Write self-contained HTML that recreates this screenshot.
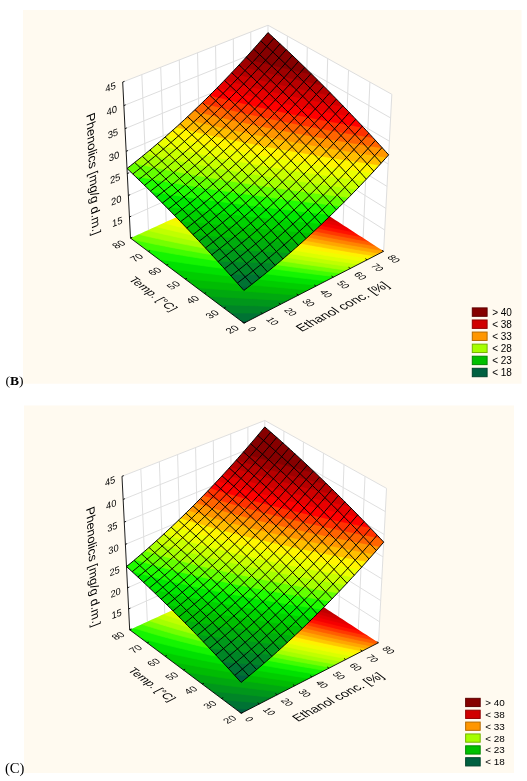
<!DOCTYPE html>
<html><head><meta charset="utf-8"><title>Response surface plots</title>
<style>html,body{margin:0;padding:0;background:#fff}svg{display:block}</style></head>
<body>
<svg width="527" height="781" viewBox="0 0 527 781">
<rect x="23" y="10" width="498.5" height="373.7" fill="#fffaf0"/>
<rect x="24" y="405.5" width="490" height="367.5" fill="#fffaf0"/>
<polygon points="130.51,238.14 122.69,82.07 268,25.24 267.26,175.8" fill="#fff"/>
<polygon points="267.26,175.8 268,25.24 391.83,94.3 383.64,251.34" fill="#fff"/>
<g stroke="#dedede" stroke-width="1" fill="none"><line x1="129.45" y1="216.98" x2="267.36" y2="155.33"/><line x1="267.36" y1="155.33" x2="384.75" y2="230.06"/><line x1="128.37" y1="195.46" x2="267.46" y2="134.53"/><line x1="267.46" y1="134.53" x2="385.88" y2="208.42"/><line x1="127.27" y1="173.57" x2="267.57" y2="113.38"/><line x1="267.57" y1="113.38" x2="387.03" y2="186.4"/><line x1="126.16" y1="151.29" x2="267.67" y2="91.89"/><line x1="267.67" y1="91.89" x2="388.2" y2="163.98"/><line x1="125.02" y1="128.63" x2="267.78" y2="70.04"/><line x1="267.78" y1="70.04" x2="389.39" y2="141.17"/><line x1="123.87" y1="105.55" x2="267.89" y2="47.83"/><line x1="267.89" y1="47.83" x2="390.6" y2="117.95"/><line x1="122.69" y1="82.07" x2="268" y2="25.24"/><line x1="268" y1="25.24" x2="391.83" y2="94.3"/><line x1="148.48" y1="229.94" x2="141.84" y2="74.58"/><line x1="166.18" y1="221.87" x2="160.7" y2="67.2"/><line x1="183.64" y1="213.92" x2="179.26" y2="59.94"/><line x1="200.84" y1="206.08" x2="197.55" y2="52.79"/><line x1="217.8" y1="198.34" x2="215.56" y2="45.75"/><line x1="234.52" y1="190.72" x2="233.3" y2="38.81"/><line x1="251.01" y1="183.21" x2="250.78" y2="31.97"/><line x1="267.26" y1="175.8" x2="268" y2="25.24"/><line x1="383.64" y1="251.34" x2="391.83" y2="94.3"/><line x1="363.12" y1="238.02" x2="369.92" y2="82.08"/><line x1="343.07" y1="225" x2="348.54" y2="70.16"/><line x1="323.47" y1="212.28" x2="327.68" y2="58.52"/><line x1="304.32" y1="199.85" x2="307.31" y2="47.16"/><line x1="285.58" y1="187.69" x2="287.42" y2="36.07"/></g>
<g><clipPath id="bf"><polygon points="244.01,323.13 247.71,321.22 251.41,319.32 255.09,317.43 258.76,315.54 262.42,313.66 266.07,311.79 269.71,309.92 273.33,308.05 276.95,306.19 280.55,304.34 284.14,302.5 287.72,300.65 291.29,298.82 294.85,296.99 298.39,295.17 301.93,293.35 305.46,291.54 308.97,289.73 312.47,287.93 315.97,286.13 319.45,284.34 322.92,282.56 326.38,280.78 329.83,279 333.27,277.24 336.7,275.47 340.12,273.71 343.53,271.96 346.93,270.21 350.32,268.47 353.69,266.74 357.06,265 360.42,263.28 363.77,261.56 367.1,259.84 370.43,258.13 373.75,256.43 377.06,254.72 380.35,253.03 383.64,251.34 380.53,249.32 377.43,247.31 374.35,245.31 371.27,243.31 368.21,241.32 365.15,239.34 362.11,237.36 359.07,235.39 356.05,233.43 353.04,231.47 350.03,229.52 347.04,227.58 344.06,225.65 341.09,223.72 338.13,221.8 335.18,219.88 332.24,217.97 329.3,216.07 326.38,214.17 323.47,212.28 320.57,210.4 317.68,208.52 314.8,206.65 311.93,204.79 309.06,202.93 306.21,201.08 303.37,199.23 300.54,197.4 297.71,195.56 294.9,193.74 292.09,191.92 289.3,190.1 286.51,188.29 283.73,186.49 280.97,184.69 278.21,182.9 275.46,181.12 272.72,179.34 269.99,177.57 267.26,175.8 264.03,177.27 260.79,178.75 257.54,180.23 254.28,181.72 251.01,183.21 247.73,184.7 244.44,186.2 241.14,187.7 237.84,189.21 234.52,190.72 231.2,192.24 227.86,193.76 224.52,195.28 221.16,196.81 217.8,198.34 214.43,199.88 211.05,201.42 207.65,202.97 204.25,204.52 200.84,206.08 197.42,207.63 193.99,209.2 190.55,210.77 187.1,212.34 183.64,213.92 180.17,215.5 176.69,217.09 173.2,218.68 169.7,220.27 166.18,221.87 162.66,223.48 159.13,225.09 155.59,226.7 152.04,228.32 148.48,229.94 144.9,231.57 141.32,233.21 137.73,234.84 134.12,236.49 130.51,238.14 133.15,240.12 135.81,242.1 138.47,244.1 141.14,246.1 143.82,248.11 146.51,250.12 149.21,252.14 151.92,254.17 154.64,256.21 157.37,258.25 160.11,260.3 162.86,262.36 165.62,264.43 168.39,266.5 171.17,268.58 173.95,270.67 176.75,272.77 179.56,274.87 182.38,276.98 185.21,279.1 188.05,281.22 190.9,283.36 193.76,285.5 196.63,287.65 199.51,289.8 202.4,291.97 205.3,294.14 208.21,296.32 211.13,298.51 214.07,300.71 217.01,302.91 219.97,305.13 222.93,307.35 225.91,309.58 228.9,311.81 231.9,314.06 234.91,316.31 237.93,318.58 240.96,320.85"/></clipPath><g clip-path="url(#bf)" opacity="0.999" stroke-width="0.7" stroke-linejoin="round"><polygon points="244.01,323.13 247.71,321.22 251.41,319.32 255.09,317.43 258.76,315.54 262.42,313.66 266.07,311.79 269.71,309.92 273.33,308.05 276.95,306.19 280.55,304.34 284.14,302.5 287.72,300.65 291.29,298.82 294.85,296.99 298.39,295.17 301.93,293.35 305.46,291.54 308.97,289.73 312.47,287.93 315.97,286.13 319.45,284.34 322.92,282.56 326.38,280.78 329.83,279 333.27,277.24 336.7,275.47 340.12,273.71 343.53,271.96 346.93,270.21 350.32,268.47 353.69,266.74 357.06,265 360.42,263.28 363.77,261.56 367.1,259.84 370.43,258.13 373.75,256.43 377.06,254.72 380.35,253.03 383.64,251.34 380.53,249.32 377.43,247.31 374.35,245.31 371.27,243.31 368.21,241.32 365.15,239.34 362.11,237.36 359.07,235.39 356.05,233.43 353.04,231.47 350.03,229.52 347.04,227.58 344.06,225.65 341.09,223.72 338.13,221.8 335.18,219.88 332.24,217.97 329.3,216.07 326.38,214.17 323.47,212.28 320.57,210.4 317.68,208.52 314.8,206.65 311.93,204.79 309.06,202.93 306.21,201.08 303.37,199.23 300.54,197.4 297.71,195.56 294.9,193.74 292.09,191.92 289.3,190.1 286.51,188.29 283.73,186.49 280.97,184.69 278.21,182.9 275.46,181.12 272.72,179.34 269.99,177.57 267.26,175.8 264.03,177.27 260.79,178.75 257.54,180.23 254.28,181.72 251.01,183.21 247.73,184.7 244.44,186.2 241.14,187.7 237.84,189.21 234.52,190.72 231.2,192.24 227.86,193.76 224.52,195.28 221.16,196.81 217.8,198.34 214.43,199.88 211.05,201.42 207.65,202.97 204.25,204.52 200.84,206.08 197.42,207.63 193.99,209.2 190.55,210.77 187.1,212.34 183.64,213.92 180.17,215.5 176.69,217.09 173.2,218.68 169.7,220.27 166.18,221.87 162.66,223.48 159.13,225.09 155.59,226.7 152.04,228.32 148.48,229.94 144.9,231.57 141.32,233.21 137.73,234.84 134.12,236.49 130.51,238.14 133.15,240.12 135.81,242.1 138.47,244.1 141.14,246.1 143.82,248.11 146.51,250.12 149.21,252.14 151.92,254.17 154.64,256.21 157.37,258.25 160.11,260.3 162.86,262.36 165.62,264.43 168.39,266.5 171.17,268.58 173.95,270.67 176.75,272.77 179.56,274.87 182.38,276.98 185.21,279.1 188.05,281.22 190.9,283.36 193.76,285.5 196.63,287.65 199.51,289.8 202.4,291.97 205.3,294.14 208.21,296.32 211.13,298.51 214.07,300.71 217.01,302.91 219.97,305.13 222.93,307.35 225.91,309.58 228.9,311.81 231.9,314.06 234.91,316.31 237.93,318.58 240.96,320.85" fill="#006040" stroke="#006040"/><polygon points="244.01,323.13 241.98,321.61 239.95,320.09 237.93,318.58 235.92,317.07 233.9,315.56 231.9,314.06 229.9,312.56 227.9,311.07 225.91,309.58 223.93,308.09 221.94,306.61 219.97,305.13 218,303.65 216.03,302.18 214.07,300.71 212.11,299.24 210.16,297.78 208.21,296.32 206.27,294.87 204.33,293.42 202.4,291.97 200.47,290.53 198.55,289.08 196.63,287.65 194.71,286.21 192.8,284.78 190.9,283.36 189,281.93 187.1,280.51 185.21,279.1 183.32,277.68 181.44,276.27 179.56,274.87 177.69,273.47 175.82,272.07 173.95,270.67 172.09,269.28 170.24,267.89 168.39,266.5 166.54,265.12 164.7,263.74 162.86,262.36 161.03,260.99 159.2,259.62 157.37,258.25 155.55,256.89 153.74,255.53 151.92,254.17 150.12,252.82 148.31,251.47 146.51,250.12 144.72,248.78 142.93,247.44 141.14,246.1 139.36,244.76 137.58,243.43 135.81,242.1 134.03,240.78 132.27,239.45 130.51,238.14 142.52,232.66 154.41,227.24 166.18,221.87 177.85,216.56 189.4,211.29 200.84,206.08 212.17,200.91 223.4,195.79 234.52,190.72 245.54,185.7 256.45,180.73 267.26,175.8 276.37,181.71 285.58,187.69 294.9,193.74 304.32,199.85 313.84,206.03 323.47,212.28 333.21,218.61 343.07,225 353.04,231.47 363.12,238.02 373.32,244.64 383.64,251.34 372.64,256.99 361.54,262.7 350.32,268.47 338.98,274.3 327.53,280.19 315.97,286.13 304.28,292.14 292.48,298.21 280.55,304.34 268.5,310.54 256.32,316.8" fill="#006040" stroke="#006040"/><polygon points="248.84,320.64 243.72,320.72 239.95,320.09 237.93,318.58 235.92,317.07 233.9,315.56 231.9,314.06 229.9,312.56 227.9,311.07 225.91,309.58 223.93,308.09 221.94,306.61 219.97,305.13 218,303.65 216.03,302.18 214.07,300.71 212.11,299.24 210.16,297.78 208.21,296.32 206.27,294.87 204.33,293.42 202.4,291.97 200.47,290.53 198.55,289.08 196.63,287.65 194.71,286.21 192.8,284.78 190.9,283.36 189,281.93 187.1,280.51 185.21,279.1 183.32,277.68 181.44,276.27 179.56,274.87 177.69,273.47 175.82,272.07 173.95,270.67 172.09,269.28 170.24,267.89 168.39,266.5 166.54,265.12 164.7,263.74 162.86,262.36 161.03,260.99 159.2,259.62 157.37,258.25 155.55,256.89 153.74,255.53 151.92,254.17 150.12,252.82 148.31,251.47 146.51,250.12 144.72,248.78 142.93,247.44 141.14,246.1 139.36,244.76 137.58,243.43 135.81,242.1 134.03,240.78 132.27,239.45 130.51,238.14 142.52,232.66 154.41,227.24 166.18,221.87 177.85,216.56 189.4,211.29 200.84,206.08 212.17,200.91 223.4,195.79 234.52,190.72 245.54,185.7 256.45,180.73 267.26,175.8 276.37,181.71 285.58,187.69 294.9,193.74 304.32,199.85 313.84,206.03 323.47,212.28 333.21,218.61 343.07,225 353.04,231.47 363.12,238.02 373.32,244.64 383.64,251.34 373,256.81 362.26,262.33 351.42,267.91 340.47,273.54 329.41,279.22 318.24,284.96 306.96,290.76 295.57,296.62 284.06,302.54 272.44,308.51 260.7,314.55" fill="#007334" stroke="#007334"/><polygon points="263.28,313.22 258.48,313.14 253.67,313.07 248.83,313.01 243.98,312.96 239.1,312.92 234.2,312.89 229.9,312.56 227.9,311.07 225.91,309.58 223.93,308.09 221.94,306.61 219.97,305.13 218,303.65 216.03,302.18 214.07,300.71 212.11,299.24 210.16,297.78 208.21,296.32 206.27,294.87 204.33,293.42 202.4,291.97 200.47,290.53 198.55,289.08 196.63,287.65 194.71,286.21 192.8,284.78 190.9,283.36 189,281.93 187.1,280.51 185.21,279.1 183.32,277.68 181.44,276.27 179.56,274.87 177.69,273.47 175.82,272.07 173.95,270.67 172.09,269.28 170.24,267.89 168.39,266.5 166.54,265.12 164.7,263.74 162.86,262.36 161.03,260.99 159.2,259.62 157.37,258.25 155.55,256.89 153.74,255.53 151.92,254.17 150.12,252.82 148.31,251.47 146.51,250.12 144.72,248.78 142.93,247.44 141.14,246.1 139.36,244.76 137.58,243.43 135.81,242.1 134.03,240.78 132.27,239.45 130.51,238.14 142.52,232.66 154.41,227.24 166.18,221.87 177.85,216.56 189.4,211.29 200.84,206.08 212.17,200.91 223.4,195.79 234.52,190.72 245.54,185.7 256.45,180.73 267.26,175.8 276.37,181.71 285.58,187.69 294.9,193.74 304.32,199.85 313.84,206.03 323.47,212.28 333.21,218.61 343.07,225 353.04,231.47 363.12,238.02 373.32,244.64 383.64,251.34 374.09,256.25 364.45,261.2 354.74,266.2 344.93,271.24 335.04,276.33 325.06,281.46 314.99,286.63 304.84,291.85 294.59,297.12 284.25,302.44 273.81,307.8" fill="#008527" stroke="#008527"/><polygon points="276.1,306.63 271.53,306.44 266.96,306.27 262.37,306.09 257.78,305.92 253.17,305.76 248.56,305.6 243.94,305.45 239.3,305.3 234.66,305.17 230,305.03 225.32,304.91 220.64,304.79 218,303.65 216.03,302.18 214.07,300.71 212.11,299.24 210.16,297.78 208.21,296.32 206.27,294.87 204.33,293.42 202.4,291.97 200.47,290.53 198.55,289.08 196.63,287.65 194.71,286.21 192.8,284.78 190.9,283.36 189,281.93 187.1,280.51 185.21,279.1 183.32,277.68 181.44,276.27 179.56,274.87 177.69,273.47 175.82,272.07 173.95,270.67 172.09,269.28 170.24,267.89 168.39,266.5 166.54,265.12 164.7,263.74 162.86,262.36 161.03,260.99 159.2,259.62 157.37,258.25 155.55,256.89 153.74,255.53 151.92,254.17 150.12,252.82 148.31,251.47 146.51,250.12 144.72,248.78 142.93,247.44 141.14,246.1 139.36,244.76 137.58,243.43 135.81,242.1 134.03,240.78 132.27,239.45 130.51,238.14 142.52,232.66 154.41,227.24 166.18,221.87 177.85,216.56 189.4,211.29 200.84,206.08 212.17,200.91 223.4,195.79 234.52,190.72 245.54,185.7 256.45,180.73 267.26,175.8 276.37,181.71 285.58,187.69 294.9,193.74 304.32,199.85 313.84,206.03 323.47,212.28 333.21,218.61 343.07,225 353.04,231.47 363.12,238.02 373.32,244.64 383.64,251.34 375.06,255.75 366.42,260.19 357.7,264.67 348.92,269.19 340.07,273.74 331.15,278.33 322.16,282.95 313.09,287.61 303.96,292.31 294.75,297.04 285.46,301.82" fill="#00971b" stroke="#00971b"/><polygon points="287.71,300.66 283.32,300.4 278.92,300.14 274.52,299.88 270.12,299.63 265.72,299.38 261.32,299.13 256.91,298.88 252.49,298.64 248.08,298.4 243.66,298.16 239.23,297.92 234.8,297.69 230.37,297.46 225.92,297.24 221.48,297.02 217.03,296.8 212.57,296.59 208.21,296.32 206.27,294.87 204.33,293.42 202.4,291.97 200.47,290.53 198.55,289.08 196.63,287.65 194.71,286.21 192.8,284.78 190.9,283.36 189,281.93 187.1,280.51 185.21,279.1 183.32,277.68 181.44,276.27 179.56,274.87 177.69,273.47 175.82,272.07 173.95,270.67 172.09,269.28 170.24,267.89 168.39,266.5 166.54,265.12 164.7,263.74 162.86,262.36 161.03,260.99 159.2,259.62 157.37,258.25 155.55,256.89 153.74,255.53 151.92,254.17 150.12,252.82 148.31,251.47 146.51,250.12 144.72,248.78 142.93,247.44 141.14,246.1 139.36,244.76 137.58,243.43 135.81,242.1 134.03,240.78 132.27,239.45 130.51,238.14 142.52,232.66 154.41,227.24 166.18,221.87 177.85,216.56 189.4,211.29 200.84,206.08 212.17,200.91 223.4,195.79 234.52,190.72 245.54,185.7 256.45,180.73 267.26,175.8 276.37,181.71 285.58,187.69 294.9,193.74 304.32,199.85 313.84,206.03 323.47,212.28 333.21,218.61 343.07,225 353.04,231.47 363.12,238.02 373.32,244.64 383.64,251.34 375.95,255.29 368.21,259.27 360.42,263.28 352.56,267.32 344.66,271.38 336.7,275.48 328.68,279.6 320.6,283.75 312.47,287.93 304.27,292.14 296.02,296.39" fill="#00a90f" stroke="#00a90f"/><polygon points="298.37,295.18 294.12,294.86 289.87,294.54 285.62,294.22 281.37,293.9 277.12,293.58 272.88,293.26 268.63,292.94 264.39,292.62 260.14,292.31 255.9,291.99 251.66,291.68 247.42,291.37 243.17,291.05 238.93,290.74 234.69,290.43 230.45,290.12 226.21,289.82 221.97,289.51 217.74,289.2 213.5,288.9 209.26,288.59 205.02,288.29 200.78,287.99 196.63,287.65 194.71,286.21 192.8,284.78 190.9,283.36 189,281.93 187.1,280.51 185.21,279.1 183.32,277.68 181.44,276.27 179.56,274.87 177.69,273.47 175.82,272.07 173.95,270.67 172.09,269.28 170.24,267.89 168.39,266.5 166.54,265.12 164.7,263.74 162.86,262.36 161.03,260.99 159.2,259.62 157.37,258.25 155.55,256.89 153.74,255.53 151.92,254.17 150.12,252.82 148.31,251.47 146.51,250.12 144.72,248.78 142.93,247.44 141.14,246.1 139.36,244.76 137.58,243.43 135.81,242.1 134.03,240.78 132.27,239.45 130.51,238.14 142.52,232.66 154.41,227.24 166.18,221.87 177.85,216.56 189.4,211.29 200.84,206.08 212.17,200.91 223.4,195.79 234.52,190.72 245.54,185.7 256.45,180.73 267.26,175.8 276.37,181.71 285.58,187.69 294.9,193.74 304.32,199.85 313.84,206.03 323.47,212.28 333.21,218.61 343.07,225 353.04,231.47 363.12,238.02 373.32,244.64 383.64,251.34 376.78,254.87 369.87,258.42 362.92,261.99 355.93,265.59 348.9,269.2 341.81,272.84 334.69,276.51 327.52,280.19 320.3,283.9 313.04,287.64 305.73,291.4" fill="#00bc03" stroke="#00bc03"/><polygon points="308.27,290.09 304.13,289.72 300,289.35 295.87,288.98 291.75,288.61 287.62,288.23 283.51,287.86 279.39,287.49 275.28,287.12 271.17,286.74 267.07,286.37 262.97,286 258.87,285.62 254.78,285.25 250.69,284.87 246.61,284.5 242.53,284.12 238.45,283.74 234.38,283.37 230.31,282.99 226.25,282.61 222.19,282.23 218.13,281.85 214.08,281.47 210.04,281.09 206,280.71 201.96,280.32 197.93,279.94 193.9,279.55 189.88,279.17 185.87,278.78 183.32,277.68 181.44,276.27 179.56,274.87 177.69,273.47 175.82,272.07 173.95,270.67 172.09,269.28 170.24,267.89 168.39,266.5 166.54,265.12 164.7,263.74 162.86,262.36 161.03,260.99 159.2,259.62 157.37,258.25 155.55,256.89 153.74,255.53 151.92,254.17 150.12,252.82 148.31,251.47 146.51,250.12 144.72,248.78 142.93,247.44 141.14,246.1 139.36,244.76 137.58,243.43 135.81,242.1 134.03,240.78 132.27,239.45 130.51,238.14 142.52,232.66 154.41,227.24 166.18,221.87 177.85,216.56 189.4,211.29 200.84,206.08 212.17,200.91 223.4,195.79 234.52,190.72 245.54,185.7 256.45,180.73 267.26,175.8 276.37,181.71 285.58,187.69 294.9,193.74 304.32,199.85 313.84,206.03 323.47,212.28 333.21,218.61 343.07,225 353.04,231.47 363.12,238.02 373.32,244.64 383.64,251.34 377.55,254.47 371.43,257.62 365.27,260.78 359.08,263.97 352.85,267.17 346.59,270.39 340.29,273.63 333.96,276.88 327.59,280.16 321.19,283.45 314.75,286.76" fill="#00cd00" stroke="#00cd00"/><polygon points="317.54,285.33 313.5,284.92 309.46,284.51 305.43,284.09 301.41,283.68 297.39,283.27 293.38,282.85 289.37,282.44 285.37,282.02 281.37,281.6 277.38,281.18 273.4,280.76 269.42,280.34 265.44,279.91 261.48,279.49 257.52,279.06 253.56,278.63 249.61,278.2 245.67,277.77 241.74,277.34 237.81,276.91 233.89,276.47 229.98,276.03 226.07,275.59 222.17,275.15 218.28,274.71 214.4,274.26 210.52,273.82 206.65,273.37 202.79,272.92 198.94,272.46 195.1,272.01 191.26,271.55 187.44,271.09 183.62,270.62 179.81,270.16 176.01,269.69 172.23,269.21 170.24,267.89 168.39,266.5 166.54,265.12 164.7,263.74 162.86,262.36 161.03,260.99 159.2,259.62 157.37,258.25 155.55,256.89 153.74,255.53 151.92,254.17 150.12,252.82 148.31,251.47 146.51,250.12 144.72,248.78 142.93,247.44 141.14,246.1 139.36,244.76 137.58,243.43 135.81,242.1 134.03,240.78 132.27,239.45 130.51,238.14 142.52,232.66 154.41,227.24 166.18,221.87 177.85,216.56 189.4,211.29 200.84,206.08 212.17,200.91 223.4,195.79 234.52,190.72 245.54,185.7 256.45,180.73 267.26,175.8 276.37,181.71 285.58,187.69 294.9,193.74 304.32,199.85 313.84,206.03 323.47,212.28 333.21,218.61 343.07,225 353.04,231.47 363.12,238.02 373.32,244.64 383.64,251.34 378.28,254.1 372.89,256.87 367.48,259.65 362.04,262.45 356.57,265.26 351.08,268.08 345.56,270.92 340.01,273.77 334.43,276.64 328.83,279.52 323.2,282.42" fill="#00e100" stroke="#00e100"/><polygon points="326.26,280.84 322.31,280.4 318.36,279.95 314.41,279.51 310.48,279.06 306.55,278.61 302.62,278.16 298.7,277.71 294.79,277.25 290.89,276.8 286.99,276.34 283.1,275.88 279.22,275.42 275.35,274.96 271.48,274.49 267.62,274.03 263.77,273.56 259.93,273.09 256.09,272.62 252.26,272.14 248.44,271.66 244.63,271.18 240.83,270.7 237.04,270.22 233.25,269.73 229.48,269.24 225.71,268.75 221.96,268.26 218.21,267.76 214.48,267.26 210.75,266.76 207.03,266.25 203.33,265.74 199.63,265.23 195.95,264.71 192.28,264.19 188.62,263.67 184.97,263.14 181.33,262.61 177.7,262.08 174.09,261.54 170.49,261 166.9,260.45 163.33,259.91 159.77,259.35 157.37,258.25 155.55,256.89 153.74,255.53 151.92,254.17 150.12,252.82 148.31,251.47 146.51,250.12 144.72,248.78 142.93,247.44 141.14,246.1 139.36,244.76 137.58,243.43 135.81,242.1 134.03,240.78 132.27,239.45 130.51,238.14 142.52,232.66 154.41,227.24 166.18,221.87 177.85,216.56 189.4,211.29 200.84,206.08 212.17,200.91 223.4,195.79 234.52,190.72 245.54,185.7 256.45,180.73 267.26,175.8 276.37,181.71 285.58,187.69 294.9,193.74 304.32,199.85 313.84,206.03 323.47,212.28 333.21,218.61 343.07,225 353.04,231.47 363.12,238.02 373.32,244.64 383.64,251.34 378.97,253.74 374.28,256.15 369.57,258.57 364.84,261 360.09,263.45 355.32,265.9 350.53,268.36 345.72,270.84 340.89,273.32 336.03,275.82 331.16,278.32" fill="#14f500" stroke="#14f500"/><polygon points="334.53,276.59 330.65,276.12 326.77,275.64 322.9,275.17 319.04,274.69 315.18,274.22 311.33,273.74 307.49,273.25 303.66,272.77 299.84,272.28 296.02,271.8 292.21,271.31 288.41,270.81 284.62,270.32 280.84,269.82 277.06,269.32 273.3,268.82 269.54,268.32 265.79,267.81 262.05,267.3 258.32,266.79 254.6,266.28 250.89,265.76 247.19,265.24 243.5,264.72 239.82,264.19 236.15,263.67 232.49,263.14 228.84,262.6 225.21,262.06 221.58,261.52 217.96,260.98 214.36,260.43 210.77,259.88 207.19,259.32 203.62,258.76 200.07,258.2 196.52,257.64 192.99,257.07 189.48,256.49 185.97,255.91 182.48,255.33 179.01,254.74 175.54,254.15 172.1,253.56 168.66,252.96 165.25,252.35 161.84,251.74 158.46,251.13 155.08,250.51 151.73,249.88 148.39,249.25 145.07,248.62 142.93,247.44 141.14,246.1 139.36,244.76 137.58,243.43 135.81,242.1 134.03,240.78 132.27,239.45 130.51,238.14 142.52,232.66 154.41,227.24 166.18,221.87 177.85,216.56 189.4,211.29 200.84,206.08 212.17,200.91 223.4,195.79 234.52,190.72 245.54,185.7 256.45,180.73 267.26,175.8 276.37,181.71 285.58,187.69 294.9,193.74 304.32,199.85 313.84,206.03 323.47,212.28 333.21,218.61 343.07,225 353.04,231.47 363.12,238.02 373.32,244.64 383.64,251.34 379.63,253.4 375.61,255.47 371.57,257.55 367.51,259.63 363.44,261.72 359.36,263.82 355.26,265.93 351.14,268.05 347.01,270.17 342.87,272.3 338.71,274.44" fill="#41fd00" stroke="#41fd00"/><polygon points="340.88,273.32 337.05,272.83 333.23,272.34 329.41,271.85 325.6,271.35 321.8,270.85 318,270.35 314.22,269.85 310.44,269.34 306.67,268.84 302.91,268.33 299.16,267.82 295.42,267.3 291.68,266.79 287.96,266.27 284.24,265.75 280.54,265.22 276.84,264.7 273.15,264.17 269.47,263.64 265.81,263.1 262.15,262.56 258.5,262.02 254.87,261.48 251.24,260.94 247.62,260.39 244.02,259.83 240.42,259.28 236.84,258.72 233.27,258.16 229.71,257.59 226.16,257.02 222.63,256.45 219.1,255.87 215.59,255.29 212.09,254.71 208.61,254.12 205.14,253.53 201.68,252.94 198.23,252.34 194.8,251.73 191.38,251.12 187.97,250.51 184.58,249.9 181.21,249.27 177.85,248.65 174.5,248.02 171.17,247.38 167.86,246.74 164.56,246.1 161.28,245.44 158.01,244.79 154.76,244.13 151.53,243.46 148.32,242.79 145.12,242.11 141.94,241.43 138.78,240.74 135.63,240.05 132.51,239.35 130.51,238.14 142.52,232.66 154.41,227.24 166.18,221.87 177.85,216.56 189.4,211.29 200.84,206.08 212.17,200.91 223.4,195.79 234.52,190.72 245.54,185.7 256.45,180.73 267.26,175.8 276.37,181.71 285.58,187.69 294.9,193.74 304.32,199.85 313.84,206.03 323.47,212.28 333.21,218.61 343.07,225 353.04,231.47 363.12,238.02 373.32,244.64 383.64,251.34 380.14,253.14 376.63,254.94 373.11,256.76 369.57,258.57 366.02,260.4 362.47,262.23 358.9,264.06 355.32,265.9 351.73,267.75 348.12,269.6 344.51,271.46" fill="#74ff00" stroke="#74ff00"/><polygon points="347,270.18 343.21,269.67 339.44,269.16 335.67,268.65 331.91,268.13 328.15,267.62 324.41,267.1 320.67,266.58 316.94,266.06 313.22,265.53 309.52,265 305.81,264.47 302.12,263.94 298.44,263.41 294.77,262.87 291.11,262.33 287.45,261.78 283.81,261.24 280.17,260.69 276.55,260.14 272.94,259.59 269.34,259.03 265.74,258.47 262.16,257.91 258.59,257.34 255.03,256.77 251.48,256.2 247.95,255.62 244.42,255.04 240.91,254.46 237.41,253.87 233.92,253.28 230.44,252.69 226.97,252.09 223.52,251.49 220.08,250.89 216.66,250.28 213.24,249.67 209.84,249.05 206.46,248.43 203.09,247.81 199.73,247.18 196.38,246.54 193.05,245.91 189.74,245.26 186.44,244.62 183.16,243.97 179.89,243.31 176.63,242.65 173.39,241.98 170.17,241.31 166.97,240.64 163.78,239.96 160.61,239.27 157.45,238.58 154.31,237.88 151.19,237.18 148.09,236.47 145,235.76 141.94,235.04 138.89,234.31 150.13,229.19 161.26,224.12 172.3,219.09 183.23,214.1 194.06,209.16 204.8,204.27 215.45,199.42 225.99,194.61 236.45,189.84 246.81,185.12 257.08,180.44 267.26,175.8 276.37,181.71 285.58,187.69 294.9,193.74 304.32,199.85 313.84,206.03 323.47,212.28 333.21,218.61 343.07,225 353.04,231.47 363.12,238.02 373.32,244.64 383.64,251.34 380.63,252.89 377.62,254.44 374.59,255.99 371.56,257.55 368.52,259.11 365.47,260.68 362.41,262.25 359.35,263.83 356.27,265.41 353.19,266.99 350.1,268.58" fill="#a5ff00" stroke="#a5ff00"/><polygon points="352.9,267.14 349.16,266.62 345.43,266.09 341.7,265.57 337.98,265.04 334.27,264.5 330.57,263.97 326.88,263.43 323.2,262.89 319.52,262.35 315.86,261.81 312.21,261.26 308.56,260.71 304.92,260.16 301.3,259.61 297.68,259.05 294.08,258.49 290.48,257.93 286.9,257.36 283.32,256.79 279.76,256.22 276.2,255.65 272.66,255.07 269.13,254.49 265.61,253.91 262.1,253.32 258.6,252.73 255.11,252.14 251.64,251.54 248.17,250.94 244.72,250.34 241.28,249.73 237.86,249.12 234.44,248.51 231.04,247.89 227.66,247.27 224.28,246.64 220.92,246.01 217.57,245.38 214.24,244.74 210.92,244.1 207.61,243.45 204.32,242.8 201.04,242.14 197.78,241.48 194.53,240.82 191.3,240.15 188.08,239.48 184.88,238.8 181.69,238.12 178.52,237.43 175.37,236.74 172.23,236.04 169.11,235.34 166,234.63 162.91,233.92 159.84,233.21 156.79,232.48 153.75,231.76 150.73,231.02 147.73,230.28 158.16,225.53 168.5,220.82 178.76,216.14 188.92,211.51 199,206.91 209,202.36 218.91,197.84 228.74,193.36 238.49,188.91 248.16,184.51 257.75,180.13 267.26,175.8 276.37,181.71 285.58,187.69 294.9,193.74 304.32,199.85 313.84,206.03 323.47,212.28 333.21,218.61 343.07,225 353.04,231.47 363.12,238.02 373.32,244.64 383.64,251.34 381.11,252.64 378.58,253.94 376.04,255.25 373.49,256.56 370.94,257.87 368.38,259.19 365.81,260.5 363.24,261.83 360.67,263.15 358.09,264.48 355.5,265.81" fill="#c0ff00" stroke="#c0ff00"/><polygon points="358.61,264.21 354.91,263.67 351.21,263.13 347.52,262.59 343.85,262.05 340.18,261.5 336.52,260.95 332.87,260.4 329.23,259.85 325.59,259.29 321.97,258.73 318.36,258.17 314.76,257.61 311.16,257.04 307.58,256.47 304,255.9 300.44,255.33 296.89,254.75 293.35,254.17 289.81,253.59 286.29,253 282.78,252.41 279.28,251.82 275.8,251.22 272.32,250.62 268.85,250.02 265.4,249.42 261.96,248.81 258.53,248.2 255.11,247.58 251.71,246.96 248.31,246.34 244.93,245.72 241.56,245.09 238.21,244.45 234.87,243.82 231.54,243.17 228.22,242.53 224.92,241.88 221.63,241.23 218.36,240.57 215.09,239.91 211.85,239.25 208.62,238.58 205.4,237.9 202.19,237.23 199.01,236.54 195.83,235.86 192.68,235.17 189.53,234.47 186.41,233.77 183.3,233.06 180.2,232.35 177.12,231.64 174.06,230.92 171.01,230.2 167.99,229.47 164.97,228.73 161.98,227.99 159,227.25 156.04,226.5 165.71,222.09 175.31,217.71 184.83,213.37 194.28,209.07 203.65,204.79 212.95,200.55 222.18,196.35 231.34,192.17 240.42,188.03 249.44,183.92 258.38,179.85 267.26,175.8 276.37,181.71 285.58,187.69 294.9,193.74 304.32,199.85 313.84,206.03 323.47,212.28 333.21,218.61 343.07,225 353.04,231.47 363.12,238.02 373.32,244.64 383.64,251.34 381.58,252.4 379.51,253.46 377.44,254.53 375.36,255.6 373.28,256.67 371.2,257.74 369.11,258.81 367.02,259.89 364.92,260.96 362.82,262.04 360.72,263.12" fill="#dbff00" stroke="#dbff00"/><polygon points="364.14,261.37 360.47,260.82 356.81,260.26 353.16,259.71 349.52,259.15 345.89,258.59 342.27,258.03 338.65,257.47 335.05,256.9 331.45,256.33 327.87,255.76 324.29,255.19 320.73,254.61 317.17,254.03 313.63,253.45 310.1,252.87 306.57,252.28 303.06,251.69 299.55,251.1 296.06,250.5 292.58,249.9 289.11,249.3 285.65,248.69 282.2,248.08 278.77,247.47 275.34,246.86 271.93,246.24 268.53,245.62 265.14,244.99 261.76,244.36 258.39,243.73 255.04,243.1 251.7,242.46 248.37,241.82 245.06,241.17 241.75,240.52 238.47,239.87 235.19,239.21 231.93,238.55 228.68,237.88 225.45,237.21 222.22,236.54 219.02,235.86 215.83,235.18 212.65,234.5 209.48,233.81 206.33,233.11 203.2,232.41 200.08,231.71 196.98,231 193.89,230.29 190.82,229.58 187.76,228.86 184.72,228.13 181.69,227.4 178.68,226.67 175.69,225.93 172.72,225.18 169.76,224.43 166.81,223.68 163.89,222.92 172.85,218.83 181.75,214.78 190.59,210.75 199.35,206.75 208.06,202.78 216.7,198.85 225.28,194.93 233.8,191.05 242.25,187.2 250.65,183.37 258.99,179.57 267.26,175.8 276.37,181.71 285.58,187.69 294.9,193.74 304.32,199.85 313.84,206.03 323.47,212.28 333.21,218.61 343.07,225 353.04,231.47 363.12,238.02 373.32,244.64 383.64,251.34 382.03,252.17 380.41,253 378.8,253.83 377.18,254.66 375.56,255.5 373.93,256.33 372.31,257.17 370.68,258 369.05,258.84 367.41,259.68 365.78,260.52" fill="#f1fc00" stroke="#f1fc00"/><polygon points="369.5,258.61 365.87,258.05 362.24,257.49 358.62,256.92 355.02,256.35 351.42,255.78 347.83,255.21 344.25,254.63 340.68,254.06 337.12,253.48 333.57,252.89 330.03,252.31 326.5,251.72 322.98,251.13 319.47,250.53 315.98,249.94 312.49,249.34 309.01,248.74 305.54,248.13 302.08,247.52 298.64,246.91 295.21,246.3 291.78,245.68 288.37,245.06 284.97,244.44 281.58,243.81 278.2,243.18 274.84,242.55 271.48,241.91 268.14,241.27 264.81,240.63 261.5,239.98 258.19,239.33 254.9,238.68 251.62,238.02 248.36,237.36 245.11,236.7 241.87,236.03 238.64,235.36 235.43,234.68 232.23,234 229.04,233.32 225.87,232.63 222.71,231.94 219.57,231.24 216.44,230.54 213.33,229.84 210.23,229.13 207.15,228.42 204.08,227.7 201.02,226.98 197.98,226.25 194.96,225.52 191.95,224.79 188.96,224.05 185.98,223.31 183.02,222.56 180.08,221.81 177.15,221.05 174.24,220.29 171.34,219.52 179.64,215.74 187.88,211.99 196.06,208.26 204.18,204.55 212.26,200.87 220.27,197.22 228.24,193.59 236.15,189.98 244,186.4 251.81,182.84 259.56,179.31 267.26,175.8 276.37,181.71 285.58,187.69 294.9,193.74 304.32,199.85 313.84,206.03 323.47,212.28 333.21,218.61 343.07,225 353.04,231.47 363.12,238.02 373.32,244.64 383.64,251.34 382.47,251.94 381.3,252.54 380.12,253.15 378.95,253.75 377.77,254.36 376.59,254.96 375.41,255.57 374.23,256.18 373.05,256.78 371.87,257.39 370.69,258" fill="#fff100" stroke="#fff100"/><polygon points="374.71,255.93 371.1,255.36 367.51,254.79 363.93,254.21 360.35,253.63 356.78,253.05 353.23,252.47 349.68,251.88 346.14,251.3 342.62,250.7 339.1,250.11 335.59,249.51 332.09,248.92 328.61,248.31 325.13,247.71 321.66,247.1 318.21,246.49 314.76,245.88 311.33,245.27 307.9,244.65 304.49,244.03 301.09,243.4 297.7,242.77 294.32,242.14 290.95,241.51 287.6,240.87 284.25,240.23 280.92,239.59 277.6,238.94 274.29,238.29 271,237.64 267.71,236.99 264.44,236.33 261.18,235.66 257.94,234.99 254.7,234.32 251.48,233.65 248.28,232.97 245.08,232.29 241.9,231.61 238.74,230.92 235.58,230.22 232.44,229.53 229.32,228.83 226.21,228.12 223.11,227.41 220.03,226.7 216.96,225.98 213.91,225.26 210.87,224.54 207.84,223.81 204.83,223.08 201.84,222.34 198.86,221.6 195.9,220.85 192.95,220.1 190.02,219.35 187.1,218.59 184.2,217.82 181.32,217.06 178.45,216.28 186.11,212.79 193.72,209.32 201.28,205.87 208.8,202.45 216.27,199.04 223.69,195.66 231.06,192.3 238.39,188.96 245.68,185.64 252.92,182.34 260.11,179.06 267.26,175.8 276.37,181.71 285.58,187.69 294.9,193.74 304.32,199.85 313.84,206.03 323.47,212.28 333.21,218.61 343.07,225 353.04,231.47 363.12,238.02 373.32,244.64 383.64,251.34 382.9,251.72 382.16,252.1 381.41,252.48 380.67,252.87 379.93,253.25 379.18,253.63 378.44,254.01 377.69,254.4 376.95,254.78 376.2,255.16 375.45,255.55" fill="#ffc700" stroke="#ffc700"/><polygon points="379.77,253.33 376.2,252.75 372.63,252.17 369.08,251.58 365.53,250.99 361.99,250.4 358.47,249.81 354.95,249.21 351.44,248.62 347.95,248.02 344.46,247.41 340.98,246.81 337.51,246.2 334.06,245.59 330.61,244.98 327.17,244.36 323.75,243.74 320.33,243.12 316.93,242.49 313.53,241.87 310.15,241.23 306.78,240.6 303.42,239.96 300.07,239.33 296.74,238.68 293.41,238.04 290.1,237.39 286.79,236.74 283.5,236.08 280.23,235.42 276.96,234.76 273.71,234.09 270.47,233.43 267.24,232.75 264.02,232.08 260.82,231.4 257.63,230.72 254.45,230.03 251.29,229.34 248.14,228.65 245,227.95 241.87,227.25 238.76,226.55 235.67,225.84 232.58,225.12 229.51,224.41 226.46,223.69 223.42,222.97 220.39,222.24 217.38,221.51 214.38,220.77 211.4,220.03 208.44,219.29 205.48,218.54 202.55,217.79 199.62,217.03 196.72,216.27 193.82,215.5 190.95,214.74 188.09,213.96 185.24,213.18 192.3,209.97 199.31,206.77 206.29,203.59 213.22,200.43 220.11,197.29 226.97,194.17 233.78,191.06 240.55,187.97 247.29,184.9 253.98,181.85 260.64,178.82 267.26,175.8 276.37,181.71 285.58,187.69 294.9,193.74 304.32,199.85 313.84,206.03 323.47,212.28 333.21,218.61 343.07,225 353.04,231.47 363.12,238.02 373.32,244.64 383.64,251.34 383.32,251.5 383,251.67 382.68,251.84 382.35,252 382.03,252.17 381.71,252.33 381.39,252.5 381.06,252.66 380.74,252.83 380.42,253 380.09,253.16" fill="#ffa600" stroke="#ffa600"/><polygon points="383.64,251.34 381.15,250.2 377.62,249.61 374.09,249.02 370.57,248.42 367.06,247.82 363.56,247.22 360.07,246.62 356.59,246.01 353.12,245.4 349.66,244.79 346.21,244.18 342.77,243.56 339.35,242.94 335.93,242.32 332.52,241.7 329.12,241.07 325.73,240.44 322.36,239.8 318.99,239.17 315.64,238.53 312.3,237.89 308.96,237.24 305.64,236.6 302.33,235.94 299.04,235.29 295.75,234.63 292.48,233.97 289.21,233.31 285.96,232.64 282.73,231.97 279.5,231.3 276.29,230.62 273.09,229.94 269.9,229.26 266.72,228.57 263.56,227.88 260.41,227.19 257.27,226.49 254.15,225.79 251.04,225.09 247.94,224.38 244.85,223.67 241.78,222.96 238.73,222.24 235.68,221.52 232.65,220.79 229.64,220.06 226.64,219.33 223.65,218.59 220.68,217.85 217.72,217.1 214.78,216.35 211.85,215.6 208.93,214.84 206.03,214.08 203.15,213.31 200.28,212.54 197.43,211.77 194.59,210.99 191.77,210.21 198.25,207.26 204.69,204.32 211.1,201.4 217.47,198.49 223.81,195.6 230.12,192.73 236.39,189.87 242.63,187.03 248.84,184.2 255.01,181.38 261.15,178.58 267.26,175.8 276.37,181.71 285.58,187.69 294.9,193.74 304.32,199.85 313.84,206.03 323.47,212.28 333.21,218.61 343.07,225 353.04,231.47 363.12,238.02 373.32,244.64 383.64,251.34" fill="#ff8400" stroke="#ff8400"/><polygon points="375.37,245.97 372,245.31 368.52,244.7 365.06,244.09 361.61,243.48 358.16,242.86 354.73,242.24 351.3,241.62 347.89,241 344.49,240.37 341.09,239.74 337.71,239.11 334.34,238.47 330.98,237.83 327.63,237.19 324.29,236.55 320.96,235.9 317.65,235.25 314.34,234.6 311.05,233.95 307.76,233.29 304.49,232.63 301.23,231.96 297.98,231.3 294.75,230.63 291.52,229.95 288.31,229.28 285.11,228.6 281.92,227.91 278.74,227.23 275.58,226.54 272.43,225.84 269.29,225.15 266.17,224.45 263.05,223.74 259.95,223.04 256.87,222.33 253.79,221.61 250.73,220.9 247.69,220.18 244.65,219.45 241.63,218.72 238.63,217.99 235.64,217.26 232.66,216.52 229.69,215.77 226.74,215.03 223.81,214.28 220.89,213.52 217.98,212.77 215.09,212 212.21,211.24 209.35,210.47 206.5,209.7 203.66,208.92 200.85,208.14 198.04,207.35 203.97,204.65 209.86,201.96 215.73,199.29 221.57,196.63 227.38,193.98 233.16,191.34 238.91,188.72 244.64,186.11 250.34,183.51 256.01,180.93 261.65,178.36 267.26,175.8 275.76,181.32 284.35,186.89 293.03,192.52 301.79,198.21 310.65,203.96 319.61,209.77 328.65,215.65 337.8,221.58 347.04,227.58 356.38,233.65 365.83,239.78 375.37,245.97" fill="#ff5e00" stroke="#ff5e00"/><polygon points="369.23,241.98 366.49,241.01 363.07,240.39 359.66,239.76 356.26,239.13 352.87,238.5 349.49,237.87 346.12,237.23 342.77,236.59 339.42,235.95 336.08,235.3 332.76,234.66 329.44,234.01 326.14,233.35 322.84,232.7 319.56,232.04 316.29,231.38 313.03,230.71 309.79,230.04 306.55,229.37 303.33,228.7 300.11,228.02 296.91,227.34 293.72,226.66 290.55,225.97 287.38,225.28 284.23,224.59 281.09,223.9 277.96,223.2 274.85,222.49 271.74,221.79 268.65,221.08 265.58,220.37 262.51,219.65 259.46,218.93 256.42,218.21 253.4,217.49 250.39,216.76 247.39,216.02 244.41,215.29 241.43,214.55 238.48,213.8 235.53,213.06 232.6,212.31 229.69,211.55 226.79,210.79 223.9,210.03 221.03,209.27 218.17,208.5 215.32,207.72 212.49,206.95 209.68,206.17 206.88,205.38 204.09,204.59 209.49,202.13 214.86,199.69 220.21,197.25 225.53,194.82 230.83,192.41 236.1,190 241.35,187.61 246.58,185.23 251.79,182.85 256.97,180.49 262.13,178.14 267.26,175.8 275.3,181.02 283.43,186.29 291.63,191.61 299.91,196.99 308.27,202.42 316.72,207.9 325.25,213.44 333.87,219.03 342.57,224.68 351.37,230.39 360.25,236.16 369.23,241.98" fill="#ff3800" stroke="#ff3800"/><polygon points="363.12,238.02 361.09,236.71 357.72,236.07 354.37,235.43 351.02,234.78 347.69,234.14 344.36,233.49 341.05,232.84 337.75,232.19 334.45,231.53 331.17,230.87 327.9,230.21 324.64,229.54 321.4,228.87 318.16,228.2 314.93,227.53 311.72,226.85 308.52,226.17 305.33,225.49 302.15,224.81 298.98,224.12 295.83,223.43 292.68,222.73 289.55,222.03 286.44,221.33 283.33,220.63 280.24,219.92 277.15,219.21 274.09,218.5 271.03,217.78 267.99,217.06 264.96,216.34 261.94,215.61 258.93,214.88 255.94,214.15 252.96,213.41 250,212.67 247.05,211.92 244.11,211.18 241.19,210.43 238.27,209.67 235.38,208.91 232.5,208.15 229.63,207.39 226.77,206.62 223.93,205.84 221.1,205.07 218.29,204.29 215.49,203.51 212.71,202.72 209.94,201.93 214.82,199.7 219.69,197.48 224.53,195.28 229.36,193.08 234.16,190.89 238.95,188.7 243.72,186.53 248.46,184.37 253.19,182.21 257.9,180.07 262.59,177.93 267.26,175.8 274.85,180.72 282.5,185.69 290.23,190.7 298.03,195.77 305.9,200.87 313.84,206.03 321.86,211.24 329.95,216.49 338.13,221.8 346.38,227.15 354.71,232.56 363.12,238.02" fill="#ff1200" stroke="#ff1200"/><polygon points="355.04,232.78 352.48,231.75 349.18,231.09 345.89,230.44 342.61,229.78 339.34,229.12 336.08,228.45 332.83,227.78 329.59,227.11 326.36,226.44 323.15,225.76 319.94,225.09 316.75,224.4 313.57,223.72 310.4,223.03 307.24,222.34 304.1,221.65 300.96,220.95 297.84,220.25 294.73,219.55 291.63,218.84 288.54,218.13 285.47,217.42 282.41,216.71 279.36,215.99 276.32,215.27 273.3,214.54 270.29,213.82 267.29,213.08 264.3,212.35 261.33,211.61 258.37,210.87 255.42,210.13 252.49,209.38 249.57,208.63 246.66,207.87 243.77,207.12 240.89,206.36 238.03,205.59 235.17,204.82 232.34,204.05 229.51,203.28 226.7,202.5 223.9,201.72 221.12,200.93 218.35,200.14 215.6,199.35 219.99,197.35 224.37,195.35 228.73,193.36 233.07,191.38 237.4,189.41 241.71,187.44 246.01,185.49 250.29,183.53 254.56,181.59 258.81,179.65 263.04,177.72 267.26,175.8 274.24,180.33 281.27,184.89 288.37,189.5 295.52,194.14 302.74,198.83 310.02,203.55 317.36,208.32 324.76,213.12 332.24,217.97 339.77,222.86 347.37,227.8 355.04,232.78" fill="#f50000" stroke="#f50000"/><polygon points="347.04,227.58 344.1,226.76 340.86,226.09 337.63,225.42 334.41,224.75 331.2,224.07 328.01,223.39 324.82,222.7 321.65,222.02 318.49,221.33 315.34,220.63 312.2,219.94 309.07,219.24 305.96,218.54 302.86,217.84 299.76,217.13 296.68,216.42 293.62,215.71 290.56,214.99 287.52,214.27 284.49,213.55 281.47,212.82 278.46,212.1 275.47,211.36 272.49,210.63 269.52,209.89 266.57,209.15 263.62,208.41 260.69,207.66 257.78,206.91 254.87,206.16 251.98,205.4 249.11,204.64 246.24,203.87 243.39,203.11 240.56,202.34 237.73,201.56 234.92,200.79 232.13,200 229.35,199.22 226.58,198.43 223.82,197.64 221.08,196.85 225,195.06 228.91,193.28 232.8,191.51 236.68,189.74 240.55,187.98 244.4,186.22 248.24,184.47 252.07,182.72 255.89,180.98 259.69,179.25 263.48,177.52 267.26,175.8 273.63,179.93 280.05,184.1 286.51,188.29 293.03,192.52 299.59,196.78 306.21,201.08 312.88,205.41 319.61,209.77 326.38,214.17 333.21,218.61 340.1,223.08 347.04,227.58" fill="#e40000" stroke="#e40000"/><polygon points="339.11,222.44 335.93,221.75 332.75,221.07 329.58,220.38 326.43,219.69 323.29,218.99 320.16,218.3 317.03,217.6 313.93,216.9 310.83,216.19 307.74,215.48 304.67,214.77 301.61,214.06 298.56,213.34 295.52,212.62 292.49,211.9 289.48,211.18 286.48,210.45 283.49,209.72 280.51,208.98 277.55,208.24 274.6,207.5 271.66,206.76 268.73,206.01 265.82,205.26 262.92,204.51 260.03,203.75 257.16,202.99 254.29,202.23 251.44,201.46 248.61,200.69 245.79,199.92 242.98,199.14 240.18,198.37 237.4,197.58 234.63,196.8 231.88,196.01 229.14,195.22 226.41,194.42 229.87,192.84 233.32,191.27 236.76,189.7 240.19,188.14 243.61,186.58 247.01,185.03 250.41,183.48 253.8,181.93 257.18,180.39 260.55,178.86 263.91,177.33 267.26,175.8 273.02,179.54 278.82,183.3 284.66,187.09 290.54,190.91 296.46,194.75 302.42,198.62 308.43,202.52 314.48,206.45 320.57,210.4 326.71,214.38 332.89,218.4 339.11,222.44" fill="#d10000" stroke="#d10000"/><polygon points="333.21,218.61 331.09,217.42 327.97,216.72 324.85,216.02 321.75,215.32 318.66,214.61 315.58,213.9 312.51,213.19 309.45,212.48 306.41,211.76 303.37,211.04 300.35,210.32 297.34,209.59 294.35,208.86 291.36,208.13 288.39,207.39 285.43,206.66 282.48,205.92 279.54,205.17 276.62,204.43 273.71,203.68 270.81,202.92 267.92,202.17 265.05,201.41 262.19,200.65 259.34,199.88 256.51,199.12 253.68,198.34 250.88,197.57 248.08,196.79 245.3,196.01 242.53,195.23 239.77,194.44 237.03,193.65 234.3,192.86 231.59,192.06 234.6,190.69 237.61,189.32 240.61,187.95 243.6,186.58 246.58,185.22 249.56,183.87 252.53,182.51 255.49,181.16 258.45,179.82 261.39,178.47 264.33,177.13 267.26,175.8 272.56,179.24 277.9,182.7 283.27,186.19 288.68,189.7 294.12,193.23 299.59,196.78 305.11,200.36 310.65,203.96 316.24,207.59 321.86,211.24 327.52,214.91 333.21,218.61" fill="#bf0000" stroke="#bf0000"/><polygon points="325.41,213.54 323.28,212.38 320.22,211.66 317.16,210.95 314.12,210.23 311.09,209.51 308.08,208.79 305.07,208.06 302.07,207.34 299.09,206.6 296.12,205.87 293.16,205.13 290.22,204.39 287.28,203.65 284.36,202.9 281.45,202.15 278.55,201.4 275.67,200.65 272.8,199.89 269.94,199.13 267.09,198.37 264.26,197.6 261.44,196.83 258.63,196.06 255.83,195.28 253.05,194.5 250.28,193.72 247.52,192.93 244.78,192.15 242.05,191.36 239.33,190.56 236.63,189.76 239.21,188.59 241.79,187.41 244.36,186.24 246.93,185.07 249.49,183.9 252.05,182.74 254.6,181.57 257.14,180.41 259.68,179.26 262.21,178.1 264.74,176.95 267.26,175.8 271.96,178.85 276.68,181.91 281.43,184.99 286.2,188.09 291,191.21 295.83,194.34 300.69,197.5 305.58,200.67 310.49,203.86 315.44,207.07 320.41,210.3 325.41,213.54" fill="#ac0000" stroke="#ac0000"/><polygon points="317.68,208.52 315.67,207.32 312.67,206.59 309.67,205.86 306.69,205.13 303.73,204.4 300.77,203.66 297.83,202.92 294.89,202.18 291.97,201.44 289.07,200.69 286.17,199.94 283.29,199.18 280.41,198.43 277.56,197.67 274.71,196.9 271.87,196.14 269.05,195.37 266.24,194.6 263.45,193.83 260.66,193.05 257.89,192.27 255.13,191.49 252.39,190.7 249.66,189.91 246.94,189.12 244.23,188.32 241.54,187.53 243.7,186.54 245.86,185.55 248.02,184.57 250.18,183.59 252.32,182.61 254.47,181.63 256.61,180.65 258.75,179.68 260.88,178.71 263.01,177.73 265.14,176.77 267.26,175.8 271.35,178.45 275.46,181.12 279.59,183.8 283.73,186.49 287.9,189.2 292.09,191.92 296.3,194.65 300.54,197.4 304.79,200.16 309.06,202.93 313.36,205.72 317.68,208.52" fill="#990000" stroke="#990000"/><polygon points="308.11,202.31 305.31,201.51 302.38,200.77 299.46,200.02 296.56,199.27 293.66,198.52 290.78,197.77 287.91,197.02 285.05,196.26 282.2,195.5 279.37,194.73 276.54,193.97 273.73,193.2 270.94,192.42 268.15,191.65 265.38,190.87 262.62,190.09 259.87,189.31 257.14,188.52 254.41,187.73 251.71,186.94 249.01,186.14 246.33,185.34 248.08,184.54 249.84,183.74 251.6,182.94 253.35,182.14 255.1,181.34 256.84,180.55 258.58,179.75 260.33,178.96 262.06,178.17 263.8,177.38 265.53,176.59 267.26,175.8 270.59,177.96 273.93,180.13 277.29,182.31 280.66,184.49 284.04,186.69 287.44,188.89 290.85,191.11 294.27,193.33 297.71,195.56 301.16,197.8 304.63,200.05 308.11,202.31" fill="#860000" stroke="#860000"/><polygon points="300.54,197.4 298.15,196.41 295.28,195.65 292.42,194.9 289.57,194.14 286.74,193.38 283.92,192.61 281.1,191.84 278.31,191.07 275.52,190.3 272.75,189.52 269.98,188.74 267.23,187.96 264.5,187.18 261.77,186.39 259.06,185.6 256.36,184.81 253.67,184.01 251,183.21 252.36,182.59 253.73,181.97 255.09,181.35 256.45,180.73 257.8,180.11 259.16,179.49 260.51,178.87 261.87,178.26 263.22,177.64 264.57,177.03 265.92,176.41 267.26,175.8 269.99,177.57 272.72,179.34 275.46,181.12 278.21,182.9 280.97,184.69 283.73,186.49 286.51,188.29 289.3,190.1 292.09,191.92 294.9,193.74 297.71,195.56 300.54,197.4" fill="#860000" stroke="#860000"/><polygon points="291.16,191.31 288.37,190.53 285.57,189.77 282.78,188.99 280,188.22 277.24,187.44 274.49,186.66 271.75,185.88 269.02,185.1 266.3,184.31 263.6,183.52 260.91,182.72 258.23,181.93 255.57,181.13 256.55,180.68 257.53,180.24 258.5,179.79 259.48,179.35 260.46,178.9 261.43,178.46 262.4,178.01 263.38,177.57 264.35,177.13 265.32,176.68 266.29,176.24 267.26,175.8 269.23,177.07 271.2,178.35 273.17,179.63 275.15,180.92 277.14,182.21 279.13,183.5 281.12,184.79 283.12,186.09 285.12,187.39 287.13,188.69 289.14,190 291.16,191.31" fill="#860000" stroke="#860000"/><polygon points="283.73,186.49 281.63,185.41 278.89,184.63 276.16,183.85 273.44,183.06 270.74,182.27 268.04,181.48 265.36,180.69 262.69,179.89 260.04,179.09 260.64,178.82 261.24,178.54 261.85,178.27 262.45,177.99 263.05,177.72 263.65,177.44 264.26,177.17 264.86,176.89 265.46,176.62 266.06,176.35 266.66,176.07 267.26,175.8 268.62,176.68 269.99,177.57 271.35,178.45 272.72,179.34 274.09,180.23 275.46,181.12 276.83,182.01 278.21,182.9 279.59,183.8 280.97,184.69 282.35,185.59 283.73,186.49" fill="#860000" stroke="#860000"/><polygon points="274.54,180.52 272.39,179.49 269.72,178.7 267.06,177.9 264.41,177.1 264.65,176.99 264.88,176.88 265.12,176.77 265.36,176.67 265.6,176.56 265.84,176.45 266.07,176.34 266.31,176.23 266.55,176.12 266.79,176.02 267.03,175.91 267.26,175.8 267.87,176.19 268.47,176.58 269.08,176.98 269.68,177.37 270.29,177.76 270.89,178.16 271.5,178.55 272.11,178.94 272.72,179.34 273.33,179.73 273.93,180.13 274.54,180.52" fill="#860000" stroke="#860000"/></g></g>
<g stroke="#000" stroke-width="0.9" fill="none" stroke-linecap="butt"><line x1="130.51" y1="238.14" x2="244.01" y2="323.13"/><line x1="244.01" y1="323.13" x2="383.64" y2="251.34"/><line x1="130.51" y1="238.14" x2="122.69" y2="82.07"/><line x1="244.01" y1="323.13" x2="245.79" y2="322.21"/><line x1="223.93" y1="308.09" x2="225.7" y2="307.2"/><line x1="204.33" y1="293.42" x2="206.1" y2="292.55"/><line x1="185.21" y1="279.1" x2="186.97" y2="278.25"/><line x1="166.54" y1="265.12" x2="168.29" y2="264.29"/><line x1="148.31" y1="251.47" x2="150.06" y2="250.66"/><line x1="130.51" y1="238.14" x2="132.24" y2="237.34"/><line x1="244.01" y1="323.13" x2="242.25" y2="321.81"/><line x1="262.42" y1="313.66" x2="260.66" y2="312.37"/><line x1="280.55" y1="304.34" x2="278.78" y2="303.07"/><line x1="298.39" y1="295.17" x2="296.62" y2="293.91"/><line x1="315.97" y1="286.13" x2="314.19" y2="284.9"/><line x1="333.27" y1="277.24" x2="331.49" y2="276.02"/><line x1="350.32" y1="268.47" x2="348.53" y2="267.27"/><line x1="367.1" y1="259.84" x2="365.31" y2="258.66"/><line x1="383.64" y1="251.34" x2="381.85" y2="250.18"/><line x1="130.51" y1="238.14" x2="132.24" y2="237.34"/><line x1="129.45" y1="216.98" x2="131.2" y2="216.2"/><line x1="128.37" y1="195.46" x2="130.14" y2="194.69"/><line x1="127.27" y1="173.57" x2="129.06" y2="172.8"/><line x1="126.16" y1="151.29" x2="127.96" y2="150.54"/><line x1="125.02" y1="128.63" x2="126.84" y2="127.88"/><line x1="123.87" y1="105.55" x2="125.7" y2="104.82"/><line x1="122.69" y1="82.07" x2="124.54" y2="81.34"/></g>
<g><clipPath id="bs"><polygon points="243.86,290.42 247.61,287.55 251.36,284.65 255.09,281.73 258.82,278.79 262.54,275.81 266.25,272.81 269.95,269.79 273.65,266.74 277.34,263.66 281.01,260.55 284.69,257.42 288.35,254.26 292.01,251.08 295.66,247.87 299.3,244.63 302.94,241.37 306.57,238.08 310.19,234.76 313.81,231.42 317.43,228.04 321.03,224.65 324.63,221.22 328.23,217.77 331.82,214.29 335.41,210.78 338.99,207.25 342.56,203.69 346.13,200.1 349.7,196.48 353.26,192.84 356.82,189.17 360.37,185.47 363.92,181.74 367.47,177.98 371.01,174.2 374.55,170.39 378.09,166.55 381.62,162.68 385.15,158.79 388.67,154.86 385.51,151.37 382.36,147.9 379.22,144.45 376.08,141.03 372.95,137.63 369.82,134.25 366.7,130.89 363.59,127.56 360.49,124.25 357.4,120.96 354.31,117.7 351.23,114.45 348.15,111.23 345.08,108.03 342.02,104.86 338.97,101.7 335.93,98.57 332.89,95.46 329.86,92.37 326.84,89.31 323.82,86.26 320.81,83.24 317.81,80.24 314.82,77.27 311.83,74.31 308.86,71.38 305.89,68.47 302.92,65.58 299.97,62.71 297.02,59.87 294.08,57.04 291.15,54.24 288.22,51.46 285.3,48.7 282.39,45.96 279.49,43.25 276.6,40.55 273.71,37.88 270.83,35.23 267.96,32.6 264.54,36.55 261.11,40.47 257.68,44.36 254.25,48.22 250.81,52.05 247.37,55.86 243.92,59.63 240.47,63.38 237.02,67.1 233.56,70.79 230.09,74.45 226.63,78.08 223.15,81.68 219.67,85.26 216.19,88.8 212.7,92.32 209.21,95.81 205.71,99.27 202.21,102.71 198.69,106.11 195.18,109.49 191.65,112.84 188.13,116.17 184.59,119.46 181.05,122.73 177.5,125.97 173.94,129.19 170.38,132.37 166.81,135.53 163.23,138.66 159.65,141.76 156.05,144.84 152.45,147.89 148.85,150.91 145.23,153.91 141.6,156.88 137.97,159.82 134.33,162.73 130.68,165.62 127.02,168.48 129.76,171.09 132.52,173.72 135.29,176.38 138.06,179.05 140.84,181.75 143.63,184.47 146.43,187.21 149.24,189.97 152.06,192.76 154.89,195.57 157.73,198.4 160.57,201.25 163.43,204.13 166.29,207.03 169.17,209.95 172.05,212.89 174.94,215.86 177.84,218.84 180.75,221.85 183.66,224.89 186.59,227.94 189.52,231.02 192.47,234.13 195.42,237.25 198.38,240.4 201.35,243.57 204.33,246.77 207.32,249.98 210.32,253.22 213.32,256.49 216.34,259.78 219.36,263.09 222.39,266.42 225.43,269.78 228.48,273.16 231.54,276.56 234.61,279.99 237.68,283.44 240.77,286.92"/></clipPath><g clip-path="url(#bs)" opacity="0.999" stroke-width="0.7" stroke-linejoin="round"><polygon points="243.86,290.42 247.61,287.55 251.36,284.65 255.09,281.73 258.82,278.79 262.54,275.81 266.25,272.81 269.95,269.79 273.65,266.74 277.34,263.66 281.01,260.55 284.69,257.42 288.35,254.26 292.01,251.08 295.66,247.87 299.3,244.63 302.94,241.37 306.57,238.08 310.19,234.76 313.81,231.42 317.43,228.04 321.03,224.65 324.63,221.22 328.23,217.77 331.82,214.29 335.41,210.78 338.99,207.25 342.56,203.69 346.13,200.1 349.7,196.48 353.26,192.84 356.82,189.17 360.37,185.47 363.92,181.74 367.47,177.98 371.01,174.2 374.55,170.39 378.09,166.55 381.62,162.68 385.15,158.79 388.67,154.86 385.51,151.37 382.36,147.9 379.22,144.45 376.08,141.03 372.95,137.63 369.82,134.25 366.7,130.89 363.59,127.56 360.49,124.25 357.4,120.96 354.31,117.7 351.23,114.45 348.15,111.23 345.08,108.03 342.02,104.86 338.97,101.7 335.93,98.57 332.89,95.46 329.86,92.37 326.84,89.31 323.82,86.26 320.81,83.24 317.81,80.24 314.82,77.27 311.83,74.31 308.86,71.38 305.89,68.47 302.92,65.58 299.97,62.71 297.02,59.87 294.08,57.04 291.15,54.24 288.22,51.46 285.3,48.7 282.39,45.96 279.49,43.25 276.6,40.55 273.71,37.88 270.83,35.23 267.96,32.6 264.54,36.55 261.11,40.47 257.68,44.36 254.25,48.22 250.81,52.05 247.37,55.86 243.92,59.63 240.47,63.38 237.02,67.1 233.56,70.79 230.09,74.45 226.63,78.08 223.15,81.68 219.67,85.26 216.19,88.8 212.7,92.32 209.21,95.81 205.71,99.27 202.21,102.71 198.69,106.11 195.18,109.49 191.65,112.84 188.13,116.17 184.59,119.46 181.05,122.73 177.5,125.97 173.94,129.19 170.38,132.37 166.81,135.53 163.23,138.66 159.65,141.76 156.05,144.84 152.45,147.89 148.85,150.91 145.23,153.91 141.6,156.88 137.97,159.82 134.33,162.73 130.68,165.62 127.02,168.48 129.76,171.09 132.52,173.72 135.29,176.38 138.06,179.05 140.84,181.75 143.63,184.47 146.43,187.21 149.24,189.97 152.06,192.76 154.89,195.57 157.73,198.4 160.57,201.25 163.43,204.13 166.29,207.03 169.17,209.95 172.05,212.89 174.94,215.86 177.84,218.84 180.75,221.85 183.66,224.89 186.59,227.94 189.52,231.02 192.47,234.13 195.42,237.25 198.38,240.4 201.35,243.57 204.33,246.77 207.32,249.98 210.32,253.22 213.32,256.49 216.34,259.78 219.36,263.09 222.39,266.42 225.43,269.78 228.48,273.16 231.54,276.56 234.61,279.99 237.68,283.44 240.77,286.92" fill="#006040" stroke="#006040"/><polygon points="248.76,286.67 243.56,286.74 239.74,285.76 237.68,283.44 235.63,281.14 233.58,278.85 231.54,276.56 229.5,274.29 227.47,272.03 225.43,269.78 223.41,267.54 221.38,265.31 219.36,263.09 217.34,260.88 215.33,258.68 213.32,256.49 211.32,254.31 209.32,252.14 207.32,249.98 205.33,247.84 203.34,245.7 201.35,243.57 199.37,241.45 197.39,239.35 195.42,237.25 193.45,235.17 191.49,233.09 189.52,231.02 187.57,228.97 185.61,226.92 183.66,224.89 181.72,222.86 179.77,220.85 177.84,218.84 175.9,216.85 173.97,214.86 172.05,212.89 170.12,210.92 168.21,208.97 166.29,207.03 164.38,205.09 162.48,203.17 160.57,201.25 158.68,199.35 156.78,197.45 154.89,195.57 153.01,193.69 151.12,191.83 149.24,189.97 147.37,188.13 145.5,186.29 143.63,184.47 141.77,182.65 139.91,180.85 138.06,179.05 136.21,177.27 134.36,175.49 132.52,173.72 130.68,171.97 128.85,170.22 127.02,168.48 139.18,158.84 151.25,148.9 163.23,138.66 175.13,128.12 186.95,117.27 198.69,106.11 210.37,94.65 221.99,82.88 233.56,70.79 245.07,58.38 256.54,45.65 267.96,32.6 277.56,41.45 287.25,50.54 297.02,59.87 306.88,69.44 316.81,79.25 326.84,89.31 336.94,99.61 347.13,110.16 357.4,120.96 367.74,132.01 378.17,143.31 388.67,154.86 377.29,167.42 365.88,179.67 354.42,191.64 342.92,203.32 331.38,214.72 319.78,225.83 308.12,236.66 296.4,247.21 284.61,257.49 272.74,267.49 260.79,277.22" fill="#007333" stroke="#007333"/><polygon points="264.14,274.52 259.28,274.44 254.4,274.36 249.5,274.3 244.59,274.24 239.65,274.19 234.69,274.16 229.71,274.13 227.47,272.03 225.43,269.78 223.41,267.54 221.38,265.31 219.36,263.09 217.34,260.88 215.33,258.68 213.32,256.49 211.32,254.31 209.32,252.14 207.32,249.98 205.33,247.84 203.34,245.7 201.35,243.57 199.37,241.45 197.39,239.35 195.42,237.25 193.45,235.17 191.49,233.09 189.52,231.02 187.57,228.97 185.61,226.92 183.66,224.89 181.72,222.86 179.77,220.85 177.84,218.84 175.9,216.85 173.97,214.86 172.05,212.89 170.12,210.92 168.21,208.97 166.29,207.03 164.38,205.09 162.48,203.17 160.57,201.25 158.68,199.35 156.78,197.45 154.89,195.57 153.01,193.69 151.12,191.83 149.24,189.97 147.37,188.13 145.5,186.29 143.63,184.47 141.77,182.65 139.91,180.85 138.06,179.05 136.21,177.27 134.36,175.49 132.52,173.72 130.68,171.97 128.85,170.22 127.02,168.48 139.18,158.84 151.25,148.9 163.23,138.66 175.13,128.12 186.95,117.27 198.69,106.11 210.37,94.65 221.99,82.88 233.56,70.79 245.07,58.38 256.54,45.65 267.96,32.6 277.56,41.45 287.25,50.54 297.02,59.87 306.88,69.44 316.81,79.25 326.84,89.31 336.94,99.61 347.13,110.16 357.4,120.96 367.74,132.01 378.17,143.31 388.67,154.86 378.51,166.09 368.31,177.08 358.09,187.85 347.83,198.38 337.54,208.68 327.21,218.75 316.83,228.6 306.4,238.23 295.93,247.63 285.39,256.82 274.8,265.78" fill="#008626" stroke="#008626"/><polygon points="277.77,263.29 273.14,263.1 268.51,262.92 263.86,262.73 259.21,262.56 254.55,262.39 249.88,262.22 245.2,262.06 240.51,261.9 235.81,261.75 231.1,261.61 226.38,261.47 221.64,261.34 217.34,260.88 215.33,258.68 213.32,256.49 211.32,254.31 209.32,252.14 207.32,249.98 205.33,247.84 203.34,245.7 201.35,243.57 199.37,241.45 197.39,239.35 195.42,237.25 193.45,235.17 191.49,233.09 189.52,231.02 187.57,228.97 185.61,226.92 183.66,224.89 181.72,222.86 179.77,220.85 177.84,218.84 175.9,216.85 173.97,214.86 172.05,212.89 170.12,210.92 168.21,208.97 166.29,207.03 164.38,205.09 162.48,203.17 160.57,201.25 158.68,199.35 156.78,197.45 154.89,195.57 153.01,193.69 151.12,191.83 149.24,189.97 147.37,188.13 145.5,186.29 143.63,184.47 141.77,182.65 139.91,180.85 138.06,179.05 136.21,177.27 134.36,175.49 132.52,173.72 130.68,171.97 128.85,170.22 127.02,168.48 139.18,158.84 151.25,148.9 163.23,138.66 175.13,128.12 186.95,117.27 198.69,106.11 210.37,94.65 221.99,82.88 233.56,70.79 245.07,58.38 256.54,45.65 267.96,32.6 277.56,41.45 287.25,50.54 297.02,59.87 306.88,69.44 316.81,79.25 326.84,89.31 336.94,99.61 347.13,110.16 357.4,120.96 367.74,132.01 378.17,143.31 388.67,154.86 379.59,164.9 370.49,174.76 361.37,184.43 352.21,193.91 343.04,203.21 333.83,212.33 324.58,221.27 315.3,230.03 305.99,238.61 296.63,247.01 287.22,255.24" fill="#009a1a" stroke="#009a1a"/><polygon points="290.12,252.73 285.67,252.46 281.21,252.19 276.76,251.93 272.3,251.67 267.84,251.41 263.37,251.15 258.91,250.9 254.44,250.65 249.97,250.4 245.49,250.15 241.02,249.91 236.53,249.66 232.05,249.43 227.56,249.19 223.06,248.96 218.57,248.73 214.06,248.5 209.55,248.28 205.33,247.84 203.34,245.7 201.35,243.57 199.37,241.45 197.39,239.35 195.42,237.25 193.45,235.17 191.49,233.09 189.52,231.02 187.57,228.97 185.61,226.92 183.66,224.89 181.72,222.86 179.77,220.85 177.84,218.84 175.9,216.85 173.97,214.86 172.05,212.89 170.12,210.92 168.21,208.97 166.29,207.03 164.38,205.09 162.48,203.17 160.57,201.25 158.68,199.35 156.78,197.45 154.89,195.57 153.01,193.69 151.12,191.83 149.24,189.97 147.37,188.13 145.5,186.29 143.63,184.47 141.77,182.65 139.91,180.85 138.06,179.05 136.21,177.27 134.36,175.49 132.52,173.72 130.68,171.97 128.85,170.22 127.02,168.48 139.18,158.84 151.25,148.9 163.23,138.66 175.13,128.12 186.95,117.27 198.69,106.11 210.37,94.65 221.99,82.88 233.56,70.79 245.07,58.38 256.54,45.65 267.96,32.6 277.56,41.45 287.25,50.54 297.02,59.87 306.88,69.44 316.81,79.25 326.84,89.31 336.94,99.61 347.13,110.16 357.4,120.96 367.74,132.01 378.17,143.31 388.67,154.86 380.58,163.82 372.48,172.63 364.35,181.29 356.21,189.8 348.04,198.17 339.85,206.39 331.64,214.47 323.4,222.4 315.13,230.19 306.82,237.85 298.49,245.36" fill="#00ad0d" stroke="#00ad0d"/><polygon points="301.48,242.68 297.17,242.36 292.85,242.03 288.54,241.7 284.23,241.38 279.92,241.06 275.62,240.73 271.31,240.41 267.01,240.09 262.71,239.76 258.41,239.44 254.11,239.12 249.81,238.8 245.51,238.48 241.22,238.16 236.93,237.84 232.64,237.53 228.35,237.21 224.06,236.89 219.77,236.58 215.48,236.26 211.2,235.95 206.91,235.63 202.63,235.32 198.35,235.01 194.07,234.69 191.49,233.09 189.52,231.02 187.57,228.97 185.61,226.92 183.66,224.89 181.72,222.86 179.77,220.85 177.84,218.84 175.9,216.85 173.97,214.86 172.05,212.89 170.12,210.92 168.21,208.97 166.29,207.03 164.38,205.09 162.48,203.17 160.57,201.25 158.68,199.35 156.78,197.45 154.89,195.57 153.01,193.69 151.12,191.83 149.24,189.97 147.37,188.13 145.5,186.29 143.63,184.47 141.77,182.65 139.91,180.85 138.06,179.05 136.21,177.27 134.36,175.49 132.52,173.72 130.68,171.97 128.85,170.22 127.02,168.48 139.18,158.84 151.25,148.9 163.23,138.66 175.13,128.12 186.95,117.27 198.69,106.11 210.37,94.65 221.99,82.88 233.56,70.79 245.07,58.38 256.54,45.65 267.96,32.6 277.56,41.45 287.25,50.54 297.02,59.87 306.88,69.44 316.81,79.25 326.84,89.31 336.94,99.61 347.13,110.16 357.4,120.96 367.74,132.01 378.17,143.31 388.67,154.86 381.5,162.81 374.31,170.65 367.11,178.36 359.9,185.96 352.67,193.45 345.42,200.82 338.15,208.08 330.86,215.22 323.55,222.25 316.22,229.17 308.86,235.98" fill="#00c000" stroke="#00c000"/><polygon points="312.05,233.05 307.84,232.68 303.64,232.31 299.45,231.93 295.26,231.56 291.07,231.18 286.89,230.81 282.71,230.43 278.54,230.06 274.37,229.68 270.2,229.3 266.04,228.92 261.88,228.55 257.73,228.17 253.59,227.79 249.45,227.4 245.31,227.02 241.18,226.64 237.05,226.26 232.93,225.87 228.81,225.49 224.7,225.1 220.6,224.71 216.5,224.33 212.4,223.94 208.32,223.55 204.23,223.15 200.16,222.76 196.09,222.37 192.02,221.97 187.97,221.57 183.91,221.18 179.87,220.78 177.84,218.84 175.9,216.85 173.97,214.86 172.05,212.89 170.12,210.92 168.21,208.97 166.29,207.03 164.38,205.09 162.48,203.17 160.57,201.25 158.68,199.35 156.78,197.45 154.89,195.57 153.01,193.69 151.12,191.83 149.24,189.97 147.37,188.13 145.5,186.29 143.63,184.47 141.77,182.65 139.91,180.85 138.06,179.05 136.21,177.27 134.36,175.49 132.52,173.72 130.68,171.97 128.85,170.22 127.02,168.48 139.18,158.84 151.25,148.9 163.23,138.66 175.13,128.12 186.95,117.27 198.69,106.11 210.37,94.65 221.99,82.88 233.56,70.79 245.07,58.38 256.54,45.65 267.96,32.6 277.56,41.45 287.25,50.54 297.02,59.87 306.88,69.44 316.81,79.25 326.84,89.31 336.94,99.61 347.13,110.16 357.4,120.96 367.74,132.01 378.17,143.31 388.67,154.86 382.36,161.87 376.03,168.79 369.69,175.61 363.34,182.35 356.98,188.99 350.61,195.55 344.22,202.02 337.82,208.4 331.4,214.69 324.97,220.9 318.52,227.02" fill="#00d200" stroke="#00d200"/><polygon points="321.96,223.76 317.85,223.35 313.75,222.94 309.65,222.53 305.55,222.12 301.46,221.7 297.38,221.29 293.31,220.87 289.24,220.45 285.17,220.03 281.12,219.61 277.07,219.19 273.02,218.77 268.99,218.34 264.96,217.91 260.93,217.49 256.92,217.06 252.91,216.62 248.91,216.19 244.91,215.76 240.93,215.32 236.95,214.88 232.98,214.44 229.02,214 225.06,213.55 221.12,213.11 217.18,212.66 213.25,212.2 209.33,211.75 205.42,211.3 201.52,210.84 197.63,210.38 193.75,209.91 189.87,209.45 186.01,208.98 182.16,208.51 178.32,208.03 174.49,207.55 170.67,207.07 166.86,206.59 164.38,205.09 162.48,203.17 160.57,201.25 158.68,199.35 156.78,197.45 154.89,195.57 153.01,193.69 151.12,191.83 149.24,189.97 147.37,188.13 145.5,186.29 143.63,184.47 141.77,182.65 139.91,180.85 138.06,179.05 136.21,177.27 134.36,175.49 132.52,173.72 130.68,171.97 128.85,170.22 127.02,168.48 139.18,158.84 151.25,148.9 163.23,138.66 175.13,128.12 186.95,117.27 198.69,106.11 210.37,94.65 221.99,82.88 233.56,70.79 245.07,58.38 256.54,45.65 267.96,32.6 277.56,41.45 287.25,50.54 297.02,59.87 306.88,69.44 316.81,79.25 326.84,89.31 336.94,99.61 347.13,110.16 357.4,120.96 367.74,132.01 378.17,143.31 388.67,154.86 383.16,160.98 377.65,167.03 372.12,173.01 366.59,178.92 361.05,184.76 355.5,190.53 349.94,196.24 344.37,201.88 338.78,207.45 333.19,212.95 327.58,218.39" fill="#00e800" stroke="#00e800"/><polygon points="331.33,214.77 327.29,214.33 323.27,213.88 319.25,213.44 315.24,212.99 311.23,212.55 307.23,212.1 303.24,211.65 299.26,211.2 295.28,210.74 291.32,210.29 287.36,209.83 283.41,209.37 279.46,208.91 275.53,208.45 271.6,207.98 267.68,207.51 263.77,207.04 259.87,206.57 255.98,206.1 252.09,205.62 248.22,205.14 244.35,204.66 240.5,204.18 236.65,203.69 232.82,203.2 228.99,202.71 225.18,202.22 221.37,201.72 217.58,201.22 213.8,200.72 210.03,200.21 206.27,199.7 202.52,199.19 198.78,198.67 195.06,198.15 191.34,197.63 187.64,197.11 183.96,196.58 180.28,196.04 176.62,195.5 172.97,194.96 169.34,194.42 165.72,193.87 162.11,193.31 158.52,192.76 154.95,192.19 151.39,191.62 149.24,189.97 147.37,188.13 145.5,186.29 143.63,184.47 141.77,182.65 139.91,180.85 138.06,179.05 136.21,177.27 134.36,175.49 132.52,173.72 130.68,171.97 128.85,170.22 127.02,168.48 139.18,158.84 151.25,148.9 163.23,138.66 175.13,128.12 186.95,117.27 198.69,106.11 210.37,94.65 221.99,82.88 233.56,70.79 245.07,58.38 256.54,45.65 267.96,32.6 277.56,41.45 287.25,50.54 297.02,59.87 306.88,69.44 316.81,79.25 326.84,89.31 336.94,99.61 347.13,110.16 357.4,120.96 367.74,132.01 378.17,143.31 388.67,154.86 383.93,160.13 379.18,165.35 374.43,170.52 369.67,175.64 364.9,180.7 360.13,185.72 355.35,190.69 350.56,195.6 345.77,200.47 340.96,205.28 336.15,210.05" fill="#20fc00" stroke="#20fc00"/><polygon points="340.23,206.02 336.26,205.55 332.3,205.08 328.35,204.61 324.41,204.14 320.47,203.67 316.55,203.19 312.63,202.71 308.72,202.23 304.82,201.75 300.92,201.27 297.04,200.78 293.16,200.29 289.3,199.8 285.44,199.31 281.59,198.82 277.75,198.32 273.92,197.82 270.1,197.32 266.3,196.81 262.5,196.3 258.71,195.79 254.93,195.28 251.16,194.77 247.4,194.25 243.66,193.73 239.92,193.2 236.2,192.68 232.48,192.15 228.78,191.61 225.09,191.08 221.41,190.54 217.75,189.99 214.1,189.45 210.46,188.89 206.83,188.34 203.21,187.78 199.61,187.22 196.02,186.66 192.45,186.09 188.89,185.51 185.35,184.94 181.82,184.35 178.3,183.77 174.8,183.18 171.31,182.58 167.84,181.99 164.39,181.38 160.95,180.77 157.53,180.16 154.12,179.54 150.74,178.92 147.36,178.29 144.01,177.66 140.68,177.02 137.36,176.37 134.36,175.49 132.52,173.72 130.68,171.97 128.85,170.22 127.02,168.48 139.18,158.84 151.25,148.9 163.23,138.66 175.13,128.12 186.95,117.27 198.69,106.11 210.37,94.65 221.99,82.88 233.56,70.79 245.07,58.38 256.54,45.65 267.96,32.6 277.56,41.45 287.25,50.54 297.02,59.87 306.88,69.44 316.81,79.25 326.84,89.31 336.94,99.61 347.13,110.16 357.4,120.96 367.74,132.01 378.17,143.31 388.67,154.86 384.66,159.32 380.64,163.75 376.62,168.14 372.6,172.49 368.57,176.81 364.54,181.09 360.5,185.33 356.45,189.54 352.41,193.71 348.35,197.85 344.29,201.95" fill="#64ff00" stroke="#64ff00"/><polygon points="348.72,197.48 344.81,196.99 340.91,196.5 337.02,196.01 333.13,195.52 329.26,195.02 325.39,194.52 321.54,194.02 317.69,193.52 313.85,193.02 310.02,192.51 306.2,192 302.39,191.49 298.59,190.97 294.8,190.46 291.02,189.94 287.25,189.42 283.49,188.89 279.74,188.37 276,187.84 272.27,187.3 268.55,186.77 264.84,186.23 261.14,185.69 257.46,185.15 253.79,184.6 250.12,184.05 246.47,183.5 242.83,182.94 239.21,182.38 235.59,181.82 231.99,181.25 228.4,180.68 224.83,180.11 221.26,179.53 217.72,178.95 214.18,178.37 210.66,177.78 207.15,177.19 203.65,176.59 200.17,175.99 196.71,175.39 193.26,174.78 189.82,174.17 186.4,173.55 183,172.93 179.61,172.31 176.24,171.68 172.88,171.04 169.54,170.4 166.21,169.76 162.91,169.11 159.62,168.45 156.34,167.8 153.09,167.13 149.85,166.46 146.63,165.79 143.43,165.11 140.25,164.42 137.09,163.73 133.95,163.04 145.48,153.7 156.94,144.09 168.31,134.2 179.62,124.04 190.85,113.6 202.02,102.89 213.13,91.89 224.19,80.61 235.2,69.04 246.16,57.19 257.08,45.04 267.96,32.6 277.56,41.45 287.25,50.54 297.02,59.87 306.88,69.44 316.81,79.25 326.84,89.31 336.94,99.61 347.13,110.16 357.4,120.96 367.74,132.01 378.17,143.31 388.67,154.86 385.36,158.55 382.04,162.21 378.73,165.85 375.4,169.47 372.08,173.05 368.75,176.62 365.42,180.16 362.09,183.67 358.75,187.16 355.41,190.62 352.06,194.07" fill="#a5ff00" stroke="#a5ff00"/><polygon points="356.85,189.13 352.99,188.63 349.14,188.12 345.3,187.61 341.47,187.1 337.65,186.58 333.84,186.06 330.04,185.54 326.24,185.02 322.46,184.5 318.69,183.97 314.92,183.44 311.17,182.91 307.42,182.38 303.69,181.84 299.97,181.3 296.25,180.76 292.55,180.22 288.86,179.67 285.18,179.12 281.51,178.57 277.85,178.01 274.2,177.46 270.56,176.9 266.94,176.33 263.33,175.76 259.73,175.19 256.14,174.62 252.56,174.04 249,173.46 245.45,172.88 241.91,172.29 238.38,171.7 234.87,171.11 231.37,170.51 227.88,169.91 224.41,169.31 220.95,168.7 217.51,168.08 214.08,167.47 210.66,166.85 207.26,166.22 203.88,165.6 200.51,164.96 197.15,164.33 193.81,163.69 190.49,163.04 187.18,162.39 183.88,161.74 180.61,161.08 177.35,160.42 174.1,159.75 170.88,159.08 167.67,158.4 164.48,157.72 161.3,157.03 158.14,156.34 155.01,155.64 151.88,154.94 148.78,154.23 145.7,153.52 156.18,144.73 166.6,135.71 176.96,126.46 187.25,116.98 197.5,107.27 207.69,97.32 217.83,87.14 227.93,76.71 237.99,66.05 248.01,55.14 258,44 267.96,32.6 277.56,41.45 287.25,50.54 297.02,59.87 306.88,69.44 316.81,79.25 326.84,89.31 336.94,99.61 347.13,110.16 357.4,120.96 367.74,132.01 378.17,143.31 388.67,154.86 386.03,157.81 383.39,160.73 380.74,163.64 378.1,166.54 375.45,169.42 372.8,172.28 370.14,175.13 367.49,177.96 364.83,180.78 362.17,183.58 359.51,186.36" fill="#c8ff00" stroke="#c8ff00"/><polygon points="364.67,180.95 360.85,180.43 357.05,179.91 353.26,179.38 349.47,178.85 345.7,178.32 341.93,177.79 338.18,177.25 334.43,176.72 330.7,176.18 326.97,175.63 323.25,175.09 319.55,174.54 315.85,173.99 312.17,173.44 308.49,172.88 304.83,172.32 301.18,171.76 297.54,171.2 293.91,170.63 290.29,170.07 286.68,169.49 283.08,168.92 279.5,168.34 275.93,167.76 272.37,167.18 268.82,166.59 265.28,166 261.76,165.4 258.25,164.81 254.75,164.21 251.26,163.6 247.79,163 244.33,162.39 240.89,161.77 237.45,161.16 234.04,160.54 230.63,159.91 227.24,159.28 223.86,158.65 220.5,158.01 217.15,157.37 213.82,156.73 210.5,156.08 207.2,155.43 203.91,154.78 200.64,154.12 197.39,153.45 194.15,152.78 190.92,152.11 187.71,151.43 184.52,150.75 181.35,150.07 178.19,149.38 175.04,148.68 171.92,147.98 168.81,147.28 165.72,146.57 162.65,145.85 159.59,145.14 156.56,144.41 166.08,136.17 175.54,127.74 184.96,119.12 194.33,110.3 203.66,101.29 212.95,92.07 222.2,82.67 231.41,73.06 240.59,63.25 249.74,53.24 258.86,43.02 267.96,32.6 277.56,41.45 287.25,50.54 297.02,59.87 306.88,69.44 316.81,79.25 326.84,89.31 336.94,99.61 347.13,110.16 357.4,120.96 367.74,132.01 378.17,143.31 388.67,154.86 386.68,157.09 384.68,159.3 382.69,161.51 380.69,163.7 378.69,165.89 376.69,168.07 374.69,170.24 372.69,172.4 370.68,174.55 368.68,176.7 366.67,178.83" fill="#ebff00" stroke="#ebff00"/><polygon points="372.2,172.92 368.43,172.39 364.67,171.85 360.91,171.31 357.17,170.77 353.44,170.22 349.71,169.68 346,169.13 342.29,168.58 338.6,168.02 334.92,167.47 331.24,166.91 327.58,166.35 323.93,165.78 320.29,165.22 316.66,164.65 313.04,164.07 309.43,163.5 305.83,162.92 302.25,162.34 298.67,161.76 295.11,161.17 291.56,160.59 288.02,159.99 284.49,159.4 280.97,158.8 277.47,158.2 273.98,157.6 270.5,156.99 267.04,156.38 263.58,155.77 260.14,155.15 256.72,154.53 253.3,153.91 249.9,153.28 246.51,152.65 243.14,152.02 239.78,151.38 236.44,150.74 233.11,150.09 229.79,149.44 226.49,148.79 223.2,148.14 219.93,147.48 216.67,146.81 213.42,146.14 210.2,145.47 206.98,144.8 203.79,144.12 200.61,143.43 197.44,142.75 194.29,142.05 191.16,141.36 188.04,140.66 184.94,139.95 181.86,139.24 178.79,138.53 175.74,137.81 172.71,137.09 169.69,136.36 166.69,135.63 175.32,127.95 183.9,120.1 192.45,112.09 200.96,103.92 209.43,95.59 217.88,87.09 226.29,78.43 234.67,69.6 243.03,60.6 251.36,51.44 259.67,42.1 267.96,32.6 277.56,41.45 287.25,50.54 297.02,59.87 306.88,69.44 316.81,79.25 326.84,89.31 336.94,99.61 347.13,110.16 357.4,120.96 367.74,132.01 378.17,143.31 388.67,154.86 387.3,156.39 385.93,157.91 384.56,159.43 383.19,160.95 381.82,162.46 380.45,163.97 379.07,165.47 377.7,166.97 376.33,168.47 374.95,169.96 373.58,171.44" fill="#fff500" stroke="#fff500"/><polygon points="379.48,165.03 375.75,164.48 372.02,163.93 368.3,163.38 364.6,162.82 360.9,162.27 357.21,161.71 353.54,161.15 349.87,160.59 346.21,160.02 342.57,159.45 338.93,158.88 335.31,158.31 331.69,157.73 328.09,157.15 324.5,156.57 320.92,155.99 317.35,155.4 313.79,154.82 310.24,154.22 306.7,153.63 303.18,153.03 299.67,152.43 296.17,151.83 292.68,151.22 289.2,150.61 285.74,150 282.29,149.39 278.85,148.77 275.42,148.15 272.01,147.52 268.61,146.9 265.22,146.27 261.85,145.63 258.49,144.99 255.14,144.35 251.8,143.71 248.48,143.06 245.18,142.41 241.88,141.76 238.61,141.1 235.34,140.44 232.09,139.77 228.86,139.1 225.64,138.43 222.43,137.75 219.24,137.07 216.07,136.39 212.91,135.7 209.76,135.01 206.63,134.31 203.52,133.61 200.42,132.91 197.34,132.2 194.27,131.49 191.22,130.77 188.19,130.05 185.17,129.33 182.17,128.6 179.19,127.87 176.22,127.13 184.01,120 191.78,112.73 199.51,105.33 207.21,97.8 214.88,90.13 222.53,82.32 230.15,74.38 237.75,66.3 245.33,58.09 252.89,49.73 260.44,41.24 267.96,32.6 277.56,41.45 287.25,50.54 297.02,59.87 306.88,69.44 316.81,79.25 326.84,89.31 336.94,99.61 347.13,110.16 357.4,120.96 367.74,132.01 378.17,143.31 388.67,154.86 387.91,155.72 387.14,156.57 386.38,157.42 385.61,158.27 384.85,159.12 384.08,159.97 383.31,160.81 382.55,161.66 381.78,162.5 381.01,163.34 380.25,164.19" fill="#ffbe00" stroke="#ffbe00"/><polygon points="386.53,157.25 382.83,156.69 379.13,156.13 375.45,155.57 371.78,155.01 368.11,154.44 364.46,153.87 360.82,153.3 357.18,152.73 353.56,152.15 349.95,151.58 346.35,151 342.76,150.41 339.18,149.83 335.61,149.24 332.05,148.65 328.5,148.06 324.97,147.46 321.44,146.86 317.93,146.26 314.43,145.66 310.94,145.05 307.46,144.44 304,143.83 300.54,143.21 297.1,142.59 293.67,141.97 290.25,141.35 286.85,140.72 283.46,140.09 280.08,139.46 276.71,138.82 273.36,138.18 270.02,137.54 266.69,136.89 263.38,136.24 260.08,135.59 256.79,134.93 253.52,134.28 250.26,133.61 247.01,132.95 243.78,132.28 240.57,131.6 237.37,130.93 234.18,130.25 231,129.56 227.85,128.88 224.7,128.19 221.57,127.49 218.46,126.79 215.36,126.09 212.28,125.38 209.21,124.68 206.16,123.96 203.12,123.24 200.1,122.52 197.1,121.8 194.11,121.07 191.14,120.34 188.18,119.6 185.24,118.86 192.25,112.28 199.23,105.59 206.19,98.8 213.13,91.89 220.05,84.87 226.94,77.74 233.82,70.5 240.68,63.15 247.52,55.68 254.35,48.1 261.16,40.41 267.96,32.6 277.56,41.45 287.25,50.54 297.02,59.87 306.88,69.44 316.81,79.25 326.84,89.31 336.94,99.61 347.13,110.16 357.4,120.96 367.74,132.01 378.17,143.31 388.67,154.86 388.5,155.06 388.32,155.26 388.14,155.46 387.96,155.66 387.78,155.86 387.6,156.06 387.42,156.26 387.25,156.45 387.07,156.65 386.89,156.85 386.71,157.05" fill="#ff9600" stroke="#ff9600"/><polygon points="382.36,147.9 378.74,147.31 375.1,146.73 371.48,146.16 367.87,145.58 364.26,144.99 360.67,144.41 357.09,143.82 353.52,143.23 349.96,142.64 346.41,142.05 342.87,141.45 339.34,140.85 335.83,140.25 332.32,139.65 328.83,139.04 325.34,138.43 321.87,137.82 318.42,137.21 314.97,136.59 311.53,135.97 308.11,135.34 304.7,134.72 301.3,134.09 297.91,133.46 294.54,132.82 291.18,132.19 287.83,131.54 284.49,130.9 281.17,130.25 277.86,129.6 274.56,128.95 271.28,128.3 268.01,127.64 264.75,126.97 261.51,126.31 258.28,125.64 255.06,124.97 251.86,124.29 248.68,123.61 245.5,122.93 242.34,122.24 239.2,121.56 236.07,120.86 232.95,120.17 229.85,119.47 226.76,118.76 223.69,118.06 220.63,117.35 217.59,116.63 214.57,115.92 211.56,115.19 208.56,114.47 205.58,113.74 202.62,113.01 199.67,112.27 196.73,111.53 193.82,110.79 200.09,104.77 206.33,98.66 212.56,92.46 218.78,86.17 224.98,79.79 231.16,73.33 237.32,66.77 243.48,60.12 249.62,53.38 255.74,46.54 261.86,39.62 267.96,32.6 277.08,41 286.28,49.62 295.55,58.45 304.9,67.5 314.32,76.77 323.82,86.26 333.4,95.98 343.04,105.91 352.77,116.07 362.56,126.45 372.43,137.06 382.36,147.9" fill="#ff6400" stroke="#ff6400"/><polygon points="373.99,138.76 371.13,137.37 367.56,136.78 364.01,136.18 360.46,135.59 356.93,134.99 353.41,134.39 349.9,133.79 346.4,133.18 342.91,132.57 339.43,131.96 335.97,131.35 332.51,130.73 329.07,130.11 325.64,129.49 322.22,128.87 318.81,128.24 315.42,127.61 312.03,126.98 308.66,126.34 305.3,125.7 301.95,125.06 298.62,124.42 295.3,123.77 291.99,123.12 288.69,122.47 285.41,121.81 282.14,121.16 278.88,120.49 275.64,119.83 272.41,119.16 269.19,118.49 265.99,117.82 262.8,117.14 259.62,116.46 256.46,115.78 253.31,115.09 250.17,114.4 247.05,113.71 243.95,113.01 240.86,112.31 237.78,111.61 234.72,110.9 231.67,110.19 228.63,109.48 225.61,108.76 222.61,108.04 219.62,107.31 216.65,106.59 213.69,105.86 210.75,105.12 207.82,104.38 204.91,103.64 202.01,102.9 207.57,97.43 213.12,91.9 218.66,86.29 224.18,80.62 229.69,74.87 235.19,69.05 240.68,63.16 246.15,57.19 251.62,51.15 257.08,45.04 262.52,38.86 267.96,32.6 276.44,40.4 284.98,48.4 293.59,56.57 302.27,64.94 311.01,73.5 319.81,82.24 328.68,91.18 337.62,100.31 346.62,109.63 355.68,119.14 364.8,128.85 373.99,138.76" fill="#ff3200" stroke="#ff3200"/><polygon points="363.59,127.56 360.2,126.83 356.72,126.22 353.24,125.61 349.78,125 346.33,124.38 342.89,123.76 339.46,123.14 336.04,122.52 332.63,121.89 329.24,121.26 325.85,120.63 322.48,119.99 319.12,119.35 315.78,118.71 312.44,118.07 309.12,117.42 305.81,116.77 302.51,116.12 299.23,115.47 295.96,114.81 292.7,114.15 289.45,113.49 286.22,112.82 283,112.15 279.79,111.48 276.59,110.81 273.41,110.13 270.25,109.45 267.09,108.76 263.95,108.08 260.83,107.39 257.71,106.69 254.61,106 251.53,105.3 248.46,104.59 245.4,103.89 242.36,103.18 239.33,102.47 236.32,101.75 233.32,101.03 230.33,100.31 227.37,99.59 224.41,98.86 221.47,98.12 218.55,97.39 215.64,96.65 212.74,95.91 209.86,95.16 214.75,90.26 219.64,85.3 224.51,80.28 229.37,75.21 234.22,70.08 239.07,64.89 243.9,59.65 248.73,54.36 253.55,49 258.36,43.59 263.16,38.12 267.96,32.6 275.64,39.66 283.36,46.87 291.15,54.24 298.98,61.76 306.88,69.44 314.82,77.27 322.82,85.26 330.87,93.4 338.97,101.7 347.13,110.16 355.34,118.78 363.59,127.56" fill="#ff0000" stroke="#ff0000"/><polygon points="355.34,118.78 353.02,116.9 349.6,116.28 346.2,115.65 342.8,115.02 339.42,114.39 336.04,113.76 332.68,113.12 329.33,112.48 326,111.84 322.67,111.19 319.36,110.55 316.06,109.9 312.77,109.24 309.5,108.59 306.23,107.93 302.98,107.27 299.74,106.6 296.52,105.94 293.31,105.27 290.11,104.6 286.92,103.92 283.75,103.24 280.59,102.56 277.44,101.88 274.3,101.19 271.18,100.5 268.08,99.81 264.98,99.11 261.9,98.41 258.84,97.71 255.79,97.01 252.75,96.3 249.73,95.59 246.72,94.88 243.72,94.16 240.74,93.44 237.77,92.72 234.82,91.99 231.88,91.26 228.96,90.53 226.05,89.79 223.15,89.05 220.28,88.31 217.41,87.56 221.66,83.22 225.9,78.83 230.14,74.4 234.36,69.93 238.58,65.41 242.8,60.85 247.01,56.25 251.21,51.61 255.41,46.92 259.6,42.19 263.78,37.42 267.96,32.6 274.99,39.07 282.07,45.66 289.2,52.38 296.37,59.24 303.58,66.22 310.84,73.33 318.15,80.58 325.5,87.95 332.89,95.46 340.33,103.1 347.81,110.87 355.34,118.78" fill="#e80000" stroke="#e80000"/><polygon points="345.08,108.03 342.66,106.35 339.32,105.71 335.99,105.07 332.67,104.42 329.37,103.77 326.07,103.12 322.79,102.47 319.52,101.81 316.27,101.15 313.02,100.49 309.79,99.83 306.57,99.16 303.37,98.49 300.17,97.82 296.99,97.15 293.83,96.47 290.67,95.79 287.53,95.1 284.4,94.42 281.28,93.73 278.18,93.04 275.09,92.34 272.02,91.65 268.95,90.95 265.91,90.24 262.87,89.54 259.85,88.83 256.84,88.12 253.85,87.4 250.87,86.68 247.9,85.96 244.95,85.24 242.01,84.51 239.09,83.78 236.18,83.05 233.29,82.32 230.41,81.58 227.54,80.84 224.69,80.09 228.32,76.31 231.95,72.49 235.57,68.64 239.19,64.76 242.8,60.86 246.41,56.91 250.01,52.94 253.61,48.94 257.2,44.9 260.79,40.83 264.38,36.73 267.96,32.6 274.19,38.32 280.46,44.15 286.76,50.08 293.1,56.11 299.48,62.24 305.89,68.47 312.33,74.8 318.81,81.24 325.33,87.78 331.88,94.43 338.46,101.18 345.08,108.03" fill="#d00000" stroke="#d00000"/><polygon points="334.91,97.53 332.6,95.79 329.34,95.13 326.09,94.48 322.85,93.81 319.62,93.15 316.41,92.48 313.21,91.82 310.02,91.14 306.84,90.47 303.68,89.79 300.53,89.11 297.39,88.43 294.26,87.75 291.15,87.06 288.05,86.37 284.96,85.68 281.89,84.98 278.83,84.28 275.78,83.58 272.75,82.88 269.73,82.17 266.72,81.46 263.73,80.75 260.75,80.04 257.79,79.32 254.83,78.6 251.9,77.87 248.97,77.15 246.06,76.42 243.17,75.69 240.28,74.95 237.42,74.21 234.56,73.47 231.72,72.73 234.76,69.51 237.79,66.26 240.82,63 243.85,59.71 246.88,56.4 249.9,53.07 252.91,49.71 255.93,46.33 258.94,42.93 261.95,39.51 264.96,36.07 267.96,32.6 273.39,37.58 278.85,42.65 284.33,47.79 289.85,53 295.39,58.29 300.95,63.67 306.55,69.11 312.17,74.64 317.81,80.24 323.49,85.93 329.19,91.69 334.91,97.53" fill="#b70000" stroke="#b70000"/><polygon points="322.82,85.26 319.66,84.56 316.48,83.88 313.32,83.21 310.17,82.53 307.04,81.85 303.92,81.17 300.8,80.48 297.71,79.79 294.62,79.1 291.55,78.41 288.49,77.71 285.44,77.01 282.41,76.31 279.39,75.61 276.39,74.9 273.39,74.19 270.41,73.48 267.45,72.77 264.49,72.05 261.55,71.33 258.63,70.61 255.72,69.88 252.82,69.15 249.93,68.42 247.06,67.69 244.21,66.95 241.36,66.21 238.53,65.47 241,62.81 243.46,60.14 245.92,57.45 248.37,54.75 250.83,52.03 253.28,49.3 255.73,46.55 258.18,43.79 260.63,41.02 263.08,38.23 265.52,35.42 267.96,32.6 272.43,36.7 276.92,40.85 281.43,45.06 285.95,49.31 290.5,53.62 295.06,57.98 299.64,62.39 304.24,66.86 308.86,71.38 313.49,75.95 318.15,80.58 322.82,85.26" fill="#9f0000" stroke="#9f0000"/><polygon points="312.83,75.3 310.27,73.99 307.17,73.3 304.09,72.61 301.01,71.92 297.96,71.23 294.91,70.53 291.88,69.83 288.86,69.13 285.85,68.43 282.85,67.72 279.87,67.01 276.91,66.3 273.95,65.59 271.01,64.87 268.08,64.15 265.17,63.43 262.26,62.7 259.38,61.98 256.5,61.25 253.64,60.51 250.79,59.78 247.96,59.04 245.14,58.3 247.05,56.21 248.96,54.1 250.86,51.99 252.77,49.88 254.67,47.75 256.57,45.61 258.47,43.46 260.37,41.31 262.27,39.14 264.17,36.97 266.07,34.79 267.96,32.6 271.63,35.96 275.31,39.36 279.01,42.8 282.72,46.27 286.44,49.77 290.17,53.31 293.92,56.89 297.67,60.5 301.44,64.14 305.23,67.82 309.02,71.54 312.83,75.3" fill="#860000" stroke="#860000"/></g></g>
<g stroke="#000" stroke-width="0.98" fill="none" stroke-linejoin="round"><polyline points="243.86,290.42 240.77,286.92 237.68,283.44 234.61,279.99 231.54,276.56 228.48,273.16 225.43,269.78 222.39,266.42 219.36,263.09 216.34,259.78 213.32,256.49 210.32,253.22 207.32,249.98 204.33,246.77 201.35,243.57 198.38,240.4 195.42,237.25 192.47,234.13 189.52,231.02 186.59,227.94 183.66,224.89 180.75,221.85 177.84,218.84 174.94,215.86 172.05,212.89 169.17,209.95 166.29,207.03 163.43,204.13 160.57,201.25 157.73,198.4 154.89,195.57 152.06,192.76 149.24,189.97 146.43,187.21 143.63,184.47 140.84,181.75 138.06,179.05 135.29,176.38 132.52,173.72 129.76,171.09 127.02,168.48"/><polyline points="251.75,284.35 248.66,280.85 245.57,277.38 242.49,273.93 239.42,270.5 236.36,267.1 233.31,263.72 230.26,260.36 227.22,257.03 224.2,253.72 221.18,250.43 218.17,247.17 215.17,243.93 212.18,240.71 209.19,237.52 206.22,234.35 203.25,231.2 200.29,228.08 197.34,224.97 194.4,221.89 191.47,218.84 188.55,215.81 185.64,212.79 182.73,209.81 179.84,206.84 176.95,203.9 174.07,200.98 171.2,198.08 168.34,195.2 165.49,192.35 162.65,189.52 159.81,186.71 156.99,183.92 154.17,181.16 151.37,178.42 148.57,175.7 145.78,173 143,170.32 140.23,167.67 137.47,165.04 134.71,162.43"/><polyline points="259.61,278.16 256.51,274.67 253.42,271.19 250.33,267.75 247.26,264.32 244.19,260.92 241.14,257.54 238.09,254.19 235.05,250.85 232.02,247.54 229,244.26 225.98,241 222.98,237.76 219.98,234.54 216.99,231.35 214.01,228.18 211.04,225.03 208.08,221.91 205.12,218.81 202.18,215.73 199.24,212.67 196.32,209.64 193.4,206.63 190.49,203.64 187.59,200.67 184.69,197.73 181.81,194.81 178.94,191.91 176.07,189.04 173.21,186.18 170.36,183.35 167.53,180.54 164.69,177.76 161.87,174.99 159.06,172.25 156.26,169.53 153.46,166.83 150.67,164.15 147.9,161.5 145.13,158.87 142.37,156.25"/><polyline points="267.42,271.86 264.32,268.37 261.22,264.9 258.14,261.45 255.06,258.02 251.99,254.62 248.93,251.25 245.88,247.89 242.84,244.56 239.8,241.25 236.77,237.97 233.76,234.71 230.75,231.47 227.75,228.25 224.75,225.06 221.77,221.89 218.79,218.74 215.83,215.62 212.87,212.52 209.92,209.44 206.98,206.38 204.05,203.35 201.12,200.34 198.21,197.35 195.3,194.39 192.4,191.44 189.51,188.52 186.63,185.63 183.76,182.75 180.9,179.9 178.04,177.06 175.2,174.26 172.36,171.47 169.53,168.7 166.72,165.96 163.91,163.24 161.1,160.54 158.31,157.86 155.53,155.21 152.75,152.57 149.99,149.96"/><polyline points="275.2,265.44 272.1,261.95 269,258.48 265.91,255.03 262.83,251.61 259.76,248.21 256.69,244.83 253.64,241.48 250.59,238.15 247.55,234.84 244.52,231.56 241.5,228.3 238.48,225.06 235.48,221.85 232.48,218.65 229.49,215.48 226.51,212.34 223.54,209.21 220.58,206.11 217.62,203.03 214.68,199.98 211.74,196.95 208.81,193.94 205.89,190.95 202.98,187.98 200.07,185.04 197.18,182.12 194.29,179.22 191.42,176.34 188.55,173.49 185.69,170.66 182.84,167.85 179.99,165.06 177.16,162.3 174.34,159.55 171.52,156.83 168.71,154.13 165.91,151.45 163.12,148.8 160.34,146.16 157.57,143.55"/><polyline points="282.95,258.91 279.84,255.42 276.74,251.95 273.65,248.5 270.56,245.08 267.48,241.68 264.42,238.31 261.36,234.95 258.31,231.62 255.26,228.32 252.23,225.03 249.2,221.77 246.18,218.54 243.17,215.32 240.17,212.13 237.18,208.96 234.19,205.81 231.22,202.69 228.25,199.59 225.29,196.51 222.34,193.46 219.4,190.42 216.46,187.41 213.54,184.42 210.62,181.46 207.71,178.51 204.81,175.59 201.92,172.69 199.04,169.82 196.16,166.96 193.3,164.13 190.44,161.32 187.59,158.53 184.75,155.77 181.92,153.02 179.1,150.3 176.28,147.6 173.48,144.92 170.68,142.26 167.89,139.63 165.12,137.02"/><polyline points="290.66,252.26 287.55,248.77 284.44,245.3 281.35,241.85 278.26,238.43 275.18,235.03 272.11,231.66 269.04,228.31 265.99,224.98 262.94,221.67 259.9,218.39 256.87,215.13 253.85,211.89 250.84,208.68 247.83,205.48 244.83,202.32 241.84,199.17 238.86,196.05 235.89,192.95 232.92,189.87 229.97,186.81 227.02,183.78 224.08,180.77 221.15,177.78 218.23,174.81 215.32,171.87 212.41,168.95 209.51,166.05 206.63,163.17 203.75,160.32 200.87,157.48 198.01,154.67 195.16,151.89 192.31,149.12 189.47,146.37 186.65,143.65 183.83,140.95 181.01,138.27 178.21,135.61 175.42,132.98 172.63,130.36"/><polyline points="298.34,245.49 295.23,242 292.12,238.53 289.02,235.09 285.93,231.66 282.85,228.27 279.77,224.89 276.7,221.54 273.64,218.21 270.59,214.91 267.55,211.62 264.51,208.36 261.49,205.13 258.47,201.91 255.46,198.72 252.46,195.55 249.46,192.41 246.48,189.28 243.5,186.18 240.53,183.1 237.57,180.05 234.62,177.01 231.67,174 228.74,171.01 225.81,168.05 222.89,165.1 219.98,162.18 217.08,159.28 214.18,156.41 211.3,153.55 208.42,150.72 205.55,147.91 202.69,145.12 199.84,142.35 197,139.6 194.16,136.88 191.33,134.18 188.52,131.5 185.71,128.84 182.91,126.2 180.11,123.59"/><polyline points="306,238.6 302.88,235.11 299.77,231.64 296.66,228.2 293.57,224.78 290.48,221.38 287.4,218.01 284.33,214.66 281.27,211.33 278.21,208.02 275.16,204.74 272.12,201.48 269.09,198.24 266.07,195.03 263.06,191.84 260.05,188.67 257.05,185.52 254.06,182.4 251.08,179.3 248.1,176.22 245.14,173.16 242.18,170.13 239.23,167.12 236.29,164.13 233.36,161.16 230.43,158.22 227.52,155.3 224.61,152.4 221.71,149.52 218.82,146.66 215.93,143.83 213.06,141.02 210.19,138.23 207.34,135.46 204.49,132.71 201.65,129.99 198.81,127.28 195.99,124.6 193.17,121.94 190.37,119.31 187.57,116.69"/><polyline points="313.62,231.59 310.5,228.1 307.39,224.64 304.28,221.19 301.18,217.77 298.09,214.38 295.01,211 291.93,207.65 288.86,204.32 285.8,201.02 282.75,197.74 279.71,194.48 276.67,191.24 273.64,188.02 270.63,184.83 267.61,181.66 264.61,178.52 261.62,175.39 258.63,172.29 255.65,169.21 252.68,166.16 249.72,163.12 246.76,160.11 243.81,157.12 240.88,154.15 237.95,151.21 235.02,148.29 232.11,145.39 229.21,142.51 226.31,139.65 223.42,136.82 220.54,134 217.67,131.21 214.8,128.44 211.95,125.7 209.1,122.97 206.26,120.27 203.43,117.59 200.61,114.93 197.8,112.29 194.99,109.67"/><polyline points="321.22,224.47 318.1,220.98 314.98,217.51 311.87,214.07 308.76,210.65 305.67,207.25 302.58,203.88 299.5,200.53 296.43,197.2 293.37,193.89 290.31,190.61 287.26,187.35 284.22,184.11 281.19,180.9 278.17,177.71 275.15,174.54 272.14,171.39 269.14,168.27 266.15,165.17 263.17,162.09 260.19,159.03 257.22,156 254.26,152.98 251.31,149.99 248.37,147.03 245.43,144.08 242.51,141.16 239.59,138.26 236.68,135.38 233.77,132.52 230.88,129.68 227.99,126.87 225.12,124.08 222.25,121.31 219.38,118.56 216.53,115.83 213.69,113.13 210.85,110.45 208.02,107.79 205.2,105.15 202.39,102.53"/><polyline points="328.8,217.22 325.67,213.73 322.55,210.27 319.43,206.82 316.32,203.4 313.23,200.01 310.13,196.63 307.05,193.28 303.98,189.95 300.91,186.65 297.85,183.37 294.8,180.11 291.75,176.87 288.71,173.65 285.69,170.46 282.67,167.29 279.65,164.15 276.65,161.02 273.65,157.92 270.66,154.84 267.68,151.78 264.71,148.75 261.74,145.73 258.79,142.74 255.84,139.77 252.9,136.83 249.96,133.9 247.04,131 244.12,128.12 241.21,125.26 238.31,122.43 235.42,119.61 232.54,116.82 229.66,114.05 226.79,111.3 223.94,108.57 221.08,105.87 218.24,103.18 215.41,100.52 212.58,97.88 209.76,95.26"/><polyline points="336.35,209.85 333.21,206.37 330.09,202.9 326.97,199.46 323.86,196.04 320.76,192.64 317.66,189.27 314.58,185.92 311.5,182.59 308.42,179.28 305.36,176 302.3,172.74 299.25,169.5 296.21,166.29 293.18,163.09 290.15,159.92 287.14,156.78 284.13,153.65 281.13,150.55 278.13,147.47 275.15,144.41 272.17,141.37 269.2,138.36 266.23,135.37 263.28,132.4 260.33,129.45 257.4,126.53 254.47,123.62 251.54,120.74 248.63,117.88 245.72,115.05 242.83,112.23 239.94,109.44 237.05,106.67 234.18,103.92 231.31,101.19 228.46,98.48 225.61,95.8 222.77,93.13 219.93,90.49 217.11,87.87"/><polyline points="343.88,202.37 340.74,198.88 337.61,195.41 334.49,191.97 331.38,188.55 328.27,185.15 325.17,181.78 322.08,178.43 318.99,175.1 315.92,171.79 312.85,168.51 309.79,165.25 306.73,162.01 303.69,158.79 300.65,155.6 297.62,152.43 294.6,149.28 291.58,146.16 288.58,143.05 285.58,139.97 282.59,136.91 279.6,133.88 276.63,130.86 273.66,127.87 270.7,124.9 267.75,121.95 264.81,119.03 261.87,116.12 258.94,113.24 256.02,110.38 253.11,107.54 250.21,104.73 247.31,101.93 244.42,99.16 241.54,96.41 238.67,93.68 235.81,90.97 232.95,88.29 230.1,85.62 227.26,82.98 224.43,80.36"/><polyline points="351.39,194.76 348.25,191.27 345.11,187.8 341.99,184.36 338.87,180.94 335.76,177.54 332.66,174.17 329.56,170.82 326.47,167.49 323.39,164.18 320.32,160.9 317.25,157.64 314.19,154.4 311.14,151.18 308.1,147.99 305.07,144.82 302.04,141.67 299.02,138.54 296.01,135.44 293,132.35 290.01,129.29 287.02,126.26 284.04,123.24 281.06,120.25 278.1,117.28 275.14,114.33 272.19,111.4 269.25,108.5 266.32,105.61 263.39,102.75 260.47,99.91 257.56,97.1 254.66,94.3 251.77,91.53 248.88,88.78 246,86.04 243.13,83.34 240.27,80.65 237.42,77.98 234.57,75.34 231.73,72.72"/><polyline points="358.88,187.03 355.73,183.54 352.6,180.07 349.47,176.63 346.34,173.21 343.23,169.81 340.12,166.43 337.02,163.08 333.93,159.75 330.84,156.45 327.77,153.16 324.7,149.9 321.63,146.66 318.58,143.44 315.53,140.25 312.49,137.08 309.46,133.93 306.44,130.8 303.42,127.69 300.41,124.61 297.41,121.55 294.41,118.51 291.43,115.5 288.45,112.5 285.48,109.53 282.52,106.58 279.56,103.65 276.61,100.75 273.67,97.86 270.74,95 267.82,92.16 264.9,89.34 261.99,86.54 259.09,83.77 256.2,81.02 253.32,78.28 250.44,75.57 247.57,72.89 244.71,70.22 241.86,67.57 239.02,64.95"/><polyline points="366.35,179.17 363.2,175.68 360.06,172.22 356.93,168.77 353.8,165.35 350.68,161.95 347.57,158.58 344.47,155.22 341.37,151.89 338.28,148.59 335.2,145.3 332.12,142.04 329.06,138.8 326,135.58 322.94,132.38 319.9,129.21 316.86,126.06 313.83,122.93 310.81,119.83 307.8,116.74 304.79,113.68 301.79,110.64 298.8,107.62 295.82,104.63 292.84,101.66 289.87,98.7 286.91,95.78 283.96,92.87 281.01,89.98 278.07,87.12 275.14,84.28 272.22,81.46 269.31,78.66 266.4,75.88 263.5,73.13 260.61,70.4 257.73,67.68 254.86,64.99 251.99,62.33 249.13,59.68 246.28,57.05"/><polyline points="373.8,171.19 370.65,167.7 367.51,164.24 364.37,160.79 361.24,157.37 358.12,153.97 355,150.59 351.89,147.24 348.79,143.91 345.7,140.6 342.61,137.31 339.53,134.05 336.46,130.81 333.4,127.59 330.34,124.39 327.29,121.22 324.25,118.07 321.21,114.94 318.19,111.83 315.17,108.75 312.15,105.68 309.15,102.64 306.15,99.62 303.16,96.63 300.18,93.65 297.21,90.7 294.24,87.77 291.28,84.86 288.33,81.98 285.39,79.11 282.45,76.27 279.52,73.45 276.6,70.65 273.69,67.87 270.79,65.12 267.89,62.38 265,59.67 262.12,56.98 259.25,54.31 256.38,51.66 253.52,49.03"/><polyline points="381.25,163.09 378.09,159.6 374.94,156.13 371.8,152.69 368.67,149.26 365.54,145.86 362.42,142.49 359.31,139.13 356.2,135.8 353.1,132.49 350.01,129.2 346.93,125.94 343.85,122.69 340.78,119.47 337.72,116.28 334.66,113.1 331.62,109.95 328.58,106.82 325.55,103.71 322.52,100.62 319.5,97.56 316.49,94.52 313.49,91.5 310.5,88.5 307.51,85.53 304.53,82.57 301.56,79.64 298.59,76.73 295.63,73.84 292.69,70.98 289.74,68.13 286.81,65.31 283.88,62.51 280.96,59.73 278.05,56.97 275.15,54.24 272.25,51.52 269.37,48.83 266.49,46.16 263.61,43.51 260.75,40.88"/><polyline points="388.67,154.86 385.51,151.37 382.36,147.9 379.22,144.45 376.08,141.03 372.95,137.63 369.82,134.25 366.7,130.89 363.59,127.56 360.49,124.25 357.4,120.96 354.31,117.7 351.23,114.45 348.15,111.23 345.08,108.03 342.02,104.86 338.97,101.7 335.93,98.57 332.89,95.46 329.86,92.37 326.84,89.31 323.82,86.26 320.81,83.24 317.81,80.24 314.82,77.27 311.83,74.31 308.86,71.38 305.89,68.47 302.92,65.58 299.97,62.71 297.02,59.87 294.08,57.04 291.15,54.24 288.22,51.46 285.3,48.7 282.39,45.96 279.49,43.25 276.6,40.55 273.71,37.88 270.83,35.23 267.96,32.6"/><polyline points="243.86,290.42 247.61,287.55 251.36,284.65 255.09,281.73 258.82,278.79 262.54,275.81 266.25,272.81 269.95,269.79 273.65,266.74 277.34,263.66 281.01,260.55 284.69,257.42 288.35,254.26 292.01,251.08 295.66,247.87 299.3,244.63 302.94,241.37 306.57,238.08 310.19,234.76 313.81,231.42 317.43,228.04 321.03,224.65 324.63,221.22 328.23,217.77 331.82,214.29 335.41,210.78 338.99,207.25 342.56,203.69 346.13,200.1 349.7,196.48 353.26,192.84 356.82,189.17 360.37,185.47 363.92,181.74 367.47,177.98 371.01,174.2 374.55,170.39 378.09,166.55 381.62,162.68 385.15,158.79 388.67,154.86"/><polyline points="237.36,283.08 241.11,280.21 244.85,277.32 248.58,274.4 252.31,271.45 256.02,268.48 259.73,265.48 263.43,262.46 267.12,259.41 270.8,256.33 274.48,253.23 278.15,250.1 281.81,246.94 285.46,243.76 289.11,240.55 292.75,237.31 296.38,234.05 300.01,230.76 303.63,227.44 307.25,224.1 310.86,220.73 314.46,217.33 318.06,213.9 321.65,210.45 325.24,206.97 328.82,203.46 332.4,199.93 335.97,196.37 339.53,192.78 343.1,189.16 346.66,185.52 350.21,181.85 353.76,178.15 357.31,174.42 360.85,170.66 364.39,166.88 367.92,163.07 371.45,159.23 374.98,155.36 378.51,151.46 382.03,147.54"/><polyline points="230.9,275.84 234.64,272.98 238.38,270.09 242.11,267.17 245.83,264.23 249.54,261.26 253.25,258.26 256.94,255.24 260.63,252.19 264.31,249.11 267.98,246.01 271.65,242.88 275.3,239.72 278.96,236.54 282.6,233.33 286.24,230.09 289.87,226.83 293.49,223.54 297.11,220.22 300.72,216.88 304.32,213.51 307.92,210.11 311.52,206.69 315.11,203.23 318.69,199.76 322.27,196.25 325.84,192.71 329.41,189.15 332.97,185.56 336.53,181.95 340.08,178.3 343.63,174.63 347.18,170.93 350.72,167.2 354.26,163.44 357.8,159.66 361.33,155.85 364.85,152.01 368.38,148.14 371.9,144.24 375.42,140.31"/><polyline points="224.47,268.72 228.22,265.85 231.95,262.96 235.68,260.04 239.39,257.1 243.1,254.13 246.8,251.14 250.49,248.11 254.18,245.07 257.85,241.99 261.52,238.89 265.18,235.76 268.84,232.6 272.48,229.42 276.12,226.21 279.76,222.98 283.38,219.72 287,216.43 290.62,213.11 294.22,209.77 297.82,206.4 301.42,203 305.01,199.57 308.59,196.12 312.17,192.64 315.75,189.13 319.32,185.6 322.88,182.04 326.44,178.45 329.99,174.83 333.55,171.19 337.09,167.51 340.63,163.81 344.17,160.08 347.7,156.33 351.24,152.54 354.76,148.73 358.29,144.89 361.81,141.01 365.32,137.12 368.84,133.19"/><polyline points="218.09,261.69 221.83,258.83 225.56,255.94 229.28,253.02 232.99,250.08 236.7,247.11 240.39,244.12 244.08,241.1 247.76,238.05 251.43,234.97 255.1,231.87 258.75,228.74 262.4,225.59 266.05,222.41 269.68,219.2 273.31,215.96 276.93,212.7 280.55,209.41 284.16,206.1 287.76,202.75 291.36,199.38 294.95,195.98 298.54,192.56 302.12,189.11 305.69,185.63 309.26,182.12 312.83,178.59 316.39,175.02 319.94,171.43 323.49,167.82 327.04,164.17 330.58,160.5 334.12,156.8 337.65,153.07 341.18,149.31 344.71,145.52 348.23,141.71 351.75,137.86 355.27,133.99 358.78,130.09 362.29,126.16"/><polyline points="211.74,254.77 215.48,251.91 219.2,249.02 222.92,246.1 226.63,243.16 230.33,240.19 234.02,237.2 237.7,234.18 241.38,231.13 245.05,228.06 248.71,224.96 252.36,221.83 256.01,218.68 259.65,215.49 263.28,212.29 266.9,209.05 270.52,205.79 274.13,202.5 277.74,199.18 281.34,195.84 284.93,192.47 288.52,189.07 292.1,185.65 295.68,182.2 299.25,178.72 302.81,175.21 306.37,171.67 309.93,168.11 313.48,164.52 317.03,160.9 320.57,157.26 324.1,153.58 327.64,149.88 331.17,146.15 334.69,142.39 338.21,138.6 341.73,134.79 345.25,130.94 348.76,127.07 352.26,123.17 355.77,119.24"/><polyline points="205.43,247.95 209.16,245.09 212.89,242.2 216.6,239.29 220.3,236.35 224,233.38 227.69,230.39 231.37,227.37 235.04,224.32 238.7,221.25 242.36,218.14 246.01,215.02 249.65,211.86 253.28,208.68 256.91,205.47 260.53,202.24 264.15,198.98 267.75,195.69 271.35,192.37 274.95,189.03 278.54,185.66 282.12,182.26 285.7,178.84 289.27,175.38 292.84,171.9 296.4,168.4 299.95,164.86 303.5,161.3 307.05,157.71 310.59,154.09 314.13,150.44 317.66,146.77 321.19,143.06 324.71,139.33 328.23,135.57 331.75,131.78 335.26,127.97 338.77,124.12 342.28,120.25 345.78,116.35 349.28,112.42"/><polyline points="199.16,241.23 202.89,238.37 206.61,235.49 210.32,232.57 214.02,229.63 217.71,226.67 221.39,223.67 225.07,220.65 228.73,217.61 232.39,214.53 236.05,211.43 239.69,208.31 243.33,205.15 246.96,201.97 250.58,198.76 254.2,195.53 257.8,192.27 261.41,188.98 265,185.66 268.59,182.32 272.18,178.95 275.76,175.55 279.33,172.12 282.9,168.67 286.46,165.19 290.01,161.68 293.57,158.15 297.11,154.58 300.65,150.99 304.19,147.37 307.72,143.72 311.25,140.05 314.77,136.35 318.29,132.61 321.81,128.85 325.32,125.06 328.83,121.25 332.33,117.4 335.84,113.53 339.33,109.62 342.83,105.69"/><polyline points="192.93,234.62 196.66,231.76 200.37,228.87 204.07,225.96 207.77,223.02 211.46,220.05 215.13,217.06 218.81,214.04 222.47,211 226.12,207.92 229.77,204.82 233.41,201.7 237.04,198.54 240.67,195.36 244.28,192.15 247.9,188.92 251.5,185.66 255.1,182.37 258.69,179.05 262.28,175.71 265.86,172.34 269.43,168.94 273,165.51 276.56,162.06 280.12,158.58 283.67,155.07 287.21,151.53 290.76,147.97 294.29,144.38 297.82,140.76 301.35,137.11 304.87,133.43 308.39,129.73 311.91,125.99 315.42,122.23 318.93,118.44 322.43,114.62 325.93,110.78 329.43,106.9 332.92,103 336.41,99.06"/><polyline points="186.74,228.11 190.46,225.25 194.17,222.36 197.87,219.45 201.56,216.51 205.24,213.54 208.92,210.55 212.58,207.53 216.24,204.49 219.89,201.41 223.53,198.31 227.17,195.19 230.79,192.03 234.41,188.85 238.03,185.65 241.63,182.41 245.23,179.15 248.83,175.86 252.41,172.54 255.99,169.2 259.57,165.83 263.14,162.43 266.7,159 270.26,155.55 273.81,152.07 277.36,148.56 280.9,145.02 284.43,141.45 287.97,137.86 291.49,134.24 295.01,130.59 298.53,126.91 302.05,123.21 305.56,119.47 309.06,115.71 312.56,111.92 316.06,108.1 319.56,104.25 323.05,100.38 326.53,96.47 330.02,92.53"/><polyline points="180.59,221.7 184.3,218.84 188.01,215.95 191.7,213.04 195.39,210.1 199.07,207.14 202.73,204.14 206.4,201.12 210.05,198.08 213.69,195 217.33,191.91 220.96,188.78 224.58,185.62 228.2,182.44 231.81,179.24 235.41,176 239,172.74 242.59,169.45 246.17,166.13 249.75,162.79 253.32,159.42 256.88,156.02 260.44,152.59 263.99,149.13 267.54,145.65 271.08,142.14 274.62,138.6 278.15,135.04 281.67,131.44 285.2,127.82 288.71,124.17 292.22,120.49 295.73,116.79 299.24,113.05 302.74,109.29 306.23,105.5 309.73,101.68 313.22,97.83 316.7,93.95 320.18,90.04 323.66,86.1"/><polyline points="174.48,215.39 178.19,212.53 181.89,209.64 185.58,206.73 189.26,203.79 192.93,200.83 196.59,197.83 200.25,194.81 203.9,191.77 207.53,188.7 211.17,185.6 214.79,182.47 218.41,179.31 222.02,176.13 225.62,172.93 229.22,169.69 232.81,166.43 236.39,163.14 239.97,159.82 243.54,156.48 247.1,153.1 250.66,149.7 254.21,146.28 257.76,142.82 261.3,139.34 264.84,135.83 268.37,132.29 271.89,128.72 275.42,125.13 278.93,121.5 282.44,117.85 285.95,114.17 289.45,110.47 292.95,106.73 296.45,102.97 299.94,99.17 303.43,95.35 306.91,91.5 310.39,87.62 313.87,83.71 317.34,79.77"/><polyline points="168.41,209.18 172.11,206.32 175.8,203.43 179.49,200.52 183.16,197.58 186.83,194.62 190.49,191.62 194.14,188.61 197.78,185.56 201.41,182.49 205.04,179.39 208.66,176.26 212.27,173.1 215.88,169.92 219.48,166.71 223.07,163.48 226.65,160.22 230.23,156.93 233.8,153.61 237.36,150.26 240.92,146.89 244.48,143.49 248.02,140.06 251.57,136.6 255.1,133.12 258.63,129.61 262.16,126.07 265.68,122.5 269.19,118.91 272.7,115.28 276.21,111.63 279.71,107.95 283.21,104.24 286.7,100.5 290.19,96.74 293.68,92.94 297.16,89.12 300.64,85.27 304.11,81.39 307.58,77.48 311.05,73.54"/><polyline points="162.38,203.07 166.07,200.21 169.76,197.32 173.44,194.41 177.11,191.47 180.77,188.51 184.42,185.51 188.07,182.49 191.7,179.45 195.33,176.38 198.95,173.27 202.57,170.15 206.17,166.99 209.77,163.81 213.37,160.6 216.95,157.37 220.53,154.1 224.1,150.81 227.67,147.49 231.23,144.15 234.78,140.77 238.33,137.37 241.87,133.94 245.41,130.49 248.94,127 252.46,123.49 255.98,119.95 259.5,116.38 263.01,112.78 266.51,109.16 270.01,105.51 273.51,101.82 277,98.12 280.49,94.38 283.97,90.61 287.45,86.81 290.93,82.99 294.4,79.14 297.87,75.25 301.33,71.34 304.79,67.4"/><polyline points="156.38,197.06 160.07,194.2 163.76,191.31 167.43,188.4 171.09,185.46 174.75,182.5 178.4,179.5 182.03,176.48 185.67,173.44 189.29,170.36 192.9,167.26 196.51,164.13 200.11,160.98 203.71,157.8 207.29,154.59 210.87,151.35 214.45,148.09 218.01,144.79 221.57,141.48 225.13,138.13 228.67,134.75 232.22,131.35 235.75,127.92 239.28,124.47 242.81,120.98 246.33,117.47 249.84,113.93 253.35,110.36 256.85,106.76 260.35,103.13 263.85,99.48 267.34,95.8 270.82,92.09 274.31,88.35 277.78,84.58 281.26,80.78 284.73,76.95 288.19,73.1 291.65,69.22 295.11,65.3 298.57,61.36"/><polyline points="150.43,191.14 154.12,188.29 157.79,185.4 161.46,182.49 165.12,179.55 168.77,176.58 172.41,173.59 176.04,170.57 179.67,167.52 183.28,164.45 186.89,161.35 190.5,158.22 194.09,155.06 197.68,151.88 201.26,148.67 204.83,145.43 208.4,142.17 211.96,138.88 215.52,135.56 219.06,132.21 222.6,128.83 226.14,125.43 229.67,122 233.2,118.54 236.71,115.06 240.23,111.54 243.74,108 247.24,104.43 250.74,100.83 254.23,97.2 257.72,93.55 261.2,89.86 264.68,86.15 268.16,82.41 271.63,78.64 275.1,74.84 278.56,71.02 282.02,67.16 285.48,63.28 288.93,59.36 292.38,55.42"/><polyline points="144.52,185.33 148.2,182.47 151.87,179.59 155.53,176.67 159.18,173.74 162.82,170.77 166.46,167.78 170.09,164.75 173.71,161.71 177.32,158.63 180.92,155.53 184.52,152.4 188.11,149.25 191.69,146.06 195.26,142.85 198.83,139.61 202.39,136.35 205.95,133.05 209.49,129.73 213.04,126.39 216.57,123.01 220.1,119.61 223.63,116.17 227.14,112.72 230.66,109.23 234.16,105.71 237.67,102.17 241.16,98.6 244.66,95 248.14,91.37 251.63,87.71 255.1,84.03 258.58,80.32 262.05,76.57 265.51,72.8 268.97,69 272.43,65.17 275.88,61.32 279.33,57.43 282.78,53.51 286.22,49.57"/><polyline points="138.64,179.62 142.32,176.76 145.98,173.87 149.64,170.96 153.28,168.02 156.92,165.05 160.55,162.06 164.17,159.04 167.78,155.99 171.39,152.91 174.99,149.81 178.58,146.68 182.16,143.52 185.73,140.34 189.3,137.13 192.87,133.89 196.42,130.62 199.97,127.33 203.51,124.01 207.05,120.66 210.58,117.28 214.1,113.88 217.62,110.45 221.13,106.98 224.64,103.5 228.14,99.98 231.63,96.44 235.12,92.86 238.61,89.26 242.09,85.63 245.57,81.98 249.04,78.29 252.51,74.58 255.97,70.83 259.43,67.06 262.88,63.26 266.33,59.43 269.78,55.57 273.23,51.68 276.67,47.76 280.1,43.82"/><polyline points="132.81,174 136.48,171.14 140.13,168.25 143.78,165.34 147.42,162.4 151.05,159.43 154.68,156.44 158.29,153.42 161.9,150.37 165.5,147.29 169.09,144.19 172.67,141.06 176.25,137.9 179.82,134.71 183.38,131.5 186.94,128.26 190.49,125 194.03,121.7 197.56,118.38 201.09,115.03 204.62,111.65 208.13,108.24 211.65,104.81 215.15,101.35 218.65,97.86 222.15,94.34 225.64,90.8 229.12,87.22 232.6,83.62 236.07,79.99 239.54,76.33 243.01,72.65 246.47,68.93 249.93,65.19 253.38,61.41 256.83,57.61 260.27,53.78 263.71,49.92 267.15,46.03 270.58,42.11 274.02,38.16"/><polyline points="127.02,168.48 130.68,165.62 134.33,162.73 137.97,159.82 141.6,156.88 145.23,153.91 148.85,150.91 152.45,147.89 156.05,144.84 159.65,141.76 163.23,138.66 166.81,135.53 170.38,132.37 173.94,129.19 177.5,125.97 181.05,122.73 184.59,119.46 188.13,116.17 191.65,112.84 195.18,109.49 198.69,106.11 202.21,102.71 205.71,99.27 209.21,95.81 212.7,92.32 216.19,88.8 219.67,85.26 223.15,81.68 226.63,78.08 230.09,74.45 233.56,70.79 237.02,67.1 240.47,63.38 243.92,59.63 247.37,55.86 250.81,52.05 254.25,48.22 257.68,44.36 261.11,40.47 264.54,36.55 267.96,32.6"/></g>
<g font-family="'Liberation Sans', Arial, sans-serif" fill="#000"><text transform="matrix(0.8893 -0.4572 0.8004 0.5994 244.01 323.13)" x="-7.8" y="3.6" font-size="10" text-anchor="end">20</text><text transform="matrix(0.8893 -0.4572 0.8004 0.5994 223.93 308.09)" x="-7.8" y="3.6" font-size="10" text-anchor="end">30</text><text transform="matrix(0.8893 -0.4572 0.8004 0.5994 204.33 293.42)" x="-7.8" y="3.6" font-size="10" text-anchor="end">40</text><text transform="matrix(0.8893 -0.4572 0.8004 0.5994 185.21 279.1)" x="-7.8" y="3.6" font-size="10" text-anchor="end">50</text><text transform="matrix(0.8893 -0.4572 0.8004 0.5994 166.54 265.12)" x="-7.8" y="3.6" font-size="10" text-anchor="end">60</text><text transform="matrix(0.8893 -0.4572 0.8004 0.5994 148.31 251.47)" x="-7.8" y="3.6" font-size="10" text-anchor="end">70</text><text transform="matrix(0.8893 -0.4572 0.8004 0.5994 130.51 238.14)" x="-7.8" y="3.6" font-size="10" text-anchor="end">80</text><text transform="matrix(0.7204 0.5395 -0.8893 0.4572 244.01 323.13)" x="8.44" y="3.4" font-size="10" text-anchor="start">0</text><text transform="matrix(0.7204 0.5395 -0.8893 0.4572 262.42 313.66)" x="8.44" y="3.4" font-size="10" text-anchor="start">10</text><text transform="matrix(0.7204 0.5395 -0.8893 0.4572 280.55 304.34)" x="8.44" y="3.4" font-size="10" text-anchor="start">20</text><text transform="matrix(0.7204 0.5395 -0.8893 0.4572 298.39 295.17)" x="8.44" y="3.4" font-size="10" text-anchor="start">30</text><text transform="matrix(0.7204 0.5395 -0.8893 0.4572 315.97 286.13)" x="8.44" y="3.4" font-size="10" text-anchor="start">40</text><text transform="matrix(0.7204 0.5395 -0.8893 0.4572 333.27 277.24)" x="8.44" y="3.4" font-size="10" text-anchor="start">50</text><text transform="matrix(0.7204 0.5395 -0.8893 0.4572 350.32 268.47)" x="8.44" y="3.4" font-size="10" text-anchor="start">60</text><text transform="matrix(0.7204 0.5395 -0.8893 0.4572 367.1 259.84)" x="8.44" y="3.4" font-size="10" text-anchor="start">70</text><text transform="matrix(0.7204 0.5395 -0.8893 0.4572 383.64 251.34)" x="8.44" y="3.4" font-size="10" text-anchor="start">80</text><text transform="matrix(0.9313 -0.3642 0.05 0.9987 129.45 216.98)" x="-7.5" y="3.6" font-size="10" text-anchor="end">15</text><text transform="matrix(0.9313 -0.3642 0.05 0.9987 128.37 195.46)" x="-7.5" y="3.6" font-size="10" text-anchor="end">20</text><text transform="matrix(0.9313 -0.3642 0.05 0.9987 127.27 173.57)" x="-7.5" y="3.6" font-size="10" text-anchor="end">25</text><text transform="matrix(0.9313 -0.3642 0.05 0.9987 126.16 151.29)" x="-7.5" y="3.6" font-size="10" text-anchor="end">30</text><text transform="matrix(0.9313 -0.3642 0.05 0.9987 125.02 128.63)" x="-7.5" y="3.6" font-size="10" text-anchor="end">35</text><text transform="matrix(0.9313 -0.3642 0.05 0.9987 123.87 105.55)" x="-7.5" y="3.6" font-size="10" text-anchor="end">40</text><text transform="matrix(0.9313 -0.3642 0.05 0.9987 122.69 82.07)" x="-7.5" y="3.6" font-size="10" text-anchor="end">45</text><text transform="matrix(0.7084 0.5305 -0.8182 0.4207 185.21 279.1)" x="-1.92" y="42.07" font-size="13" text-anchor="middle">Temp. [°C]</text><text transform="matrix(0.876 -0.4504 0.8004 0.5994 315.97 286.13)" x="-0.51" y="38" font-size="13" text-anchor="middle">Ethanol conc. [%]</text><text transform="matrix(0.0485 0.9688 -0.9313 0.3642 126.72 162.48)" x="-1.55" y="40" font-size="13" text-anchor="middle">Phenolics [mg/g d.m.]</text></g>
<g font-family="'Liberation Sans', Arial, sans-serif" fill="#000"><rect x="472.3" y="307.9" width="14.8" height="8.4" fill="#860000" stroke="#5d0000" stroke-width="1"/><text x="492.2" y="315.7" font-size="10">&gt; 40</text><rect x="472.3" y="319.98" width="14.8" height="8.4" fill="#d00000" stroke="#910000" stroke-width="1"/><text x="492.2" y="327.78" font-size="10">&lt; 38</text><rect x="472.3" y="332.06" width="14.8" height="8.4" fill="#ff9600" stroke="#b26900" stroke-width="1"/><text x="492.2" y="339.86" font-size="10">&lt; 33</text><rect x="472.3" y="344.14" width="14.8" height="8.4" fill="#a5ff00" stroke="#73b200" stroke-width="1"/><text x="492.2" y="351.94" font-size="10">&lt; 28</text><rect x="472.3" y="356.22" width="14.8" height="8.4" fill="#00c000" stroke="#008600" stroke-width="1"/><text x="492.2" y="364.02" font-size="10">&lt; 23</text><rect x="472.3" y="368.3" width="14.8" height="8.4" fill="#006040" stroke="#00432c" stroke-width="1"/><text x="492.2" y="376.1" font-size="10">&lt; 18</text></g>
<polygon points="129.67,629.75 121.99,476.34 264.82,420.48 264.1,568.47" fill="#fff"/>
<polygon points="264.1,568.47 264.82,420.48 386.54,488.36 378.49,642.72" fill="#fff"/>
<g stroke="#dedede" stroke-width="0.98" fill="none"><line x1="128.63" y1="608.95" x2="264.2" y2="548.35"/><line x1="264.2" y1="548.35" x2="379.58" y2="621.81"/><line x1="127.57" y1="587.8" x2="264.3" y2="527.9"/><line x1="264.3" y1="527.9" x2="380.69" y2="600.54"/><line x1="126.5" y1="566.28" x2="264.4" y2="507.12"/><line x1="264.4" y1="507.12" x2="381.82" y2="578.89"/><line x1="125.4" y1="544.38" x2="264.5" y2="486"/><line x1="264.5" y1="486" x2="382.97" y2="556.86"/><line x1="124.28" y1="522.1" x2="264.61" y2="464.52"/><line x1="264.61" y1="464.52" x2="384.14" y2="534.43"/><line x1="123.15" y1="499.43" x2="264.71" y2="442.68"/><line x1="264.71" y1="442.68" x2="385.33" y2="511.61"/><line x1="121.99" y1="476.34" x2="264.82" y2="420.48"/><line x1="264.82" y1="420.48" x2="386.54" y2="488.36"/><line x1="147.34" y1="621.69" x2="140.81" y2="468.98"/><line x1="164.74" y1="613.76" x2="159.35" y2="461.73"/><line x1="181.9" y1="605.94" x2="177.6" y2="454.59"/><line x1="198.81" y1="598.23" x2="195.57" y2="447.56"/><line x1="215.48" y1="590.63" x2="213.28" y2="440.64"/><line x1="231.91" y1="583.14" x2="230.71" y2="433.82"/><line x1="248.12" y1="575.76" x2="247.89" y2="427.1"/><line x1="264.1" y1="568.47" x2="264.82" y2="420.48"/><line x1="378.49" y1="642.72" x2="386.54" y2="488.36"/><line x1="358.32" y1="629.63" x2="365.01" y2="476.35"/><line x1="338.61" y1="616.84" x2="343.99" y2="464.63"/><line x1="319.35" y1="604.33" x2="323.48" y2="453.19"/><line x1="300.52" y1="592.11" x2="303.46" y2="442.03"/><line x1="282.11" y1="580.16" x2="283.92" y2="431.13"/></g>
<g><clipPath id="cf"><polygon points="241.24,713.29 244.88,711.42 248.51,709.55 252.13,707.69 255.74,705.83 259.34,703.98 262.93,702.14 266.5,700.3 270.06,698.47 273.62,696.64 277.16,694.82 280.69,693.01 284.21,691.2 287.71,689.4 291.21,687.6 294.7,685.8 298.17,684.02 301.64,682.24 305.09,680.46 308.54,678.69 311.97,676.92 315.39,675.16 318.81,673.41 322.21,671.66 325.6,669.92 328.98,668.18 332.35,666.45 335.71,664.72 339.06,663 342.4,661.28 345.73,659.57 349.05,657.86 352.36,656.16 355.67,654.46 358.96,652.77 362.24,651.08 365.51,649.4 368.77,647.72 372.02,646.05 375.26,644.39 378.49,642.72 375.44,640.74 372.39,638.76 369.36,636.79 366.33,634.83 363.32,632.88 360.32,630.93 357.32,628.98 354.34,627.05 351.37,625.12 348.41,623.2 345.46,621.28 342.52,619.37 339.59,617.47 336.66,615.57 333.75,613.68 330.85,611.8 327.96,609.93 325.08,608.06 322.21,606.19 319.35,604.33 316.5,602.48 313.66,600.64 310.82,598.8 308,596.97 305.19,595.14 302.38,593.32 299.59,591.51 296.8,589.7 294.03,587.9 291.26,586.1 288.5,584.31 285.76,582.53 283.02,580.75 280.29,578.98 277.57,577.21 274.86,575.45 272.15,573.7 269.46,571.95 266.77,570.21 264.1,568.47 260.92,569.92 257.73,571.37 254.54,572.83 251.33,574.29 248.12,575.76 244.9,577.22 241.66,578.7 238.42,580.17 235.17,581.66 231.91,583.14 228.65,584.63 225.37,586.13 222.08,587.62 218.78,589.13 215.48,590.63 212.16,592.14 208.84,593.66 205.51,595.18 202.16,596.7 198.81,598.23 195.45,599.76 192.07,601.3 188.69,602.84 185.3,604.39 181.9,605.94 178.49,607.49 175.07,609.05 171.63,610.62 168.19,612.19 164.74,613.76 161.28,615.34 157.81,616.92 154.33,618.51 150.84,620.1 147.34,621.69 143.82,623.3 140.3,624.9 136.77,626.51 133.23,628.13 129.67,629.75 132.27,631.69 134.88,633.64 137.5,635.61 140.13,637.57 142.76,639.55 145.41,641.53 148.06,643.51 150.73,645.51 153.4,647.51 156.08,649.52 158.77,651.54 161.48,653.56 164.19,655.59 166.91,657.63 169.64,659.67 172.38,661.73 175.13,663.79 177.89,665.85 180.66,667.93 183.44,670.01 186.23,672.1 189.03,674.2 191.84,676.3 194.67,678.41 197.5,680.53 200.34,682.66 203.19,684.8 206.05,686.94 208.93,689.09 211.81,691.25 214.7,693.42 217.61,695.59 220.52,697.78 223.45,699.97 226.39,702.17 229.34,704.38 232.3,706.59 235.27,708.82 238.25,711.05"/></clipPath><g clip-path="url(#cf)" opacity="0.999" stroke-width="0.7" stroke-linejoin="round"><polygon points="241.24,713.29 244.88,711.42 248.51,709.55 252.13,707.69 255.74,705.83 259.34,703.98 262.93,702.14 266.5,700.3 270.06,698.47 273.62,696.64 277.16,694.82 280.69,693.01 284.21,691.2 287.71,689.4 291.21,687.6 294.7,685.8 298.17,684.02 301.64,682.24 305.09,680.46 308.54,678.69 311.97,676.92 315.39,675.16 318.81,673.41 322.21,671.66 325.6,669.92 328.98,668.18 332.35,666.45 335.71,664.72 339.06,663 342.4,661.28 345.73,659.57 349.05,657.86 352.36,656.16 355.67,654.46 358.96,652.77 362.24,651.08 365.51,649.4 368.77,647.72 372.02,646.05 375.26,644.39 378.49,642.72 375.44,640.74 372.39,638.76 369.36,636.79 366.33,634.83 363.32,632.88 360.32,630.93 357.32,628.98 354.34,627.05 351.37,625.12 348.41,623.2 345.46,621.28 342.52,619.37 339.59,617.47 336.66,615.57 333.75,613.68 330.85,611.8 327.96,609.93 325.08,608.06 322.21,606.19 319.35,604.33 316.5,602.48 313.66,600.64 310.82,598.8 308,596.97 305.19,595.14 302.38,593.32 299.59,591.51 296.8,589.7 294.03,587.9 291.26,586.1 288.5,584.31 285.76,582.53 283.02,580.75 280.29,578.98 277.57,577.21 274.86,575.45 272.15,573.7 269.46,571.95 266.77,570.21 264.1,568.47 260.92,569.92 257.73,571.37 254.54,572.83 251.33,574.29 248.12,575.76 244.9,577.22 241.66,578.7 238.42,580.17 235.17,581.66 231.91,583.14 228.65,584.63 225.37,586.13 222.08,587.62 218.78,589.13 215.48,590.63 212.16,592.14 208.84,593.66 205.51,595.18 202.16,596.7 198.81,598.23 195.45,599.76 192.07,601.3 188.69,602.84 185.3,604.39 181.9,605.94 178.49,607.49 175.07,609.05 171.63,610.62 168.19,612.19 164.74,613.76 161.28,615.34 157.81,616.92 154.33,618.51 150.84,620.1 147.34,621.69 143.82,623.3 140.3,624.9 136.77,626.51 133.23,628.13 129.67,629.75 132.27,631.69 134.88,633.64 137.5,635.61 140.13,637.57 142.76,639.55 145.41,641.53 148.06,643.51 150.73,645.51 153.4,647.51 156.08,649.52 158.77,651.54 161.48,653.56 164.19,655.59 166.91,657.63 169.64,659.67 172.38,661.73 175.13,663.79 177.89,665.85 180.66,667.93 183.44,670.01 186.23,672.1 189.03,674.2 191.84,676.3 194.67,678.41 197.5,680.53 200.34,682.66 203.19,684.8 206.05,686.94 208.93,689.09 211.81,691.25 214.7,693.42 217.61,695.59 220.52,697.78 223.45,699.97 226.39,702.17 229.34,704.38 232.3,706.59 235.27,708.82 238.25,711.05" fill="#006040" stroke="#006040"/><polygon points="241.24,713.29 239.24,711.79 237.25,710.3 235.27,708.82 233.28,707.33 231.31,705.85 229.34,704.38 227.37,702.9 225.41,701.43 223.45,699.97 221.5,698.51 219.55,697.05 217.61,695.59 215.67,694.14 213.74,692.7 211.81,691.25 209.89,689.81 207.97,688.37 206.05,686.94 204.14,685.51 202.24,684.08 200.34,682.66 198.44,681.24 196.55,679.83 194.67,678.41 192.78,677 190.91,675.6 189.03,674.2 187.17,672.8 185.3,671.4 183.44,670.01 181.59,668.62 179.74,667.23 177.89,665.85 176.05,664.47 174.21,663.1 172.38,661.73 170.55,660.36 168.73,658.99 166.91,657.63 165.09,656.27 163.28,654.91 161.48,653.56 159.67,652.21 157.88,650.86 156.08,649.52 154.29,648.18 152.51,646.84 150.73,645.51 148.95,644.18 147.18,642.85 145.41,641.53 143.64,640.21 141.88,638.89 140.13,637.57 138.37,636.26 136.63,634.95 134.88,633.64 133.14,632.34 131.41,631.04 129.67,629.75 141.48,624.36 153.17,619.04 164.74,613.76 176.21,608.53 187.56,603.36 198.81,598.23 209.95,593.15 220.98,588.12 231.91,583.14 242.74,578.21 253.47,573.32 264.1,568.47 273.05,574.28 282.11,580.16 291.26,586.1 300.52,592.11 309.88,598.19 319.35,604.33 328.92,610.55 338.61,616.84 348.41,623.2 358.32,629.63 368.35,636.14 378.49,642.72 367.68,648.28 356.76,653.9 345.73,659.57 334.59,665.29 323.34,671.08 311.97,676.92 300.49,682.83 288.88,688.8 277.16,694.82 265.31,700.91 253.34,707.07" fill="#006040" stroke="#006040"/><polygon points="249.2,709.2 244.85,708.92 240.5,708.64 236.15,708.36 233.28,707.33 231.31,705.85 229.34,704.38 227.37,702.9 225.41,701.43 223.45,699.97 221.5,698.51 219.55,697.05 217.61,695.59 215.67,694.14 213.74,692.7 211.81,691.25 209.89,689.81 207.97,688.37 206.05,686.94 204.14,685.51 202.24,684.08 200.34,682.66 198.44,681.24 196.55,679.83 194.67,678.41 192.78,677 190.91,675.6 189.03,674.2 187.17,672.8 185.3,671.4 183.44,670.01 181.59,668.62 179.74,667.23 177.89,665.85 176.05,664.47 174.21,663.1 172.38,661.73 170.55,660.36 168.73,658.99 166.91,657.63 165.09,656.27 163.28,654.91 161.48,653.56 159.67,652.21 157.88,650.86 156.08,649.52 154.29,648.18 152.51,646.84 150.73,645.51 148.95,644.18 147.18,642.85 145.41,641.53 143.64,640.21 141.88,638.89 140.13,637.57 138.37,636.26 136.63,634.95 134.88,633.64 133.14,632.34 131.41,631.04 129.67,629.75 141.48,624.36 153.17,619.04 164.74,613.76 176.21,608.53 187.56,603.36 198.81,598.23 209.95,593.15 220.98,588.12 231.91,583.14 242.74,578.21 253.47,573.32 264.1,568.47 273.05,574.28 282.11,580.16 291.26,586.1 300.52,592.11 309.88,598.19 319.35,604.33 328.92,610.55 338.61,616.84 348.41,623.2 358.32,629.63 368.35,636.14 378.49,642.72 368.28,647.98 357.96,653.28 347.55,658.63 337.04,664.03 326.43,669.49 315.72,675 304.9,680.56 293.97,686.18 282.94,691.85 271.81,697.57 260.56,703.36" fill="#007334" stroke="#007334"/><polygon points="261.19,703.03 257.02,702.67 252.85,702.32 248.68,701.96 244.52,701.6 240.36,701.25 236.2,700.89 232.04,700.54 227.88,700.18 223.73,699.83 221.5,698.51 219.55,697.05 217.61,695.59 215.67,694.14 213.74,692.7 211.81,691.25 209.89,689.81 207.97,688.37 206.05,686.94 204.14,685.51 202.24,684.08 200.34,682.66 198.44,681.24 196.55,679.83 194.67,678.41 192.78,677 190.91,675.6 189.03,674.2 187.17,672.8 185.3,671.4 183.44,670.01 181.59,668.62 179.74,667.23 177.89,665.85 176.05,664.47 174.21,663.1 172.38,661.73 170.55,660.36 168.73,658.99 166.91,657.63 165.09,656.27 163.28,654.91 161.48,653.56 159.67,652.21 157.88,650.86 156.08,649.52 154.29,648.18 152.51,646.84 150.73,645.51 148.95,644.18 147.18,642.85 145.41,641.53 143.64,640.21 141.88,638.89 140.13,637.57 138.37,636.26 136.63,634.95 134.88,633.64 133.14,632.34 131.41,631.04 129.67,629.75 141.48,624.36 153.17,619.04 164.74,613.76 176.21,608.53 187.56,603.36 198.81,598.23 209.95,593.15 220.98,588.12 231.91,583.14 242.74,578.21 253.47,573.32 264.1,568.47 273.05,574.28 282.11,580.16 291.26,586.1 300.52,592.11 309.88,598.19 319.35,604.33 328.92,610.55 338.61,616.84 348.41,623.2 358.32,629.63 368.35,636.14 378.49,642.72 369.18,647.51 359.79,652.34 350.31,657.21 340.75,662.13 331.11,667.08 321.39,672.08 311.58,677.13 301.68,682.22 291.69,687.35 281.62,692.53 271.45,697.76" fill="#008527" stroke="#008527"/><polygon points="272.16,697.39 268.13,696.98 264.1,696.56 260.07,696.14 256.05,695.73 252.03,695.31 248.02,694.89 244.02,694.47 240.02,694.05 236.03,693.62 232.05,693.2 228.07,692.77 224.1,692.34 220.13,691.91 216.17,691.48 212.22,691.05 209.89,689.81 207.97,688.37 206.05,686.94 204.14,685.51 202.24,684.08 200.34,682.66 198.44,681.24 196.55,679.83 194.67,678.41 192.78,677 190.91,675.6 189.03,674.2 187.17,672.8 185.3,671.4 183.44,670.01 181.59,668.62 179.74,667.23 177.89,665.85 176.05,664.47 174.21,663.1 172.38,661.73 170.55,660.36 168.73,658.99 166.91,657.63 165.09,656.27 163.28,654.91 161.48,653.56 159.67,652.21 157.88,650.86 156.08,649.52 154.29,648.18 152.51,646.84 150.73,645.51 148.95,644.18 147.18,642.85 145.41,641.53 143.64,640.21 141.88,638.89 140.13,637.57 138.37,636.26 136.63,634.95 134.88,633.64 133.14,632.34 131.41,631.04 129.67,629.75 141.48,624.36 153.17,619.04 164.74,613.76 176.21,608.53 187.56,603.36 198.81,598.23 209.95,593.15 220.98,588.12 231.91,583.14 242.74,578.21 253.47,573.32 264.1,568.47 273.05,574.28 282.11,580.16 291.26,586.1 300.52,592.11 309.88,598.19 319.35,604.33 328.92,610.55 338.61,616.84 348.41,623.2 358.32,629.63 368.35,636.14 378.49,642.72 370.01,647.08 361.47,651.48 352.85,655.91 344.17,660.37 335.42,664.87 326.6,669.4 317.71,673.97 308.75,678.58 299.71,683.23 290.6,687.91 281.42,692.63" fill="#00971b" stroke="#00971b"/><polygon points="282.31,692.17 278.39,691.71 274.47,691.25 270.55,690.79 266.65,690.32 262.75,689.86 258.86,689.39 254.98,688.92 251.11,688.44 247.24,687.97 243.38,687.49 239.53,687.01 235.69,686.53 231.86,686.04 228.04,685.56 224.23,685.07 220.42,684.57 216.63,684.08 212.84,683.58 209.07,683.08 205.3,682.57 201.55,682.07 198.44,681.24 196.55,679.83 194.67,678.41 192.78,677 190.91,675.6 189.03,674.2 187.17,672.8 185.3,671.4 183.44,670.01 181.59,668.62 179.74,667.23 177.89,665.85 176.05,664.47 174.21,663.1 172.38,661.73 170.55,660.36 168.73,658.99 166.91,657.63 165.09,656.27 163.28,654.91 161.48,653.56 159.67,652.21 157.88,650.86 156.08,649.52 154.29,648.18 152.51,646.84 150.73,645.51 148.95,644.18 147.18,642.85 145.41,641.53 143.64,640.21 141.88,638.89 140.13,637.57 138.37,636.26 136.63,634.95 134.88,633.64 133.14,632.34 131.41,631.04 129.67,629.75 141.48,624.36 153.17,619.04 164.74,613.76 176.21,608.53 187.56,603.36 198.81,598.23 209.95,593.15 220.98,588.12 231.91,583.14 242.74,578.21 253.47,573.32 264.1,568.47 273.05,574.28 282.11,580.16 291.26,586.1 300.52,592.11 309.88,598.19 319.35,604.33 328.92,610.55 338.61,616.84 348.41,623.2 358.32,629.63 368.35,636.14 378.49,642.72 370.79,646.68 363.03,650.67 355.22,654.69 347.35,658.73 339.43,662.81 331.45,666.91 323.41,671.05 315.31,675.21 307.15,679.4 298.93,683.63 290.65,687.88" fill="#00a90f" stroke="#00a90f"/><polygon points="291.79,687.3 287.95,686.81 284.12,686.31 280.31,685.81 276.5,685.3 272.7,684.8 268.9,684.29 265.12,683.78 261.35,683.27 257.58,682.75 253.83,682.23 250.09,681.71 246.35,681.19 242.63,680.66 238.91,680.13 235.21,679.59 231.52,679.06 227.83,678.52 224.16,677.97 220.5,677.43 216.86,676.88 213.22,676.32 209.6,675.76 205.98,675.2 202.39,674.64 198.8,674.07 195.23,673.49 191.67,672.92 188.12,672.33 185.3,671.4 183.44,670.01 181.59,668.62 179.74,667.23 177.89,665.85 176.05,664.47 174.21,663.1 172.38,661.73 170.55,660.36 168.73,658.99 166.91,657.63 165.09,656.27 163.28,654.91 161.48,653.56 159.67,652.21 157.88,650.86 156.08,649.52 154.29,648.18 152.51,646.84 150.73,645.51 148.95,644.18 147.18,642.85 145.41,641.53 143.64,640.21 141.88,638.89 140.13,637.57 138.37,636.26 136.63,634.95 134.88,633.64 133.14,632.34 131.41,631.04 129.67,629.75 141.48,624.36 153.17,619.04 164.74,613.76 176.21,608.53 187.56,603.36 198.81,598.23 209.95,593.15 220.98,588.12 231.91,583.14 242.74,578.21 253.47,573.32 264.1,568.47 273.05,574.28 282.11,580.16 291.26,586.1 300.52,592.11 309.88,598.19 319.35,604.33 328.92,610.55 338.61,616.84 348.41,623.2 358.32,629.63 368.35,636.14 378.49,642.72 371.52,646.31 364.51,649.91 357.45,653.54 350.34,657.2 343.19,660.87 335.99,664.58 328.74,668.3 321.45,672.05 314.11,675.83 306.71,679.63 299.27,683.45" fill="#00bc03" stroke="#00bc03"/><polygon points="300.69,682.72 296.93,682.2 293.19,681.67 289.45,681.14 285.72,680.6 282,680.07 278.29,679.53 274.59,678.98 270.9,678.44 267.22,677.89 263.55,677.34 259.89,676.78 256.25,676.22 252.61,675.66 248.98,675.1 245.37,674.53 241.77,673.96 238.18,673.39 234.6,672.81 231.03,672.23 227.48,671.64 223.94,671.05 220.41,670.46 216.89,669.86 213.39,669.26 209.9,668.65 206.42,668.04 202.96,667.43 199.51,666.81 196.08,666.18 192.66,665.55 189.26,664.92 185.87,664.28 182.5,663.64 179.14,662.99 175.8,662.34 172.48,661.68 170.55,660.36 168.73,658.99 166.91,657.63 165.09,656.27 163.28,654.91 161.48,653.56 159.67,652.21 157.88,650.86 156.08,649.52 154.29,648.18 152.51,646.84 150.73,645.51 148.95,644.18 147.18,642.85 145.41,641.53 143.64,640.21 141.88,638.89 140.13,637.57 138.37,636.26 136.63,634.95 134.88,633.64 133.14,632.34 131.41,631.04 129.67,629.75 141.48,624.36 153.17,619.04 164.74,613.76 176.21,608.53 187.56,603.36 198.81,598.23 209.95,593.15 220.98,588.12 231.91,583.14 242.74,578.21 253.47,573.32 264.1,568.47 273.05,574.28 282.11,580.16 291.26,586.1 300.52,592.11 309.88,598.19 319.35,604.33 328.92,610.55 338.61,616.84 348.41,623.2 358.32,629.63 368.35,636.14 378.49,642.72 372.21,645.95 365.9,649.2 359.55,652.46 353.16,655.75 346.74,659.05 340.28,662.37 333.78,665.71 327.24,669.08 320.66,672.46 314.04,675.86 307.39,679.28" fill="#00cd00" stroke="#00cd00"/><polygon points="309.11,678.4 305.42,677.84 301.74,677.29 298.07,676.73 294.41,676.17 290.76,675.61 287.12,675.04 283.49,674.47 279.87,673.9 276.26,673.33 272.67,672.75 269.08,672.17 265.51,671.58 261.95,670.99 258.39,670.4 254.86,669.81 251.33,669.21 247.81,668.6 244.31,668 240.82,667.39 237.34,666.77 233.88,666.16 230.43,665.53 226.99,664.91 223.57,664.28 220.16,663.64 216.76,663 213.38,662.36 210.01,661.71 206.66,661.06 203.32,660.4 200,659.74 196.69,659.08 193.4,658.41 190.12,657.73 186.86,657.05 183.62,656.36 180.39,655.67 177.18,654.97 173.98,654.27 170.81,653.56 167.65,652.85 164.51,652.13 161.39,651.4 158.28,650.67 156.08,649.52 154.29,648.18 152.51,646.84 150.73,645.51 148.95,644.18 147.18,642.85 145.41,641.53 143.64,640.21 141.88,638.89 140.13,637.57 138.37,636.26 136.63,634.95 134.88,633.64 133.14,632.34 131.41,631.04 129.67,629.75 141.48,624.36 153.17,619.04 164.74,613.76 176.21,608.53 187.56,603.36 198.81,598.23 209.95,593.15 220.98,588.12 231.91,583.14 242.74,578.21 253.47,573.32 264.1,568.47 273.05,574.28 282.11,580.16 291.26,586.1 300.52,592.11 309.88,598.19 319.35,604.33 328.92,610.55 338.61,616.84 348.41,623.2 358.32,629.63 368.35,636.14 378.49,642.72 372.87,645.61 367.23,648.52 361.55,651.43 355.85,654.37 350.11,657.32 344.35,660.28 338.55,663.26 332.72,666.25 326.87,669.27 320.98,672.29 315.06,675.34" fill="#00e100" stroke="#00e100"/><polygon points="317.1,674.29 313.47,673.71 309.85,673.14 306.24,672.56 302.64,671.98 299.05,671.39 295.47,670.8 291.91,670.21 288.35,669.62 284.8,669.02 281.27,668.42 277.75,667.81 274.23,667.21 270.74,666.6 267.25,665.98 263.77,665.36 260.31,664.74 256.86,664.12 253.42,663.49 250,662.85 246.58,662.22 243.18,661.58 239.8,660.93 236.43,660.28 233.07,659.63 229.72,658.97 226.39,658.31 223.08,657.65 219.77,656.98 216.49,656.3 213.21,655.62 209.96,654.94 206.71,654.25 203.49,653.56 200.28,652.86 197.08,652.16 193.9,651.45 190.74,650.73 187.6,650.02 184.47,649.29 181.36,648.56 178.26,647.83 175.18,647.09 172.12,646.35 169.08,645.6 166.06,644.84 163.05,644.08 160.07,643.31 157.1,642.54 154.15,641.76 151.22,640.97 148.31,640.18 145.42,639.38 142.55,638.58 140.13,637.57 138.37,636.26 136.63,634.95 134.88,633.64 133.14,632.34 131.41,631.04 129.67,629.75 141.48,624.36 153.17,619.04 164.74,613.76 176.21,608.53 187.56,603.36 198.81,598.23 209.95,593.15 220.98,588.12 231.91,583.14 242.74,578.21 253.47,573.32 264.1,568.47 273.05,574.28 282.11,580.16 291.26,586.1 300.52,592.11 309.88,598.19 319.35,604.33 328.92,610.55 338.61,616.84 348.41,623.2 358.32,629.63 368.35,636.14 378.49,642.72 373.51,645.29 368.5,647.86 363.46,650.45 358.41,653.05 353.33,655.66 348.23,658.28 343.1,660.92 337.95,663.57 332.77,666.23 327.57,668.9 322.35,671.59" fill="#14f500" stroke="#14f500"/><polygon points="324.72,670.37 321.15,669.78 317.58,669.18 314.02,668.58 310.47,667.98 306.94,667.38 303.41,666.77 299.9,666.16 296.4,665.55 292.9,664.93 289.42,664.31 285.96,663.69 282.5,663.06 279.06,662.43 275.62,661.8 272.2,661.16 268.8,660.52 265.4,659.88 262.02,659.23 258.65,658.58 255.29,657.92 251.95,657.26 248.62,656.6 245.3,655.93 242,655.26 238.71,654.59 235.43,653.91 232.17,653.22 228.93,652.53 225.7,651.84 222.48,651.15 219.28,650.44 216.09,649.74 212.92,649.03 209.76,648.31 206.62,647.59 203.5,646.87 200.39,646.14 197.3,645.4 194.22,644.66 191.16,643.92 188.12,643.17 185.1,642.41 182.09,641.65 179.1,640.89 176.12,640.12 173.17,639.34 170.23,638.56 167.31,637.77 164.41,636.98 161.53,636.18 158.66,635.38 155.82,634.57 152.99,633.76 150.18,632.93 147.4,632.11 144.63,631.28 141.88,630.44 139.15,629.59 136.44,628.74 133.75,627.89 145.18,622.68 156.5,617.52 167.72,612.41 178.82,607.34 189.83,602.32 200.73,597.35 211.54,592.43 222.24,587.55 232.85,582.71 243.36,577.92 253.78,573.18 264.1,568.47 273.05,574.28 282.11,580.16 291.26,586.1 300.52,592.11 309.88,598.19 319.35,604.33 328.92,610.55 338.61,616.84 348.41,623.2 358.32,629.63 368.35,636.14 378.49,642.72 374.11,644.98 369.71,647.24 365.3,649.51 360.86,651.79 356.41,654.08 351.94,656.38 347.45,658.68 342.94,661 338.41,663.33 333.87,665.67 329.31,668.01" fill="#41fd00" stroke="#41fd00"/><polygon points="330.61,667.34 327.07,666.74 323.54,666.13 320.02,665.52 316.52,664.9 313.02,664.29 309.53,663.67 306.06,663.04 302.59,662.42 299.14,661.79 295.7,661.15 292.27,660.52 288.85,659.88 285.45,659.24 282.05,658.59 278.67,657.94 275.3,657.29 271.95,656.63 268.61,655.97 265.28,655.3 261.96,654.64 258.65,653.96 255.36,653.29 252.09,652.61 248.82,651.92 245.57,651.24 242.34,650.54 239.12,649.85 235.91,649.15 232.72,648.44 229.54,647.73 226.38,647.02 223.23,646.3 220.09,645.58 216.98,644.85 213.87,644.12 210.79,643.39 207.72,642.65 204.66,641.9 201.62,641.15 198.6,640.4 195.59,639.64 192.6,638.87 189.63,638.1 186.67,637.33 183.74,636.55 180.81,635.76 177.91,634.97 175.02,634.18 172.16,633.38 169.3,632.57 166.47,631.76 163.66,630.94 160.86,630.12 158.08,629.29 155.33,628.46 152.59,627.62 149.86,626.78 147.16,625.93 144.48,625.07 141.82,624.21 152.51,619.34 163.1,614.51 173.6,609.72 184.01,604.98 194.33,600.28 204.55,595.61 214.69,590.99 224.74,586.41 234.71,581.87 244.59,577.36 254.39,572.9 264.1,568.47 273.05,574.28 282.11,580.16 291.26,586.1 300.52,592.11 309.88,598.19 319.35,604.33 328.92,610.55 338.61,616.84 348.41,623.2 358.32,629.63 368.35,636.14 378.49,642.72 374.58,644.73 370.66,646.75 366.72,648.78 362.76,650.81 358.8,652.85 354.81,654.9 350.82,656.95 346.81,659.01 342.78,661.08 338.74,663.16 334.68,665.25" fill="#74ff00" stroke="#74ff00"/><polygon points="336.31,664.41 332.8,663.8 329.31,663.18 325.82,662.55 322.35,661.93 318.89,661.3 315.44,660.67 312,660.03 308.57,659.4 305.15,658.75 301.74,658.11 298.35,657.46 294.97,656.81 291.6,656.16 288.24,655.5 284.9,654.84 281.56,654.17 278.24,653.51 274.94,652.83 271.64,652.16 268.36,651.48 265.09,650.8 261.84,650.11 258.6,649.42 255.37,648.72 252.15,648.02 248.95,647.32 245.77,646.61 242.59,645.9 239.44,645.19 236.29,644.47 233.16,643.75 230.05,643.02 226.95,642.29 223.87,641.55 220.8,640.81 217.74,640.06 214.71,639.31 211.68,638.56 208.68,637.8 205.69,637.04 202.71,636.27 199.75,635.5 196.81,634.72 193.89,633.94 190.98,633.15 188.09,632.36 185.21,631.56 182.36,630.76 179.52,629.95 176.69,629.14 173.89,628.32 171.1,627.5 168.33,626.67 165.58,625.84 162.85,625 160.13,624.16 157.43,623.31 154.75,622.45 152.1,621.59 149.45,620.73 159.45,616.17 169.35,611.66 179.18,607.18 188.93,602.74 198.59,598.33 208.18,593.96 217.69,589.63 227.12,585.33 236.48,581.06 245.76,576.83 254.96,572.63 264.1,568.47 273.05,574.28 282.11,580.16 291.26,586.1 300.52,592.11 309.88,598.19 319.35,604.33 328.92,610.55 338.61,616.84 348.41,623.2 358.32,629.63 368.35,636.14 378.49,642.72 375.04,644.5 371.57,646.28 368.1,648.07 364.61,649.86 361.11,651.66 357.6,653.46 354.08,655.27 350.55,657.09 347.01,658.91 343.45,660.74 339.88,662.57" fill="#a5ff00" stroke="#a5ff00"/><polygon points="341.82,661.58 338.35,660.95 334.88,660.32 331.43,659.69 327.99,659.05 324.56,658.41 321.14,657.77 317.74,657.13 314.34,656.48 310.96,655.83 307.58,655.17 304.22,654.51 300.87,653.85 297.54,653.19 294.21,652.52 290.9,651.85 287.6,651.17 284.31,650.5 281.04,649.81 277.77,649.13 274.52,648.44 271.29,647.75 268.07,647.05 264.86,646.35 261.66,645.65 258.48,644.94 255.31,644.23 252.15,643.51 249.01,642.79 245.89,642.07 242.77,641.34 239.68,640.61 236.59,639.87 233.52,639.13 230.47,638.38 227.43,637.64 224.41,636.88 221.4,636.13 218.41,635.36 215.43,634.6 212.47,633.83 209.52,633.05 206.59,632.27 203.68,631.49 200.78,630.7 197.9,629.9 195.03,629.1 192.18,628.3 189.35,627.49 186.54,626.68 183.74,625.86 180.96,625.04 178.19,624.21 175.45,623.38 172.72,622.54 170.01,621.7 167.31,620.86 164.64,620 161.98,619.15 159.34,618.28 156.72,617.42 166.05,613.16 175.31,608.94 184.5,604.75 193.62,600.6 202.66,596.47 211.64,592.38 220.55,588.32 229.39,584.29 238.17,580.29 246.88,576.32 255.52,572.38 264.1,568.47 273.05,574.28 282.11,580.16 291.26,586.1 300.52,592.11 309.88,598.19 319.35,604.33 328.92,610.55 338.61,616.84 348.41,623.2 358.32,629.63 368.35,636.14 378.49,642.72 375.48,644.27 372.47,645.82 369.44,647.38 366.4,648.94 363.36,650.5 360.31,652.07 357.25,653.65 354.18,655.22 351.1,656.8 348.02,658.39 344.92,659.98" fill="#c0ff00" stroke="#c0ff00"/><polygon points="347.17,658.83 343.73,658.19 340.29,657.55 336.87,656.91 333.46,656.26 330.06,655.62 326.67,654.96 323.29,654.31 319.93,653.65 316.57,652.99 313.23,652.33 309.9,651.66 306.58,650.99 303.27,650.32 299.98,649.64 296.7,648.96 293.43,648.28 290.17,647.59 286.92,646.9 283.69,646.21 280.47,645.51 277.26,644.81 274.07,644.1 270.89,643.39 267.72,642.68 264.57,641.96 261.43,641.24 258.3,640.52 255.19,639.79 252.09,639.06 249.01,638.33 245.94,637.59 242.88,636.84 239.84,636.09 236.82,635.34 233.8,634.59 230.81,633.83 227.82,633.06 224.86,632.29 221.91,631.52 218.97,630.74 216.05,629.96 213.14,629.18 210.26,628.39 207.38,627.59 204.52,626.79 201.68,625.99 198.86,625.18 196.05,624.37 193.26,623.55 190.48,622.73 187.72,621.9 184.98,621.07 182.25,620.24 179.55,619.4 176.85,618.55 174.18,617.7 171.52,616.85 168.88,615.99 166.26,615.12 163.66,614.26 172.36,610.29 181.01,606.35 189.59,602.44 198.1,598.55 206.56,594.7 214.96,590.87 223.29,587.07 231.57,583.3 239.79,579.55 247.95,575.83 256.05,572.14 264.1,568.47 273.05,574.28 282.11,580.16 291.26,586.1 300.52,592.11 309.88,598.19 319.35,604.33 328.92,610.55 338.61,616.84 348.41,623.2 358.32,629.63 368.35,636.14 378.49,642.72 375.92,644.05 373.33,645.38 370.75,646.71 368.15,648.04 365.55,649.38 362.94,650.72 360.33,652.06 357.71,653.41 355.08,654.76 352.45,656.11 349.81,657.47" fill="#dbff00" stroke="#dbff00"/><polygon points="352.36,656.16 348.95,655.51 345.54,654.86 342.15,654.21 338.77,653.56 335.39,652.9 332.03,652.24 328.68,651.58 325.35,650.91 322.02,650.25 318.7,649.57 315.4,648.9 312.11,648.22 308.83,647.54 305.56,646.85 302.31,646.17 299.06,645.47 295.83,644.78 292.62,644.08 289.41,643.38 286.22,642.67 283.04,641.96 279.87,641.25 276.72,640.54 273.58,639.82 270.45,639.09 267.34,638.37 264.24,637.64 261.15,636.9 258.08,636.16 255.02,635.42 251.98,634.67 248.94,633.92 245.93,633.17 242.93,632.41 239.94,631.65 236.97,630.89 234.01,630.12 231.07,629.34 228.14,628.56 225.23,627.78 222.33,626.99 219.45,626.2 216.58,625.41 213.73,624.61 210.89,623.81 208.07,623 205.27,622.19 202.48,621.37 199.71,620.55 196.95,619.72 194.21,618.89 191.49,618.06 188.78,617.22 186.09,616.38 183.42,615.53 180.76,614.68 178.12,613.82 175.5,612.96 172.89,612.1 170.3,611.23 178.41,607.53 186.47,603.86 194.47,600.21 202.41,596.59 210.31,592.99 218.14,589.42 225.93,585.87 233.67,582.34 241.35,578.84 248.98,575.36 256.57,571.9 264.1,568.47 273.05,574.28 282.11,580.16 291.26,586.1 300.52,592.11 309.88,598.19 319.35,604.33 328.92,610.55 338.61,616.84 348.41,623.2 358.32,629.63 368.35,636.14 378.49,642.72 376.34,643.83 374.18,644.94 372.02,646.05 369.85,647.17 367.68,648.28 365.51,649.4 363.33,650.52 361.14,651.64 358.96,652.77 356.76,653.9 354.57,655.02" fill="#f1fc00" stroke="#f1fc00"/><polygon points="357.42,653.56 354.03,652.91 350.65,652.25 347.28,651.59 343.92,650.93 340.58,650.27 337.24,649.6 333.92,648.93 330.6,648.26 327.3,647.58 324.01,646.9 320.74,646.22 317.47,645.53 314.22,644.84 310.97,644.15 307.74,643.46 304.53,642.76 301.32,642.06 298.13,641.35 294.95,640.64 291.78,639.93 288.63,639.21 285.49,638.5 282.36,637.77 279.24,637.05 276.14,636.32 273.05,635.58 269.97,634.85 266.91,634.11 263.86,633.36 260.83,632.61 257.81,631.86 254.8,631.11 251.81,630.35 248.83,629.58 245.86,628.82 242.91,628.05 239.98,627.27 237.06,626.49 234.15,625.71 231.26,624.92 228.38,624.13 225.52,623.34 222.67,622.54 219.84,621.74 217.03,620.93 214.23,620.12 211.44,619.3 208.67,618.48 205.92,617.66 203.18,616.83 200.46,616 197.75,615.16 195.06,614.32 192.39,613.48 189.73,612.63 187.09,611.77 184.46,610.92 181.85,610.05 179.26,609.19 176.69,608.32 184.23,604.88 191.72,601.46 199.16,598.07 206.56,594.7 213.91,591.35 221.21,588.02 228.47,584.71 235.69,581.42 242.86,578.15 249.98,574.91 257.06,571.68 264.1,568.47 273.05,574.28 282.11,580.16 291.26,586.1 300.52,592.11 309.88,598.19 319.35,604.33 328.92,610.55 338.61,616.84 348.41,623.2 358.32,629.63 368.35,636.14 378.49,642.72 376.75,643.62 375.01,644.52 373.26,645.41 371.51,646.31 369.76,647.21 368.01,648.12 366.25,649.02 364.49,649.92 362.72,650.83 360.96,651.74 359.19,652.65" fill="#fff100" stroke="#fff100"/><polygon points="362.34,651.03 358.97,650.37 355.62,649.71 352.27,649.04 348.94,648.37 345.62,647.7 342.3,647.03 339,646.35 335.72,645.67 332.44,644.99 329.17,644.3 325.92,643.61 322.68,642.92 319.45,642.23 316.23,641.53 313.02,640.83 309.83,640.12 306.65,639.41 303.48,638.7 300.32,637.99 297.18,637.27 294.05,636.55 290.93,635.82 287.82,635.09 284.73,634.36 281.65,633.63 278.58,632.89 275.53,632.15 272.49,631.4 269.46,630.65 266.45,629.9 263.45,629.14 260.46,628.38 257.49,627.62 254.53,626.85 251.59,626.08 248.66,625.3 245.74,624.52 242.84,623.74 239.96,622.95 237.08,622.16 234.23,621.37 231.38,620.57 228.56,619.77 225.74,618.96 222.94,618.15 220.16,617.34 217.39,616.52 214.64,615.7 211.91,614.87 209.18,614.04 206.48,613.21 203.79,612.37 201.11,611.53 198.45,610.68 195.81,609.83 193.18,608.97 190.57,608.11 187.98,607.25 185.4,606.38 182.84,605.51 189.83,602.33 196.78,599.16 203.69,596.01 210.56,592.88 217.39,589.76 224.18,586.67 230.93,583.59 237.64,580.53 244.31,577.49 250.94,574.47 257.54,571.46 264.1,568.47 273.05,574.28 282.11,580.16 291.26,586.1 300.52,592.11 309.88,598.19 319.35,604.33 328.92,610.55 338.61,616.84 348.41,623.2 358.32,629.63 368.35,636.14 378.49,642.72 377.15,643.41 375.82,644.1 374.48,644.79 373.13,645.48 371.79,646.17 370.44,646.86 369.1,647.55 367.75,648.25 366.4,648.94 365.05,649.64 363.69,650.33" fill="#ffc700" stroke="#ffc700"/><polygon points="367.13,648.57 363.79,647.9 360.46,647.23 357.13,646.56 353.82,645.88 350.52,645.21 347.24,644.53 343.96,643.84 340.69,643.16 337.44,642.47 334.19,641.78 330.96,641.08 327.74,640.38 324.54,639.68 321.34,638.98 318.16,638.27 314.98,637.56 311.82,636.84 308.68,636.13 305.54,635.41 302.42,634.68 299.31,633.96 296.21,633.23 293.13,632.49 290.05,631.76 286.99,631.02 283.95,630.27 280.92,629.53 277.9,628.78 274.89,628.02 271.9,627.27 268.92,626.5 265.95,625.74 263,624.97 260.06,624.2 257.13,623.42 254.22,622.65 251.33,621.86 248.44,621.08 245.58,620.29 242.72,619.49 239.88,618.7 237.06,617.89 234.25,617.09 231.45,616.28 228.67,615.47 225.9,614.65 223.15,613.83 220.41,613.01 217.69,612.18 214.99,611.35 212.3,610.51 209.62,609.67 206.96,608.83 204.31,607.98 201.68,607.13 199.07,606.27 196.47,605.41 193.89,604.55 191.32,603.68 188.77,602.81 195.24,599.86 201.67,596.93 208.06,594.01 214.43,591.11 220.75,588.23 227.05,585.36 233.3,582.51 239.53,579.67 245.72,576.85 251.88,574.04 258.01,571.25 264.1,568.47 273.05,574.28 282.11,580.16 291.26,586.1 300.52,592.11 309.88,598.19 319.35,604.33 328.92,610.55 338.61,616.84 348.41,623.2 358.32,629.63 368.35,636.14 378.49,642.72 377.55,643.21 376.61,643.69 375.66,644.18 374.72,644.66 373.77,645.15 372.83,645.64 371.88,646.12 370.93,646.61 369.98,647.1 369.03,647.59 368.08,648.08" fill="#ffa600" stroke="#ffa600"/><polygon points="371.81,646.16 368.49,645.49 365.18,644.81 361.88,644.14 358.59,643.46 355.31,642.77 352.04,642.09 348.78,641.4 345.54,640.71 342.31,640.01 339.08,639.31 335.87,638.61 332.68,637.91 329.49,637.2 326.31,636.49 323.15,635.78 320,635.07 316.86,634.35 313.73,633.62 310.62,632.9 307.51,632.17 304.42,631.44 301.35,630.71 298.28,629.97 295.23,629.23 292.19,628.48 289.16,627.73 286.15,626.98 283.15,626.23 280.16,625.47 277.18,624.71 274.22,623.94 271.28,623.18 268.34,622.4 265.42,621.63 262.51,620.85 259.62,620.07 256.74,619.28 253.88,618.49 251.02,617.7 248.19,616.9 245.36,616.1 242.55,615.3 239.76,614.49 236.98,613.68 234.21,612.87 231.46,612.05 228.73,611.23 226,610.4 223.3,609.57 220.6,608.74 217.93,607.9 215.26,607.06 212.62,606.21 209.98,605.36 207.37,604.51 204.76,603.66 202.18,602.8 199.61,601.93 197.05,601.06 194.51,600.19 200.47,597.47 206.4,594.77 212.3,592.08 218.17,589.41 224.01,586.74 229.83,584.09 235.61,581.46 241.36,578.83 247.09,576.22 252.79,573.63 258.46,571.04 264.1,568.47 273.05,574.28 282.11,580.16 291.26,586.1 300.52,592.11 309.88,598.19 319.35,604.33 328.92,610.55 338.61,616.84 348.41,623.2 358.32,629.63 368.35,636.14 378.49,642.72 377.94,643.01 377.38,643.3 376.82,643.58 376.27,643.87 375.71,644.15 375.16,644.44 374.6,644.73 374.04,645.01 373.48,645.3 372.93,645.59 372.37,645.87" fill="#ff8400" stroke="#ff8400"/><polygon points="376.38,643.81 373.07,643.13 369.78,642.45 366.5,641.77 363.23,641.09 359.98,640.4 356.73,639.71 353.49,639.01 350.27,638.32 347.05,637.62 343.85,636.91 340.66,636.21 337.48,635.5 334.31,634.79 331.16,634.07 328.01,633.36 324.88,632.64 321.76,631.91 318.65,631.19 315.56,630.46 312.47,629.73 309.4,628.99 306.34,628.25 303.3,627.51 300.26,626.76 297.24,626.02 294.23,625.26 291.24,624.51 288.25,623.75 285.28,622.99 282.33,622.22 279.38,621.46 276.45,620.69 273.53,619.91 270.63,619.13 267.74,618.35 264.86,617.57 262,616.78 259.15,615.98 256.31,615.19 253.49,614.39 250.68,613.59 247.89,612.78 245.11,611.97 242.34,611.16 239.59,610.34 236.85,609.52 234.13,608.7 231.42,607.87 228.73,607.04 226.05,606.21 223.38,605.37 220.73,604.53 218.1,603.68 215.48,602.83 212.87,601.98 210.28,601.12 207.7,600.26 205.14,599.4 202.6,598.53 200.07,597.66 205.54,595.16 210.99,592.68 216.41,590.21 221.81,587.75 227.18,585.3 232.53,582.86 237.85,580.44 243.15,578.02 248.42,575.62 253.67,573.22 258.9,570.84 264.1,568.47 273.05,574.28 282.11,580.16 291.26,586.1 300.52,592.11 309.88,598.19 319.35,604.33 328.92,610.55 338.61,616.84 348.41,623.2 358.32,629.63 368.35,636.14 378.49,642.72 378.32,642.81 378.14,642.91 377.96,643 377.79,643.09 377.61,643.18 377.43,643.27 377.26,643.36 377.08,643.45 376.91,643.54 376.73,643.63 376.55,643.72" fill="#ff5e00" stroke="#ff5e00"/><polygon points="376.45,641.4 374.29,640.15 371.02,639.46 367.77,638.77 364.53,638.08 361.31,637.38 358.09,636.68 354.88,635.98 351.69,635.28 348.5,634.57 345.33,633.86 342.17,633.15 339.02,632.43 335.88,631.72 332.76,630.99 329.65,630.27 326.54,629.54 323.45,628.81 320.37,628.08 317.31,627.34 314.25,626.6 311.21,625.86 308.18,625.11 305.17,624.37 302.16,623.61 299.17,622.86 296.19,622.1 293.22,621.34 290.27,620.57 287.33,619.81 284.4,619.04 281.49,618.26 278.59,617.48 275.7,616.7 272.82,615.92 269.96,615.13 267.11,614.34 264.28,613.55 261.46,612.75 258.65,611.95 255.85,611.14 253.07,610.34 250.31,609.52 247.56,608.71 244.82,607.89 242.09,607.07 239.38,606.24 236.69,605.42 234,604.58 231.34,603.75 228.68,602.91 226.04,602.07 223.42,601.22 220.81,600.37 218.21,599.52 215.63,598.66 213.07,597.8 210.52,596.94 207.98,596.07 205.46,595.2 210.46,592.92 215.44,590.65 220.4,588.39 225.34,586.14 230.25,583.9 235.15,581.67 240.03,579.44 244.88,577.23 249.72,575.03 254.53,572.83 259.32,570.65 264.1,568.47 272.9,574.19 281.8,579.96 290.8,585.8 299.9,591.71 309.1,597.68 318.4,603.72 327.8,609.82 337.31,615.99 346.93,622.24 356.66,628.55 366.5,634.94 376.45,641.4" fill="#ff3800" stroke="#ff3800"/><polygon points="368.35,636.14 365.78,635.11 362.58,634.41 359.39,633.7 356.22,632.99 353.05,632.28 349.89,631.57 346.75,630.85 343.62,630.13 340.5,629.41 337.39,628.69 334.29,627.96 331.21,627.23 328.13,626.49 325.07,625.76 322.02,625.02 318.99,624.27 315.96,623.53 312.95,622.78 309.95,622.03 306.96,621.27 303.98,620.51 301.02,619.75 298.07,618.99 295.13,618.22 292.2,617.45 289.29,616.68 286.39,615.9 283.51,615.12 280.63,614.34 277.77,613.55 274.92,612.76 272.09,611.97 269.27,611.17 266.46,610.37 263.67,609.57 260.89,608.76 258.12,607.96 255.37,607.14 252.63,606.33 249.9,605.51 247.19,604.68 244.49,603.86 241.8,603.03 239.13,602.2 236.48,601.36 233.83,600.52 231.21,599.68 228.59,598.83 225.99,597.98 223.41,597.13 220.84,596.27 218.28,595.41 215.74,594.55 213.21,593.68 210.7,592.81 215.24,590.74 219.77,588.68 224.28,586.62 228.77,584.57 233.25,582.53 237.71,580.5 242.15,578.48 246.57,576.46 250.98,574.45 255.37,572.45 259.74,570.46 264.1,568.47 272.3,573.8 280.59,579.18 288.96,584.61 297.42,590.1 305.97,595.65 314.6,601.25 323.33,606.92 332.14,612.64 341.05,618.42 350.05,624.26 359.15,630.17 368.35,636.14" fill="#ff1200" stroke="#ff1200"/><polygon points="360.32,630.93 357.49,630.05 354.35,629.33 351.23,628.61 348.11,627.89 345.01,627.16 341.91,626.43 338.83,625.7 335.76,624.97 332.71,624.23 329.66,623.49 326.63,622.75 323.61,622 320.6,621.25 317.6,620.5 314.61,619.75 311.64,618.99 308.68,618.23 305.73,617.46 302.79,616.7 299.87,615.93 296.96,615.15 294.06,614.38 291.18,613.6 288.3,612.82 285.44,612.03 282.6,611.24 279.76,610.45 276.94,609.66 274.13,608.86 271.34,608.06 268.56,607.25 265.79,606.45 263.03,605.64 260.29,604.82 257.56,604.01 254.85,603.19 252.15,602.36 249.46,601.54 246.79,600.71 244.13,599.87 241.48,599.04 238.85,598.2 236.23,597.35 233.63,596.51 231.04,595.66 228.46,594.8 225.9,593.95 223.35,593.09 220.82,592.23 218.3,591.36 215.79,590.49 219.89,588.62 223.98,586.76 228.06,584.9 232.12,583.05 236.16,581.2 240.2,579.37 244.22,577.53 248.22,575.71 252.21,573.89 256.19,572.08 260.15,570.27 264.1,568.47 271.7,573.41 279.38,578.39 287.13,583.42 294.95,588.5 302.85,593.62 310.82,598.8 318.87,604.03 327,609.3 335.21,614.63 343.5,620.01 351.86,625.44 360.32,630.93" fill="#f50000" stroke="#f50000"/><polygon points="352.36,625.76 349.42,624.96 346.34,624.23 343.27,623.49 340.22,622.76 337.18,622.02 334.15,621.27 331.13,620.53 328.12,619.78 325.12,619.03 322.14,618.27 319.17,617.52 316.21,616.76 313.26,615.99 310.33,615.23 307.41,614.46 304.5,613.69 301.6,612.91 298.72,612.13 295.84,611.35 292.98,610.57 290.14,609.78 287.3,608.99 284.48,608.2 281.67,607.4 278.88,606.6 276.09,605.8 273.32,605 270.57,604.19 267.82,603.38 265.09,602.56 262.38,601.74 259.67,600.92 256.98,600.1 254.31,599.27 251.64,598.44 248.99,597.61 246.36,596.77 243.73,595.93 241.12,595.09 238.53,594.24 235.95,593.39 233.38,592.54 230.83,591.68 228.29,590.83 225.76,589.96 223.25,589.1 220.75,588.23 224.43,586.55 228.09,584.89 231.74,583.22 235.38,581.56 239.01,579.91 242.63,578.26 246.23,576.61 249.83,574.98 253.41,573.34 256.99,571.71 260.55,570.09 264.1,568.47 271.1,573.02 278.17,577.61 285.3,582.23 292.49,586.9 299.74,591.61 307.06,596.36 314.44,601.15 321.89,605.99 329.41,610.86 336.99,615.78 344.64,620.75 352.36,625.76" fill="#e40000" stroke="#e40000"/><polygon points="344.48,620.64 341.55,619.85 338.53,619.11 335.53,618.36 332.53,617.61 329.55,616.85 326.58,616.1 323.63,615.34 320.68,614.57 317.75,613.81 314.83,613.04 311.92,612.27 309.02,611.5 306.13,610.72 303.26,609.94 300.4,609.16 297.55,608.37 294.72,607.58 291.9,606.79 289.09,606 286.29,605.2 283.51,604.4 280.74,603.6 277.98,602.79 275.23,601.98 272.5,601.17 269.78,600.35 267.07,599.54 264.38,598.71 261.7,597.89 259.03,597.06 256.38,596.23 253.74,595.4 251.11,594.56 248.5,593.72 245.9,592.88 243.31,592.03 240.74,591.18 238.18,590.33 235.63,589.48 233.1,588.62 230.58,587.76 228.08,586.89 225.59,586.03 228.85,584.54 232.1,583.06 235.34,581.58 238.57,580.11 241.79,578.64 245,577.18 248.21,575.71 251.4,574.26 254.59,572.81 257.77,571.36 260.94,569.91 264.1,568.47 270.51,572.63 276.96,576.82 283.47,581.05 290.03,585.31 296.65,589.6 303.32,593.93 310.04,598.29 316.81,602.69 323.64,607.12 330.53,611.59 337.48,616.1 344.48,620.64" fill="#d10000" stroke="#d10000"/><polygon points="336.66,615.57 333.88,614.73 330.93,613.97 327.98,613.21 325.05,612.44 322.13,611.67 319.22,610.9 316.32,610.13 313.44,609.36 310.57,608.58 307.71,607.8 304.86,607.01 302.02,606.23 299.2,605.44 296.39,604.64 293.59,603.85 290.81,603.05 288.03,602.25 285.27,601.44 282.52,600.64 279.79,599.83 277.07,599.01 274.36,598.2 271.66,597.38 268.98,596.56 266.31,595.73 263.65,594.9 261,594.07 258.37,593.24 255.75,592.4 253.15,591.56 250.56,590.72 247.98,589.88 245.41,589.03 242.86,588.18 240.32,587.32 237.8,586.47 235.29,585.6 232.79,584.74 230.3,583.88 233.16,582.57 236.01,581.28 238.85,579.98 241.68,578.69 244.51,577.4 247.33,576.12 250.14,574.83 252.94,573.56 255.74,572.28 258.53,571.01 261.32,569.74 264.1,568.47 269.91,572.24 275.76,576.04 281.65,579.87 287.59,583.72 293.57,587.6 299.59,591.51 305.65,595.45 311.77,599.41 317.92,603.41 324.12,607.43 330.37,611.49 336.66,615.57" fill="#bf0000" stroke="#bf0000"/><polygon points="328.92,610.55 326.42,609.58 323.52,608.81 320.64,608.04 317.77,607.26 314.91,606.48 312.06,605.7 309.22,604.91 306.4,604.13 303.58,603.33 300.78,602.54 298,601.74 295.22,600.95 292.46,600.14 289.71,599.34 286.97,598.53 284.24,597.72 281.53,596.91 278.83,596.09 276.14,595.27 273.47,594.45 270.81,593.62 268.16,592.8 265.52,591.97 262.9,591.13 260.29,590.3 257.69,589.46 255.11,588.62 252.54,587.77 249.98,586.92 247.44,586.07 244.91,585.22 242.39,584.36 239.88,583.5 237.39,582.64 234.91,581.77 237.37,580.65 239.83,579.53 242.28,578.42 244.72,577.3 247.16,576.19 249.6,575.08 252.03,573.97 254.45,572.87 256.87,571.77 259.29,570.67 261.69,569.57 264.1,568.47 269.31,571.85 274.55,575.26 279.83,578.69 285.15,582.13 290.49,585.61 295.88,589.1 301.29,592.62 306.75,596.16 312.24,599.72 317.76,603.31 323.33,606.92 328.92,610.55" fill="#ac0000" stroke="#ac0000"/><polygon points="321.26,605.57 319.15,604.43 316.32,603.65 313.49,602.86 310.68,602.07 307.87,601.28 305.08,600.48 302.31,599.69 299.54,598.89 296.79,598.08 294.05,597.28 291.32,596.47 288.6,595.66 285.9,594.85 283.21,594.03 280.53,593.21 277.86,592.39 275.21,591.56 272.57,590.74 269.94,589.9 267.33,589.07 264.73,588.24 262.14,587.4 259.56,586.56 257,585.71 254.45,584.86 251.91,584.01 249.38,583.16 246.87,582.31 244.37,581.45 241.89,580.59 239.42,579.72 241.49,578.78 243.57,577.83 245.64,576.89 247.7,575.94 249.77,575 251.82,574.07 253.88,573.13 255.93,572.19 257.98,571.26 260.02,570.33 262.06,569.4 264.1,568.47 268.71,571.47 273.35,574.48 278.02,577.51 282.71,580.55 287.43,583.62 292.18,586.7 296.96,589.8 301.76,592.92 306.59,596.05 311.45,599.21 316.34,602.38 321.26,605.57" fill="#990000" stroke="#990000"/><polygon points="311.77,599.41 309.3,598.47 306.53,597.67 303.77,596.87 301.03,596.07 298.3,595.26 295.58,594.45 292.87,593.64 290.18,592.83 287.49,592.01 284.82,591.19 282.17,590.37 279.52,589.54 276.89,588.72 274.27,587.89 271.66,587.05 269.07,586.22 266.49,585.38 263.92,584.54 261.36,583.7 258.82,582.85 256.28,582 253.77,581.15 251.26,580.29 248.77,579.44 246.29,578.58 243.82,577.71 245.53,576.94 247.23,576.16 248.92,575.39 250.62,574.61 252.31,573.84 254,573.07 255.69,572.3 257.38,571.53 259.06,570.77 260.74,570 262.42,569.24 264.1,568.47 267.97,570.98 271.85,573.51 275.76,576.04 279.68,578.59 283.63,581.15 287.59,583.72 291.57,586.3 295.57,588.9 299.59,591.51 303.63,594.13 307.69,596.76 311.77,599.41" fill="#860000" stroke="#860000"/><polygon points="302.38,593.32 299.75,592.48 297.05,591.66 294.37,590.85 291.69,590.03 289.03,589.21 286.38,588.39 283.74,587.57 281.12,586.74 278.51,585.91 275.91,585.08 273.32,584.24 270.74,583.41 268.18,582.57 265.63,581.72 263.09,580.88 260.57,580.03 258.06,579.18 255.56,578.32 253.07,577.47 250.6,576.61 248.13,575.75 249.47,575.14 250.81,574.53 252.15,573.92 253.48,573.31 254.81,572.7 256.14,572.1 257.47,571.49 258.8,570.89 260.13,570.28 261.45,569.68 262.78,569.07 264.1,568.47 267.22,570.5 270.36,572.53 273.5,574.58 276.66,576.63 279.83,578.69 283.02,580.75 286.21,582.83 289.42,584.91 292.64,587 295.88,589.1 299.12,591.21 302.38,593.32" fill="#860000" stroke="#860000"/><polygon points="293.1,587.3 290.51,586.45 287.88,585.63 285.26,584.8 282.66,583.97 280.07,583.14 277.48,582.31 274.92,581.47 272.36,580.63 269.82,579.79 267.28,578.94 264.77,578.1 262.26,577.25 259.77,576.4 257.28,575.54 254.81,574.68 252.36,573.82 253.34,573.37 254.32,572.93 255.3,572.48 256.28,572.03 257.26,571.59 258.24,571.14 259.22,570.69 260.2,570.25 261.17,569.8 262.15,569.36 263.12,568.92 264.1,568.47 266.48,570.02 268.86,571.56 271.25,573.12 273.65,574.67 276.06,576.24 278.47,577.8 280.89,579.37 283.32,580.95 285.76,582.53 288.2,584.11 290.65,585.7 293.1,587.3" fill="#860000" stroke="#860000"/><polygon points="283.93,581.34 281.57,580.41 279.01,579.57 276.46,578.74 273.92,577.89 271.39,577.05 268.88,576.2 266.38,575.36 263.89,574.5 261.41,573.65 258.95,572.79 256.5,571.94 257.13,571.65 257.77,571.36 258.4,571.07 259.04,570.78 259.67,570.49 260.3,570.2 260.94,569.91 261.57,569.62 262.2,569.34 262.83,569.05 263.47,568.76 264.1,568.47 265.73,569.53 267.37,570.6 269.01,571.66 270.66,572.73 272.3,573.8 273.95,574.87 275.61,575.94 277.27,577.02 278.93,578.1 280.59,579.18 282.26,580.26 283.93,581.34" fill="#860000" stroke="#860000"/><polygon points="274.86,575.45 272.92,574.35 270.42,573.5 267.94,572.65 265.46,571.8 263.01,570.94 260.56,570.08 260.85,569.95 261.15,569.82 261.44,569.68 261.74,569.55 262.03,569.41 262.33,569.28 262.62,569.14 262.92,569.01 263.21,568.87 263.51,568.74 263.8,568.61 264.1,568.47 264.99,569.05 265.88,569.63 266.77,570.21 267.67,570.79 268.56,571.37 269.46,571.95 270.36,572.53 271.25,573.12 272.15,573.7 273.05,574.28 273.95,574.87 274.86,575.45" fill="#860000" stroke="#860000"/></g></g>
<g stroke="#000" stroke-width="0.88" fill="none" stroke-linecap="butt"><line x1="129.67" y1="629.75" x2="241.24" y2="713.29"/><line x1="241.24" y1="713.29" x2="378.49" y2="642.72"/><line x1="129.67" y1="629.75" x2="121.99" y2="476.34"/><line x1="241.24" y1="713.29" x2="242.99" y2="712.39"/><line x1="221.5" y1="698.51" x2="223.24" y2="697.63"/><line x1="202.24" y1="684.08" x2="203.98" y2="683.23"/><line x1="183.44" y1="670.01" x2="185.17" y2="669.17"/><line x1="165.09" y1="656.27" x2="166.82" y2="655.45"/><line x1="147.18" y1="642.85" x2="148.89" y2="642.05"/><line x1="129.67" y1="629.75" x2="131.38" y2="628.97"/><line x1="241.24" y1="713.29" x2="239.51" y2="712"/><line x1="259.34" y1="703.98" x2="257.61" y2="702.71"/><line x1="277.16" y1="694.82" x2="275.42" y2="693.57"/><line x1="294.7" y1="685.8" x2="292.96" y2="684.57"/><line x1="311.97" y1="676.92" x2="310.23" y2="675.71"/><line x1="328.98" y1="668.18" x2="327.23" y2="666.98"/><line x1="345.73" y1="659.57" x2="343.98" y2="658.39"/><line x1="362.24" y1="651.08" x2="360.48" y2="649.92"/><line x1="378.49" y1="642.72" x2="376.73" y2="641.58"/><line x1="129.67" y1="629.75" x2="131.38" y2="628.97"/><line x1="128.63" y1="608.95" x2="130.35" y2="608.18"/><line x1="127.57" y1="587.8" x2="129.31" y2="587.04"/><line x1="126.5" y1="566.28" x2="128.25" y2="565.53"/><line x1="125.4" y1="544.38" x2="127.17" y2="543.64"/><line x1="124.28" y1="522.1" x2="126.07" y2="521.37"/><line x1="123.15" y1="499.43" x2="124.95" y2="498.7"/><line x1="121.99" y1="476.34" x2="123.81" y2="475.63"/></g>
<g><clipPath id="cs"><polygon points="241.1,682.41 244.79,679.42 248.47,676.4 252.14,673.35 255.8,670.28 259.46,667.19 263.1,664.07 266.74,660.92 270.38,657.74 274,654.54 277.62,651.32 281.23,648.07 284.84,644.79 288.44,641.48 292.03,638.15 295.61,634.8 299.2,631.41 302.77,628 306.34,624.57 309.9,621.11 313.46,617.62 317.01,614.1 320.56,610.56 324.11,606.99 327.64,603.39 331.18,599.77 334.71,596.11 338.23,592.44 341.75,588.73 345.27,585 348.78,581.24 352.29,577.45 355.8,573.63 359.3,569.79 362.8,565.92 366.3,562.02 369.79,558.09 373.28,554.14 376.77,550.16 380.26,546.14 383.74,542.1 380.62,538.78 377.51,535.48 374.41,532.2 371.31,528.95 368.22,525.72 365.14,522.51 362.06,519.33 358.99,516.16 355.93,513.03 352.88,509.91 349.83,506.82 346.79,503.75 343.76,500.7 340.74,497.68 337.72,494.68 334.71,491.7 331.71,488.74 328.72,485.81 325.73,482.9 322.75,480.01 319.78,477.15 316.82,474.31 313.86,471.49 310.91,468.69 307.97,465.92 305.04,463.16 302.11,460.43 299.19,457.73 296.28,455.04 293.38,452.38 290.49,449.74 287.6,447.12 284.72,444.52 281.85,441.95 278.99,439.39 276.13,436.86 273.28,434.35 270.44,431.87 267.61,429.4 264.79,426.96 261.42,430.99 258.05,435 254.68,438.98 251.3,442.93 247.92,446.85 244.54,450.75 241.15,454.61 237.76,458.45 234.37,462.25 230.97,466.03 227.57,469.78 224.17,473.5 220.75,477.2 217.34,480.86 213.92,484.5 210.5,488.11 207.07,491.7 203.63,495.25 200.19,498.78 196.75,502.28 193.3,505.75 189.84,509.19 186.38,512.61 182.91,516 179.44,519.36 175.96,522.7 172.47,526.01 168.98,529.29 165.48,532.54 161.98,535.77 158.46,538.97 154.94,542.15 151.42,545.29 147.88,548.42 144.34,551.51 140.79,554.58 137.23,557.62 133.67,560.63 130.09,563.62 126.51,566.58 129.2,569.04 131.9,571.51 134.6,574 137.32,576.52 140.05,579.06 142.78,581.62 145.52,584.21 148.28,586.82 151.04,589.45 153.81,592.1 156.59,594.77 159.38,597.47 162.18,600.19 164.98,602.93 167.8,605.7 170.62,608.49 173.46,611.3 176.3,614.13 179.15,616.99 182.01,619.87 184.88,622.77 187.76,625.7 190.65,628.65 193.55,631.62 196.45,634.62 199.37,637.64 202.29,640.69 205.22,643.75 208.16,646.84 211.11,649.96 214.07,653.1 217.04,656.26 220.02,659.44 223,662.65 226,665.89 229,669.14 232.01,672.42 235.03,675.73 238.06,679.06"/></clipPath><g clip-path="url(#cs)" opacity="0.999" stroke-width="0.7" stroke-linejoin="round"><polygon points="241.1,682.41 244.79,679.42 248.47,676.4 252.14,673.35 255.8,670.28 259.46,667.19 263.1,664.07 266.74,660.92 270.38,657.74 274,654.54 277.62,651.32 281.23,648.07 284.84,644.79 288.44,641.48 292.03,638.15 295.61,634.8 299.2,631.41 302.77,628 306.34,624.57 309.9,621.11 313.46,617.62 317.01,614.1 320.56,610.56 324.11,606.99 327.64,603.39 331.18,599.77 334.71,596.11 338.23,592.44 341.75,588.73 345.27,585 348.78,581.24 352.29,577.45 355.8,573.63 359.3,569.79 362.8,565.92 366.3,562.02 369.79,558.09 373.28,554.14 376.77,550.16 380.26,546.14 383.74,542.1 380.62,538.78 377.51,535.48 374.41,532.2 371.31,528.95 368.22,525.72 365.14,522.51 362.06,519.33 358.99,516.16 355.93,513.03 352.88,509.91 349.83,506.82 346.79,503.75 343.76,500.7 340.74,497.68 337.72,494.68 334.71,491.7 331.71,488.74 328.72,485.81 325.73,482.9 322.75,480.01 319.78,477.15 316.82,474.31 313.86,471.49 310.91,468.69 307.97,465.92 305.04,463.16 302.11,460.43 299.19,457.73 296.28,455.04 293.38,452.38 290.49,449.74 287.6,447.12 284.72,444.52 281.85,441.95 278.99,439.39 276.13,436.86 273.28,434.35 270.44,431.87 267.61,429.4 264.79,426.96 261.42,430.99 258.05,435 254.68,438.98 251.3,442.93 247.92,446.85 244.54,450.75 241.15,454.61 237.76,458.45 234.37,462.25 230.97,466.03 227.57,469.78 224.17,473.5 220.75,477.2 217.34,480.86 213.92,484.5 210.5,488.11 207.07,491.7 203.63,495.25 200.19,498.78 196.75,502.28 193.3,505.75 189.84,509.19 186.38,512.61 182.91,516 179.44,519.36 175.96,522.7 172.47,526.01 168.98,529.29 165.48,532.54 161.98,535.77 158.46,538.97 154.94,542.15 151.42,545.29 147.88,548.42 144.34,551.51 140.79,554.58 137.23,557.62 133.67,560.63 130.09,563.62 126.51,566.58 129.2,569.04 131.9,571.51 134.6,574 137.32,576.52 140.05,579.06 142.78,581.62 145.52,584.21 148.28,586.82 151.04,589.45 153.81,592.1 156.59,594.77 159.38,597.47 162.18,600.19 164.98,602.93 167.8,605.7 170.62,608.49 173.46,611.3 176.3,614.13 179.15,616.99 182.01,619.87 184.88,622.77 187.76,625.7 190.65,628.65 193.55,631.62 196.45,634.62 199.37,637.64 202.29,640.69 205.22,643.75 208.16,646.84 211.11,649.96 214.07,653.1 217.04,656.26 220.02,659.44 223,662.65 226,665.89 229,669.14 232.01,672.42 235.03,675.73 238.06,679.06" fill="#006040" stroke="#006040"/><polygon points="249.16,675.83 244.75,675.55 240.34,675.27 235.93,675 233.02,673.52 231.01,671.33 229,669.14 227,666.97 225,664.81 223,662.65 221.01,660.51 219.02,658.38 217.04,656.26 215.06,654.15 213.09,652.05 211.11,649.96 209.15,647.88 207.18,645.81 205.22,643.75 203.27,641.71 201.31,639.67 199.37,637.64 197.42,635.63 195.48,633.62 193.55,631.62 191.61,629.64 189.69,627.67 187.76,625.7 185.84,623.75 183.93,621.8 182.01,619.87 180.1,617.95 178.2,616.03 176.3,614.13 174.4,612.24 172.51,610.36 170.62,608.49 168.74,606.62 166.86,604.77 164.98,602.93 163.11,601.1 161.24,599.28 159.38,597.47 157.52,595.67 155.66,593.88 153.81,592.1 151.96,590.33 150.12,588.57 148.28,586.82 146.44,585.08 144.61,583.34 142.78,581.62 140.96,579.91 139.14,578.21 137.32,576.52 135.51,574.84 133.7,573.17 131.9,571.51 130.1,569.86 128.3,568.22 126.51,566.58 138.42,556.61 150.24,546.34 161.98,535.77 173.64,524.91 185.22,513.74 196.75,502.28 208.21,490.5 219.62,478.42 230.97,466.03 242.28,453.33 253.55,440.3 264.79,426.96 274.23,435.19 283.76,443.66 293.38,452.38 303.09,461.34 312.88,470.55 322.75,480.01 332.71,489.73 342.75,499.69 352.88,509.91 363.08,520.38 373.37,531.11 383.74,542.1 372.76,554.74 361.75,567.09 350.7,579.17 339.63,590.97 328.51,602.5 317.35,613.77 306.14,624.76 294.87,635.5 283.54,645.97 272.15,656.18 260.69,666.13" fill="#007333" stroke="#007333"/><polygon points="261.95,665.05 257.72,664.7 253.49,664.35 249.27,663.99 245.05,663.64 240.83,663.28 236.61,662.93 232.4,662.57 228.18,662.22 223.98,661.87 221.01,660.51 219.02,658.38 217.04,656.26 215.06,654.15 213.09,652.05 211.11,649.96 209.15,647.88 207.18,645.81 205.22,643.75 203.27,641.71 201.31,639.67 199.37,637.64 197.42,635.63 195.48,633.62 193.55,631.62 191.61,629.64 189.69,627.67 187.76,625.7 185.84,623.75 183.93,621.8 182.01,619.87 180.1,617.95 178.2,616.03 176.3,614.13 174.4,612.24 172.51,610.36 170.62,608.49 168.74,606.62 166.86,604.77 164.98,602.93 163.11,601.1 161.24,599.28 159.38,597.47 157.52,595.67 155.66,593.88 153.81,592.1 151.96,590.33 150.12,588.57 148.28,586.82 146.44,585.08 144.61,583.34 142.78,581.62 140.96,579.91 139.14,578.21 137.32,576.52 135.51,574.84 133.7,573.17 131.9,571.51 130.1,569.86 128.3,568.22 126.51,566.58 138.42,556.61 150.24,546.34 161.98,535.77 173.64,524.91 185.22,513.74 196.75,502.28 208.21,490.5 219.62,478.42 230.97,466.03 242.28,453.33 253.55,440.3 264.79,426.96 274.23,435.19 283.76,443.66 293.38,452.38 303.09,461.34 312.88,470.55 322.75,480.01 332.71,489.73 342.75,499.69 352.88,509.91 363.08,520.38 373.37,531.11 383.74,542.1 373.77,553.58 363.78,564.83 353.77,575.85 343.73,586.64 333.65,597.21 323.55,607.55 313.4,617.68 303.21,627.58 292.97,637.27 282.69,646.75 272.35,656.01" fill="#008626" stroke="#008626"/><polygon points="273.65,654.86 269.55,654.45 265.46,654.03 261.38,653.62 257.3,653.2 253.23,652.79 249.16,652.37 245.1,651.95 241.05,651.53 237,651.11 232.96,650.68 228.93,650.26 224.9,649.83 220.88,649.4 216.87,648.97 212.86,648.54 209.15,647.88 207.18,645.81 205.22,643.75 203.27,641.71 201.31,639.67 199.37,637.64 197.42,635.63 195.48,633.62 193.55,631.62 191.61,629.64 189.69,627.67 187.76,625.7 185.84,623.75 183.93,621.8 182.01,619.87 180.1,617.95 178.2,616.03 176.3,614.13 174.4,612.24 172.51,610.36 170.62,608.49 168.74,606.62 166.86,604.77 164.98,602.93 163.11,601.1 161.24,599.28 159.38,597.47 157.52,595.67 155.66,593.88 153.81,592.1 151.96,590.33 150.12,588.57 148.28,586.82 146.44,585.08 144.61,583.34 142.78,581.62 140.96,579.91 139.14,578.21 137.32,576.52 135.51,574.84 133.7,573.17 131.9,571.51 130.1,569.86 128.3,568.22 126.51,566.58 138.42,556.61 150.24,546.34 161.98,535.77 173.64,524.91 185.22,513.74 196.75,502.28 208.21,490.5 219.62,478.42 230.97,466.03 242.28,453.33 253.55,440.3 264.79,426.96 274.23,435.19 283.76,443.66 293.38,452.38 303.09,461.34 312.88,470.55 322.75,480.01 332.71,489.73 342.75,499.69 352.88,509.91 363.08,520.38 373.37,531.11 383.74,542.1 374.71,552.51 365.66,562.74 356.59,572.77 347.5,582.62 338.38,592.28 329.24,601.76 320.06,611.06 310.86,620.17 301.61,629.11 292.33,637.87 283.01,646.45" fill="#009a1a" stroke="#009a1a"/><polygon points="284.47,645.12 280.48,644.67 276.5,644.21 272.53,643.75 268.57,643.28 264.61,642.82 260.66,642.35 256.72,641.89 252.79,641.41 248.87,640.94 244.96,640.47 241.05,639.99 237.15,639.51 233.27,639.03 229.39,638.54 225.52,638.05 221.67,637.56 217.82,637.07 213.98,636.57 210.15,636.07 206.34,635.57 202.53,635.07 198.74,634.56 195.48,633.62 193.55,631.62 191.61,629.64 189.69,627.67 187.76,625.7 185.84,623.75 183.93,621.8 182.01,619.87 180.1,617.95 178.2,616.03 176.3,614.13 174.4,612.24 172.51,610.36 170.62,608.49 168.74,606.62 166.86,604.77 164.98,602.93 163.11,601.1 161.24,599.28 159.38,597.47 157.52,595.67 155.66,593.88 153.81,592.1 151.96,590.33 150.12,588.57 148.28,586.82 146.44,585.08 144.61,583.34 142.78,581.62 140.96,579.91 139.14,578.21 137.32,576.52 135.51,574.84 133.7,573.17 131.9,571.51 130.1,569.86 128.3,568.22 126.51,566.58 138.42,556.61 150.24,546.34 161.98,535.77 173.64,524.91 185.22,513.74 196.75,502.28 208.21,490.5 219.62,478.42 230.97,466.03 242.28,453.33 253.55,440.3 264.79,426.96 274.23,435.19 283.76,443.66 293.38,452.38 303.09,461.34 312.88,470.55 322.75,480.01 332.71,489.73 342.75,499.69 352.88,509.91 363.08,520.38 373.37,531.11 383.74,542.1 375.58,551.52 367.4,560.78 359.21,569.89 351.01,578.84 342.78,587.65 334.53,596.3 326.26,604.8 317.96,613.16 309.63,621.37 301.28,629.43 292.89,637.35" fill="#00ad0d" stroke="#00ad0d"/><polygon points="294.59,635.76 290.69,635.27 286.8,634.77 282.92,634.28 279.05,633.78 275.19,633.27 271.33,632.77 267.49,632.26 263.66,631.76 259.83,631.24 256.02,630.73 252.21,630.21 248.42,629.69 244.64,629.17 240.87,628.64 237.11,628.11 233.36,627.58 229.62,627.04 225.89,626.51 222.18,625.96 218.47,625.42 214.78,624.87 211.11,624.31 207.44,623.76 203.79,623.2 200.15,622.63 196.53,622.06 192.92,621.49 189.32,620.91 185.74,620.33 182.17,619.74 180.1,617.95 178.2,616.03 176.3,614.13 174.4,612.24 172.51,610.36 170.62,608.49 168.74,606.62 166.86,604.77 164.98,602.93 163.11,601.1 161.24,599.28 159.38,597.47 157.52,595.67 155.66,593.88 153.81,592.1 151.96,590.33 150.12,588.57 148.28,586.82 146.44,585.08 144.61,583.34 142.78,581.62 140.96,579.91 139.14,578.21 137.32,576.52 135.51,574.84 133.7,573.17 131.9,571.51 130.1,569.86 128.3,568.22 126.51,566.58 138.42,556.61 150.24,546.34 161.98,535.77 173.64,524.91 185.22,513.74 196.75,502.28 208.21,490.5 219.62,478.42 230.97,466.03 242.28,453.33 253.55,440.3 264.79,426.96 274.23,435.19 283.76,443.66 293.38,452.38 303.09,461.34 312.88,470.55 322.75,480.01 332.71,489.73 342.75,499.69 352.88,509.91 363.08,520.38 373.37,531.11 383.74,542.1 376.4,550.58 369.04,558.94 361.68,567.17 354.3,575.27 346.9,583.26 339.49,591.12 332.06,598.86 324.61,606.47 317.14,613.97 309.65,621.35 302.13,628.61" fill="#00c000" stroke="#00c000"/><polygon points="304.12,626.71 300.3,626.19 296.48,625.66 292.68,625.14 288.88,624.61 285.1,624.08 281.32,623.54 277.56,623.01 273.8,622.47 270.06,621.92 266.33,621.38 262.61,620.83 258.9,620.28 255.2,619.72 251.51,619.17 247.84,618.6 244.17,618.04 240.52,617.47 236.88,616.9 233.26,616.32 229.65,615.74 226.05,615.16 222.46,614.57 218.89,613.98 215.33,613.39 211.78,612.79 208.25,612.19 204.74,611.58 201.23,610.97 197.75,610.35 194.27,609.73 190.82,609.11 187.38,608.48 183.95,607.84 180.55,607.2 177.15,606.56 173.78,605.91 170.42,605.25 167.08,604.59 164.98,602.93 163.11,601.1 161.24,599.28 159.38,597.47 157.52,595.67 155.66,593.88 153.81,592.1 151.96,590.33 150.12,588.57 148.28,586.82 146.44,585.08 144.61,583.34 142.78,581.62 140.96,579.91 139.14,578.21 137.32,576.52 135.51,574.84 133.7,573.17 131.9,571.51 130.1,569.86 128.3,568.22 126.51,566.58 138.42,556.61 150.24,546.34 161.98,535.77 173.64,524.91 185.22,513.74 196.75,502.28 208.21,490.5 219.62,478.42 230.97,466.03 242.28,453.33 253.55,440.3 264.79,426.96 274.23,435.19 283.76,443.66 293.38,452.38 303.09,461.34 312.88,470.55 322.75,480.01 332.71,489.73 342.75,499.69 352.88,509.91 363.08,520.38 373.37,531.11 383.74,542.1 377.17,549.7 370.6,557.19 364.01,564.58 357.41,571.87 350.8,579.07 344.18,586.16 337.54,593.16 330.89,600.06 324.23,606.86 317.54,613.57 310.84,620.19" fill="#00d200" stroke="#00d200"/><polygon points="313.15,617.92 309.39,617.37 305.64,616.83 301.9,616.28 298.17,615.73 294.45,615.17 290.74,614.61 287.04,614.05 283.36,613.49 279.68,612.92 276.02,612.35 272.36,611.78 268.72,611.2 265.09,610.62 261.48,610.04 257.87,609.45 254.28,608.86 250.7,608.27 247.13,607.67 243.58,607.07 240.04,606.46 236.51,605.85 233,605.24 229.5,604.62 226.02,604 222.55,603.38 219.09,602.75 215.65,602.12 212.22,601.48 208.81,600.84 205.41,600.19 202.03,599.54 198.67,598.89 195.32,598.23 191.99,597.56 188.67,596.89 185.37,596.22 182.09,595.54 178.83,594.85 175.58,594.16 172.35,593.47 169.14,592.77 165.95,592.06 162.77,591.35 159.62,590.63 156.48,589.91 153.36,589.18 150.26,588.45 148.28,586.82 146.44,585.08 144.61,583.34 142.78,581.62 140.96,579.91 139.14,578.21 137.32,576.52 135.51,574.84 133.7,573.17 131.9,571.51 130.1,569.86 128.3,568.22 126.51,566.58 138.42,556.61 150.24,546.34 161.98,535.77 173.64,524.91 185.22,513.74 196.75,502.28 208.21,490.5 219.62,478.42 230.97,466.03 242.28,453.33 253.55,440.3 264.79,426.96 274.23,435.19 283.76,443.66 293.38,452.38 303.09,461.34 312.88,470.55 322.75,480.01 332.71,489.73 342.75,499.69 352.88,509.91 363.08,520.38 373.37,531.11 383.74,542.1 377.91,548.85 372.07,555.52 366.22,562.11 360.37,568.62 354.51,575.05 348.63,581.4 342.75,587.68 336.85,593.88 330.95,600 325.03,606.05 319.1,612.02" fill="#00e800" stroke="#00e800"/><polygon points="321.75,609.36 318.05,608.8 314.35,608.23 310.66,607.66 306.99,607.09 303.32,606.51 299.67,605.94 296.03,605.35 292.4,604.77 288.78,604.18 285.18,603.59 281.58,603 278,602.4 274.43,601.8 270.87,601.2 267.33,600.59 263.79,599.98 260.27,599.37 256.77,598.75 253.28,598.13 249.8,597.5 246.33,596.87 242.88,596.24 239.44,595.6 236.01,594.96 232.6,594.32 229.21,593.67 225.83,593.02 222.46,592.36 219.11,591.7 215.78,591.03 212.46,590.36 209.16,589.69 205.87,589.01 202.6,588.33 199.34,587.64 196.1,586.95 192.88,586.25 189.68,585.54 186.49,584.84 183.32,584.12 180.17,583.41 177.03,582.68 173.91,581.96 170.82,581.22 167.74,580.48 164.67,579.74 161.63,578.99 158.61,578.24 155.6,577.47 152.62,576.71 149.66,575.94 146.71,575.16 143.79,574.38 140.88,573.59 138,572.79 135.13,571.99 132.29,571.18 130.1,569.86 128.3,568.22 126.51,566.58 138.42,556.61 150.24,546.34 161.98,535.77 173.64,524.91 185.22,513.74 196.75,502.28 208.21,490.5 219.62,478.42 230.97,466.03 242.28,453.33 253.55,440.3 264.79,426.96 274.23,435.19 283.76,443.66 293.38,452.38 303.09,461.34 312.88,470.55 322.75,480.01 332.71,489.73 342.75,499.69 352.88,509.91 363.08,520.38 373.37,531.11 383.74,542.1 378.61,548.04 373.48,553.92 368.34,559.73 363.19,565.48 358.04,571.18 352.88,576.81 347.72,582.38 342.54,587.9 337.36,593.35 332.17,598.75 326.96,604.08" fill="#20fc00" stroke="#20fc00"/><polygon points="329.98,601 326.32,600.42 322.67,599.84 319.03,599.25 315.4,598.66 311.79,598.07 308.18,597.48 304.59,596.88 301.01,596.28 297.44,595.68 293.89,595.07 290.34,594.46 286.81,593.84 283.29,593.23 279.78,592.61 276.29,591.98 272.81,591.36 269.34,590.73 265.88,590.09 262.44,589.46 259.01,588.81 255.6,588.17 252.19,587.52 248.81,586.87 245.43,586.21 242.08,585.55 238.73,584.89 235.4,584.22 232.09,583.55 228.79,582.87 225.5,582.19 222.23,581.5 218.98,580.82 215.74,580.12 212.52,579.42 209.32,578.72 206.13,578.01 202.96,577.3 199.8,576.59 196.66,575.87 193.54,575.14 190.43,574.41 187.34,573.67 184.27,572.93 181.22,572.19 178.19,571.44 175.17,570.68 172.17,569.92 169.19,569.16 166.23,568.39 163.29,567.61 160.37,566.83 157.46,566.05 154.58,565.25 151.71,564.46 148.87,563.65 146.04,562.85 143.24,562.03 140.45,561.21 137.69,560.39 134.94,559.56 146.09,549.98 157.16,540.15 168.17,530.05 179.11,519.68 189.99,509.05 200.81,498.15 211.58,486.98 222.3,475.53 232.98,463.81 243.61,451.81 254.22,439.52 264.79,426.96 274.23,435.19 283.76,443.66 293.38,452.38 303.09,461.34 312.88,470.55 322.75,480.01 332.71,489.73 342.75,499.69 352.88,509.91 363.08,520.38 373.37,531.11 383.74,542.1 379.29,547.26 374.83,552.38 370.37,557.44 365.9,562.46 361.43,567.44 356.96,572.37 352.47,577.25 347.99,582.09 343.49,586.89 339,591.64 334.49,596.34" fill="#64ff00" stroke="#64ff00"/><polygon points="337.87,592.82 334.25,592.22 330.64,591.63 327.05,591.03 323.46,590.43 319.89,589.82 316.33,589.21 312.78,588.6 309.24,587.99 305.72,587.37 302.2,586.75 298.7,586.12 295.21,585.5 291.74,584.87 288.27,584.23 284.82,583.6 281.38,582.96 277.96,582.31 274.55,581.67 271.15,581.01 267.76,580.36 264.39,579.7 261.03,579.04 257.69,578.38 254.36,577.71 251.05,577.03 247.75,576.36 244.46,575.68 241.19,574.99 237.93,574.3 234.69,573.61 231.46,572.91 228.25,572.21 225.06,571.51 221.88,570.8 218.71,570.09 215.57,569.37 212.43,568.65 209.32,567.92 206.22,567.19 203.14,566.45 200.07,565.71 197.02,564.97 193.99,564.22 190.98,563.47 187.98,562.71 185,561.95 182.04,561.18 179.09,560.41 176.17,559.63 173.26,558.85 170.37,558.06 167.5,557.27 164.65,556.47 161.82,555.67 159,554.86 156.2,554.05 153.43,553.23 150.67,552.41 147.93,551.58 145.21,550.75 155.45,541.7 165.62,532.42 175.73,522.91 185.8,513.18 195.81,503.23 205.77,493.04 215.7,482.62 225.58,471.96 235.43,461.07 245.24,449.94 255.03,438.57 264.79,426.96 274.23,435.19 283.76,443.66 293.38,452.38 303.09,461.34 312.88,470.55 322.75,480.01 332.71,489.73 342.75,499.69 352.88,509.91 363.08,520.38 373.37,531.11 383.74,542.1 379.94,546.51 376.13,550.89 372.32,555.23 368.51,559.54 364.69,563.82 360.87,568.06 357.05,572.27 353.22,576.44 349.39,580.59 345.55,584.7 341.71,588.77" fill="#a5ff00" stroke="#a5ff00"/><polygon points="345.46,584.79 341.88,584.19 338.31,583.58 334.76,582.97 331.21,582.35 327.67,581.74 324.15,581.12 320.64,580.49 317.14,579.87 313.65,579.24 310.17,578.61 306.71,577.97 303.26,577.33 299.82,576.69 296.4,576.05 292.98,575.4 289.58,574.75 286.2,574.09 282.82,573.43 279.46,572.77 276.11,572.11 272.78,571.44 269.46,570.77 266.15,570.09 262.86,569.41 259.59,568.73 256.32,568.04 253.07,567.35 249.84,566.66 246.62,565.96 243.41,565.26 240.22,564.55 237.05,563.84 233.89,563.13 230.75,562.41 227.62,561.69 224.5,560.97 221.41,560.24 218.33,559.5 215.26,558.76 212.21,558.02 209.18,557.27 206.16,556.52 203.16,555.77 200.18,555.01 197.22,554.24 194.27,553.47 191.34,552.7 188.42,551.92 185.53,551.14 182.65,550.35 179.79,549.56 176.94,548.77 174.12,547.97 171.31,547.16 168.52,546.35 165.75,545.54 163,544.72 160.26,543.89 157.55,543.06 154.85,542.23 164.23,533.7 173.56,524.98 182.84,516.07 192.09,506.96 201.29,497.66 210.45,488.16 219.58,478.46 228.68,468.57 237.74,458.47 246.78,448.17 255.8,437.67 264.79,426.96 274.23,435.19 283.76,443.66 293.38,452.38 303.09,461.34 312.88,470.55 322.75,480.01 332.71,489.73 342.75,499.69 352.88,509.91 363.08,520.38 373.37,531.11 383.74,542.1 380.56,545.79 377.38,549.45 374.2,553.09 371.02,556.71 367.83,560.3 364.65,563.87 361.46,567.41 358.26,570.93 355.07,574.43 351.87,577.91 348.67,581.36" fill="#c8ff00" stroke="#c8ff00"/><polygon points="352.79,576.91 349.25,576.29 345.71,575.67 342.19,575.05 338.67,574.43 335.17,573.8 331.68,573.17 328.2,572.54 324.74,571.9 321.28,571.26 317.84,570.62 314.41,569.98 310.99,569.33 307.59,568.68 304.19,568.03 300.81,567.37 297.45,566.71 294.09,566.04 290.75,565.38 287.43,564.71 284.11,564.03 280.81,563.36 277.53,562.68 274.25,561.99 270.99,561.31 267.75,560.61 264.52,559.92 261.3,559.22 258.1,558.52 254.91,557.82 251.74,557.11 248.58,556.39 245.43,555.68 242.31,554.96 239.19,554.23 236.09,553.5 233.01,552.77 229.94,552.04 226.89,551.3 223.86,550.55 220.84,549.8 217.83,549.05 214.84,548.3 211.87,547.54 208.92,546.77 205.98,546 203.06,545.23 200.15,544.45 197.26,543.67 194.39,542.89 191.53,542.1 188.7,541.3 185.88,540.51 183.07,539.7 180.29,538.9 177.52,538.08 174.77,537.27 172.04,536.45 169.32,535.62 166.62,534.79 163.95,533.96 172.53,525.96 181.07,517.79 189.57,509.46 198.04,500.97 206.48,492.31 214.88,483.48 223.26,474.49 231.61,465.33 239.94,455.99 248.24,446.49 256.52,436.81 264.79,426.96 274.23,435.19 283.76,443.66 293.38,452.38 303.09,461.34 312.88,470.55 322.75,480.01 332.71,489.73 342.75,499.69 352.88,509.91 363.08,520.38 373.37,531.11 383.74,542.1 381.17,545.09 378.6,548.06 376.02,551.01 373.45,553.95 370.87,556.87 368.3,559.78 365.72,562.67 363.14,565.55 360.55,568.41 357.97,571.26 355.38,574.09" fill="#ebff00" stroke="#ebff00"/><polygon points="359.89,569.15 356.37,568.53 352.86,567.9 349.37,567.27 345.88,566.64 342.41,566 338.95,565.36 335.5,564.72 332.07,564.08 328.64,563.43 325.23,562.78 321.83,562.13 318.44,561.47 315.07,560.82 311.7,560.15 308.35,559.49 305.02,558.82 301.69,558.15 298.38,557.48 295.08,556.8 291.8,556.12 288.53,555.43 285.27,554.75 282.03,554.06 278.79,553.36 275.58,552.67 272.38,551.96 269.19,551.26 266.01,550.55 262.85,549.84 259.71,549.13 256.58,548.41 253.46,547.69 250.36,546.96 247.27,546.23 244.2,545.5 241.14,544.76 238.1,544.02 235.07,543.28 232.06,542.53 229.07,541.78 226.09,541.02 223.12,540.26 220.18,539.5 217.24,538.73 214.33,537.96 211.43,537.18 208.54,536.4 205.68,535.62 202.83,534.83 199.99,534.04 197.17,533.25 194.37,532.45 191.59,531.64 188.82,530.84 186.07,530.03 183.34,529.21 180.62,528.39 177.93,527.57 175.24,526.74 172.58,525.91 180.41,518.43 188.2,510.82 195.97,503.07 203.7,495.18 211.41,487.15 219.1,478.98 226.76,470.67 234.41,462.21 242.03,453.62 249.63,444.88 257.22,435.99 264.79,426.96 274.23,435.19 283.76,443.66 293.38,452.38 303.09,461.34 312.88,470.55 322.75,480.01 332.71,489.73 342.75,499.69 352.88,509.91 363.08,520.38 373.37,531.11 383.74,542.1 381.76,544.41 379.77,546.7 377.79,548.99 375.8,551.27 373.82,553.53 371.83,555.79 369.84,558.04 367.85,560.28 365.86,562.51 363.87,564.73 361.88,566.95" fill="#fff500" stroke="#fff500"/><polygon points="366.76,561.51 363.27,560.87 359.79,560.24 356.32,559.6 352.86,558.96 349.42,558.32 345.98,557.68 342.56,557.03 339.15,556.38 335.76,555.73 332.37,555.07 329,554.41 325.64,553.75 322.29,553.08 318.95,552.42 315.63,551.74 312.32,551.07 309.02,550.39 305.74,549.71 302.46,549.03 299.2,548.34 295.96,547.65 292.73,546.96 289.51,546.27 286.3,545.57 283.11,544.86 279.93,544.16 276.77,543.45 273.62,542.74 270.49,542.02 267.36,541.3 264.26,540.58 261.16,539.85 258.09,539.12 255.02,538.39 251.97,537.65 248.94,536.91 245.92,536.17 242.92,535.42 239.93,534.67 236.95,533.92 234,533.16 231.05,532.4 228.13,531.63 225.21,530.86 222.32,530.09 219.44,529.31 216.57,528.53 213.72,527.75 210.89,526.96 208.07,526.17 205.27,525.37 202.49,524.57 199.72,523.77 196.97,522.96 194.24,522.15 191.52,521.33 188.82,520.51 186.13,519.69 183.47,518.87 180.82,518.03 187.93,511.09 195.01,504.03 202.07,496.85 209.12,489.56 216.14,482.15 223.14,474.62 230.12,466.98 237.08,459.22 244.03,451.33 250.96,443.33 257.88,435.2 264.79,426.96 274.23,435.19 283.76,443.66 293.38,452.38 303.09,461.34 312.88,470.55 322.75,480.01 332.71,489.73 342.75,499.69 352.88,509.91 363.08,520.38 373.37,531.11 383.74,542.1 382.33,543.75 380.91,545.38 379.5,547.02 378.09,548.65 376.67,550.27 375.26,551.89 373.84,553.5 372.43,555.11 371.01,556.72 369.59,558.32 368.18,559.91" fill="#ffbe00" stroke="#ffbe00"/><polygon points="373.43,553.97 369.97,553.33 366.51,552.69 363.07,552.05 359.64,551.4 356.21,550.75 352.81,550.1 349.41,549.45 346.02,548.79 342.65,548.13 339.29,547.47 335.94,546.81 332.6,546.14 329.28,545.47 325.97,544.8 322.67,544.12 319.38,543.44 316.1,542.76 312.84,542.07 309.59,541.39 306.36,540.7 303.14,540 299.93,539.3 296.73,538.6 293.55,537.9 290.38,537.19 287.23,536.48 284.08,535.77 280.96,535.06 277.84,534.34 274.74,533.61 271.66,532.89 268.59,532.16 265.53,531.43 262.49,530.69 259.46,529.95 256.44,529.21 253.44,528.46 250.46,527.71 247.49,526.96 244.53,526.2 241.59,525.44 238.67,524.68 235.76,523.91 232.87,523.14 229.99,522.37 227.12,521.59 224.28,520.81 221.44,520.03 218.63,519.24 215.83,518.44 213.04,517.65 210.27,516.85 207.52,516.05 204.78,515.24 202.06,514.43 199.35,513.62 196.67,512.8 193.99,511.98 191.34,511.15 188.7,510.33 195.13,503.91 201.54,497.4 207.93,490.8 214.31,484.09 220.66,477.3 227.01,470.4 233.34,463.41 239.65,456.32 245.95,449.13 252.24,441.84 258.52,434.45 264.79,426.96 274.23,435.19 283.76,443.66 293.38,452.38 303.09,461.34 312.88,470.55 322.75,480.01 332.71,489.73 342.75,499.69 352.88,509.91 363.08,520.38 373.37,531.11 383.74,542.1 382.88,543.1 382.02,544.1 381.17,545.09 380.31,546.09 379.45,547.08 378.59,548.07 377.73,549.05 376.87,550.04 376.01,551.02 375.15,552.01 374.29,552.99" fill="#ff9600" stroke="#ff9600"/><polygon points="379.93,546.53 376.48,545.88 373.05,545.24 369.63,544.59 366.22,543.94 362.82,543.29 359.43,542.63 356.06,541.97 352.69,541.31 349.34,540.65 346,539.98 342.67,539.31 339.36,538.64 336.06,537.97 332.76,537.29 329.49,536.61 326.22,535.92 322.97,535.24 319.73,534.55 316.5,533.86 313.29,533.16 310.08,532.47 306.9,531.76 303.72,531.06 300.56,530.35 297.41,529.64 294.27,528.93 291.15,528.22 288.04,527.5 284.95,526.78 281.87,526.05 278.8,525.32 275.75,524.59 272.71,523.86 269.69,523.12 266.68,522.38 263.68,521.63 260.7,520.88 257.73,520.13 254.78,519.38 251.84,518.62 248.92,517.86 246.01,517.1 243.11,516.33 240.24,515.56 237.37,514.79 234.52,514.01 231.69,513.23 228.87,512.44 226.07,511.65 223.28,510.86 220.51,510.07 217.75,509.27 215.01,508.47 212.29,507.66 209.58,506.86 206.88,506.04 204.2,505.23 201.54,504.41 198.9,503.59 196.27,502.76 202.05,496.88 207.81,490.92 213.56,484.88 219.3,478.77 225.02,472.57 230.74,466.3 236.44,459.94 242.13,453.51 247.81,446.99 253.48,440.39 259.14,433.72 264.79,426.96 274.23,435.19 283.76,443.66 293.38,452.38 303.09,461.34 312.88,470.55 322.75,480.01 332.71,489.73 342.75,499.69 352.88,509.91 363.08,520.38 373.37,531.11 383.74,542.1 383.42,542.47 383.11,542.84 382.79,543.21 382.47,543.58 382.15,543.95 381.83,544.32 381.52,544.69 381.2,545.06 380.88,545.42 380.56,545.79 380.24,546.16" fill="#ff6400" stroke="#ff6400"/><polygon points="381.66,539.88 379.41,537.87 376.01,537.22 372.62,536.57 369.24,535.91 365.88,535.25 362.52,534.59 359.18,533.92 355.85,533.26 352.53,532.59 349.22,531.91 345.92,531.24 342.64,530.56 339.37,529.88 336.11,529.19 332.86,528.51 329.63,527.82 326.41,527.13 323.2,526.43 320,525.73 316.82,525.03 313.65,524.33 310.49,523.62 307.35,522.92 304.22,522.2 301.1,521.49 298,520.77 294.91,520.05 291.83,519.33 288.77,518.6 285.72,517.87 282.68,517.14 279.66,516.4 276.65,515.66 273.66,514.92 270.68,514.17 267.71,513.42 264.76,512.67 261.82,511.92 258.9,511.16 255.99,510.4 253.1,509.64 250.22,508.87 247.35,508.1 244.5,507.32 241.66,506.55 238.84,505.77 236.04,504.98 233.25,504.2 230.47,503.41 227.71,502.61 224.97,501.82 222.24,501.02 219.52,500.22 216.82,499.41 214.14,498.6 211.47,497.79 208.82,496.97 206.18,496.15 203.56,495.33 208.71,489.98 213.86,484.57 218.99,479.1 224.11,473.56 229.23,467.96 234.33,462.3 239.43,456.57 244.52,450.78 249.59,444.92 254.67,439 259.73,433.01 264.79,426.96 274.07,435.05 283.44,443.37 292.9,451.94 302.44,460.74 312.06,469.78 321.76,479.06 331.54,488.58 341.41,498.35 351.35,508.36 361.38,518.62 371.48,529.13 381.66,539.88" fill="#ff3200" stroke="#ff3200"/><polygon points="371.31,528.95 368.82,527.29 365.49,526.62 362.18,525.95 358.88,525.28 355.59,524.6 352.31,523.92 349.05,523.24 345.79,522.56 342.55,521.87 339.32,521.18 336.11,520.49 332.9,519.8 329.71,519.1 326.53,518.4 323.37,517.7 320.21,516.99 317.07,516.29 313.95,515.58 310.83,514.86 307.73,514.14 304.64,513.43 301.57,512.7 298.51,511.98 295.46,511.25 292.42,510.52 289.4,509.79 286.39,509.05 283.4,508.31 280.42,507.57 277.46,506.82 274.5,506.07 271.57,505.32 268.64,504.57 265.73,503.81 262.84,503.05 259.95,502.28 257.09,501.52 254.23,500.75 251.4,499.97 248.57,499.2 245.76,498.42 242.97,497.64 240.19,496.85 237.42,496.06 234.67,495.27 231.94,494.48 229.22,493.68 226.51,492.88 223.82,492.08 221.14,491.27 218.48,490.46 215.84,489.65 213.21,488.83 210.59,488.01 215.15,483.2 219.7,478.34 224.24,473.43 228.77,468.47 233.29,463.45 237.81,458.39 242.32,453.28 246.83,448.12 251.33,442.9 255.82,437.64 260.31,432.32 264.79,426.96 273.28,434.35 281.85,441.95 290.49,449.74 299.19,457.73 307.97,465.92 316.82,474.31 325.73,482.9 334.71,491.7 343.76,500.7 352.88,509.91 362.06,519.33 371.31,528.95" fill="#ff0000" stroke="#ff0000"/><polygon points="361.04,518.27 358.54,516.7 355.29,516.01 352.05,515.33 348.83,514.64 345.61,513.95 342.41,513.25 339.22,512.56 336.05,511.86 332.89,511.16 329.73,510.45 326.6,509.75 323.47,509.04 320.36,508.32 317.26,507.61 314.17,506.89 311.1,506.17 308.04,505.45 304.99,504.72 301.96,503.99 298.94,503.26 295.93,502.53 292.94,501.79 289.95,501.05 286.99,500.31 284.03,499.56 281.1,498.82 278.17,498.06 275.26,497.31 272.36,496.55 269.48,495.79 266.61,495.03 263.75,494.26 260.91,493.5 258.08,492.72 255.27,491.95 252.47,491.17 249.68,490.39 246.91,489.61 244.16,488.82 241.41,488.03 238.69,487.24 235.98,486.45 233.28,485.65 230.59,484.85 227.93,484.04 225.27,483.24 222.63,482.43 220.01,481.61 217.4,480.8 221.38,476.52 225.35,472.21 229.32,467.86 233.28,463.47 237.24,459.04 241.19,454.58 245.13,450.07 249.07,445.53 253.01,440.94 256.94,436.32 260.87,431.66 264.79,426.96 272.49,433.66 280.26,440.52 288.08,447.55 295.96,454.74 303.9,462.1 311.89,469.62 319.94,477.31 328.05,485.16 336.22,493.19 344.43,501.38 352.71,509.74 361.04,518.27" fill="#e80000" stroke="#e80000"/><polygon points="350.85,507.85 348.56,506.09 345.39,505.4 342.23,504.7 339.08,503.99 335.94,503.29 332.82,502.58 329.7,501.87 326.61,501.16 323.52,500.44 320.45,499.72 317.39,499 314.34,498.28 311.3,497.55 308.28,496.82 305.27,496.09 302.28,495.36 299.3,494.62 296.33,493.88 293.37,493.14 290.43,492.4 287.5,491.65 284.59,490.9 281.69,490.14 278.8,489.39 275.93,488.63 273.07,487.87 270.22,487.1 267.39,486.34 264.57,485.57 261.77,484.79 258.98,484.02 256.2,483.24 253.44,482.46 250.69,481.67 247.96,480.89 245.24,480.1 242.53,479.31 239.84,478.51 237.17,477.71 234.5,476.91 231.86,476.11 229.22,475.3 226.61,474.49 224,473.68 227.42,469.95 230.84,466.18 234.25,462.39 237.66,458.57 241.06,454.72 244.46,450.84 247.86,446.93 251.25,443 254.64,439.03 258.03,435.03 261.41,431.01 264.79,426.96 271.71,432.97 278.67,439.11 285.68,445.38 292.74,451.79 299.84,458.33 306.99,465 314.19,471.8 321.43,478.74 328.72,485.81 336.05,493.02 343.42,500.36 350.85,507.85" fill="#d00000" stroke="#d00000"/><polygon points="338.73,495.67 335.78,494.78 332.7,494.07 329.62,493.35 326.56,492.63 323.51,491.91 320.48,491.19 317.46,490.46 314.45,489.73 311.45,489 308.46,488.27 305.49,487.53 302.54,486.79 299.59,486.05 296.66,485.31 293.74,484.56 290.84,483.81 287.95,483.06 285.07,482.31 282.2,481.55 279.35,480.79 276.52,480.03 273.69,479.26 270.88,478.49 268.09,477.72 265.3,476.95 262.54,476.17 259.78,475.39 257.04,474.61 254.31,473.83 251.6,473.04 248.9,472.25 246.22,471.46 243.55,470.67 240.89,469.87 238.25,469.07 235.62,468.27 233.01,467.46 230.41,466.65 233.29,463.46 236.17,460.24 239.04,457.01 241.91,453.75 244.78,450.47 247.65,447.18 250.51,443.86 253.37,440.52 256.23,437.16 259.08,433.78 261.94,430.38 264.79,426.96 270.76,432.14 276.77,437.42 282.81,442.8 288.88,448.28 294.99,453.85 301.14,459.53 307.32,465.3 313.53,471.18 319.78,477.15 326.06,483.22 332.38,489.4 338.73,495.67" fill="#b70000" stroke="#b70000"/><polygon points="328.72,485.81 326.47,484.17 323.46,483.44 320.46,482.72 317.47,481.98 314.5,481.25 311.54,480.52 308.59,479.78 305.65,479.04 302.73,478.3 299.82,477.55 296.93,476.8 294.04,476.05 291.18,475.3 288.32,474.54 285.48,473.79 282.65,473.03 279.83,472.26 277.03,471.5 274.24,470.73 271.47,469.96 268.71,469.18 265.96,468.41 263.22,467.63 260.5,466.85 257.8,466.06 255.11,465.28 252.43,464.49 249.76,463.7 247.11,462.9 244.47,462.11 241.85,461.31 239.24,460.51 236.65,459.7 239,457.05 241.35,454.38 243.71,451.7 246.05,449.01 248.4,446.3 250.75,443.58 253.09,440.84 255.43,438.09 257.77,435.33 260.11,432.55 262.45,429.76 264.79,426.96 269.97,431.45 275.18,436.02 280.42,440.67 285.68,445.38 290.97,450.18 296.28,455.04 301.62,459.98 306.99,465 312.38,470.09 317.8,475.25 323.25,480.49 328.72,485.81" fill="#9f0000" stroke="#9f0000"/><polygon points="316.82,474.31 314.5,472.83 311.57,472.09 308.66,471.35 305.76,470.61 302.87,469.86 300,469.11 297.14,468.36 294.29,467.61 291.45,466.85 288.63,466.1 285.82,465.34 283.03,464.57 280.24,463.81 277.48,463.04 274.72,462.27 271.98,461.49 269.25,460.72 266.54,459.94 263.84,459.16 261.15,458.38 258.47,457.59 255.81,456.8 253.17,456.01 250.54,455.22 247.92,454.43 245.31,453.63 242.72,452.83 244.56,450.72 246.41,448.6 248.25,446.48 250.09,444.34 251.93,442.2 253.77,440.05 255.61,437.89 257.45,435.72 259.28,433.54 261.12,431.35 262.95,429.16 264.79,426.96 269.03,430.63 273.28,434.35 277.56,438.12 281.85,441.95 286.16,445.82 290.49,449.74 294.83,453.71 299.19,457.73 303.57,461.8 307.97,465.92 312.38,470.09 316.82,474.31" fill="#860000" stroke="#860000"/></g></g>
<g stroke="#000" stroke-width="0.96" fill="none" stroke-linejoin="round"><polyline points="241.1,682.41 238.06,679.06 235.03,675.73 232.01,672.42 229,669.14 226,665.89 223,662.65 220.02,659.44 217.04,656.26 214.07,653.1 211.11,649.96 208.16,646.84 205.22,643.75 202.29,640.69 199.37,637.64 196.45,634.62 193.55,631.62 190.65,628.65 187.76,625.7 184.88,622.77 182.01,619.87 179.15,616.99 176.3,614.13 173.46,611.3 170.62,608.49 167.8,605.7 164.98,602.93 162.18,600.19 159.38,597.47 156.59,594.77 153.81,592.1 151.04,589.45 148.28,586.82 145.52,584.21 142.78,581.62 140.05,579.06 137.32,576.52 134.6,574 131.9,571.51 129.2,569.04 126.51,566.58"/><polyline points="248.85,676.08 245.81,672.73 242.78,669.4 239.75,666.1 236.74,662.82 233.73,659.57 230.73,656.34 227.74,653.13 224.76,649.95 221.79,646.79 218.82,643.65 215.87,640.54 212.92,637.45 209.99,634.39 207.06,631.34 204.14,628.32 201.23,625.33 198.32,622.36 195.43,619.41 192.55,616.48 189.67,613.58 186.8,610.7 183.95,607.85 181.1,605.01 178.26,602.2 175.43,599.42 172.61,596.65 169.79,593.91 166.99,591.19 164.19,588.5 161.41,585.82 158.63,583.17 155.86,580.54 153.1,577.94 150.35,575.35 147.61,572.79 144.88,570.25 142.16,567.74 139.44,565.24 136.74,562.77 134.04,560.32"/><polyline points="256.57,669.63 253.52,666.29 250.49,662.96 247.46,659.66 244.44,656.39 241.43,653.13 238.42,649.91 235.43,646.7 232.44,643.52 229.47,640.36 226.5,637.23 223.54,634.12 220.59,631.03 217.65,627.97 214.71,624.93 211.79,621.91 208.87,618.92 205.96,615.95 203.06,613 200.17,610.08 197.29,607.18 194.42,604.3 191.56,601.45 188.7,598.61 185.86,595.8 183.02,593.02 180.19,590.26 177.37,587.52 174.56,584.8 171.76,582.1 168.97,579.43 166.19,576.78 163.41,574.15 160.65,571.55 157.89,568.96 155.14,566.4 152.4,563.87 149.67,561.35 146.95,558.86 144.24,556.38 141.54,553.93"/><polyline points="264.25,663.07 261.2,659.73 258.16,656.41 255.13,653.11 252.1,649.84 249.09,646.59 246.08,643.36 243.08,640.16 240.09,636.98 237.11,633.82 234.14,630.69 231.17,627.58 228.22,624.5 225.27,621.44 222.33,618.4 219.4,615.38 216.48,612.39 213.57,609.42 210.66,606.48 207.77,603.56 204.88,600.66 202,597.78 199.13,594.93 196.27,592.1 193.42,589.29 190.58,586.5 187.75,583.74 184.92,581 182.1,578.29 179.3,575.59 176.5,572.92 173.71,570.27 170.93,567.65 168.15,565.04 165.39,562.46 162.64,559.9 159.89,557.36 157.15,554.85 154.43,552.35 151.71,549.88 149,547.43"/><polyline points="271.9,656.4 268.85,653.06 265.8,649.74 262.77,646.44 259.74,643.17 256.72,639.92 253.71,636.7 250.7,633.5 247.71,630.32 244.72,627.17 241.74,624.04 238.77,620.93 235.81,617.85 232.86,614.79 229.92,611.75 226.98,608.74 224.06,605.75 221.14,602.78 218.23,599.84 215.33,596.92 212.44,594.02 209.55,591.14 206.68,588.29 203.81,585.46 200.95,582.66 198.1,579.87 195.26,577.11 192.43,574.37 189.61,571.66 186.8,568.96 183.99,566.29 181.2,563.65 178.41,561.02 175.63,558.42 172.86,555.84 170.1,553.28 167.35,550.74 164.6,548.23 161.87,545.73 159.14,543.26 156.43,540.81"/><polyline points="279.52,649.61 276.46,646.27 273.41,642.95 270.37,639.66 267.34,636.39 264.32,633.14 261.3,629.92 258.29,626.72 255.29,623.55 252.3,620.4 249.32,617.27 246.34,614.16 243.38,611.08 240.42,608.02 237.47,604.99 234.53,601.98 231.6,598.99 228.68,596.02 225.76,593.08 222.86,590.16 219.96,587.26 217.07,584.39 214.19,581.54 211.32,578.71 208.45,575.91 205.6,573.12 202.75,570.36 199.92,567.63 197.09,564.91 194.27,562.22 191.46,559.55 188.65,556.9 185.86,554.28 183.07,551.67 180.3,549.09 177.53,546.54 174.77,544 172.02,541.49 169.28,538.99 166.55,536.52 163.82,534.08"/><polyline points="287.11,642.71 284.05,639.37 281,636.05 277.95,632.76 274.91,629.49 271.88,626.25 268.86,623.03 265.85,619.83 262.85,616.66 259.85,613.51 256.86,610.38 253.88,607.28 250.91,604.2 247.95,601.14 245,598.11 242.05,595.1 239.11,592.11 236.19,589.14 233.27,586.2 230.35,583.28 227.45,580.39 224.56,577.52 221.67,574.67 218.79,571.84 215.92,569.04 213.06,566.25 210.21,563.5 207.37,560.76 204.53,558.05 201.71,555.35 198.89,552.69 196.08,550.04 193.28,547.42 190.49,544.81 187.7,542.23 184.93,539.68 182.16,537.14 179.41,534.63 176.66,532.14 173.92,529.67 171.19,527.22"/><polyline points="294.67,635.68 291.61,632.35 288.55,629.03 285.5,625.74 282.46,622.48 279.42,619.24 276.4,616.02 273.38,612.82 270.37,609.65 267.37,606.5 264.38,603.38 261.4,600.27 258.42,597.2 255.45,594.14 252.49,591.11 249.54,588.1 246.6,585.11 243.67,582.15 240.74,579.21 237.82,576.29 234.91,573.4 232.01,570.53 229.12,567.68 226.24,564.85 223.36,562.05 220.5,559.27 217.64,556.51 214.79,553.77 211.95,551.06 209.12,548.37 206.29,545.7 203.48,543.06 200.67,540.43 197.87,537.83 195.08,535.25 192.3,532.7 189.53,530.16 186.76,527.65 184.01,525.16 181.26,522.69 178.52,520.24"/><polyline points="302.21,628.54 299.14,625.21 296.07,621.9 293.02,618.61 289.97,615.35 286.94,612.11 283.91,608.89 280.89,605.69 277.87,602.52 274.87,599.38 271.87,596.25 268.88,593.15 265.9,590.08 262.93,587.02 259.96,583.99 257.01,580.98 254.06,578 251.12,575.04 248.19,572.1 245.27,569.18 242.35,566.29 239.45,563.42 236.55,560.57 233.66,557.74 230.78,554.94 227.9,552.16 225.04,549.41 222.18,546.67 219.34,543.96 216.5,541.27 213.67,538.6 210.85,535.96 208.03,533.33 205.23,530.73 202.43,528.16 199.64,525.6 196.86,523.06 194.09,520.55 191.33,518.06 188.58,515.59 185.83,513.15"/><polyline points="309.72,621.29 306.64,617.96 303.58,614.65 300.52,611.36 297.47,608.1 294.42,604.86 291.39,601.64 288.36,598.45 285.35,595.28 282.34,592.13 279.33,589.01 276.34,585.91 273.35,582.84 270.38,579.78 267.41,576.75 264.45,573.75 261.49,570.76 258.55,567.8 255.61,564.86 252.68,561.95 249.76,559.06 246.85,556.19 243.95,553.34 241.05,550.52 238.16,547.71 235.29,544.94 232.42,542.18 229.55,539.45 226.7,536.73 223.85,534.05 221.02,531.38 218.19,528.73 215.37,526.11 212.56,523.51 209.76,520.94 206.96,518.38 204.18,515.85 201.4,513.33 198.63,510.84 195.87,508.38 193.12,505.93"/><polyline points="317.2,613.91 314.12,610.58 311.05,607.27 307.99,603.99 304.93,600.73 301.89,597.49 298.85,594.28 295.82,591.08 292.8,587.92 289.78,584.77 286.77,581.65 283.77,578.55 280.78,575.48 277.8,572.43 274.83,569.4 271.86,566.39 268.9,563.41 265.95,560.45 263.01,557.51 260.07,554.6 257.15,551.71 254.23,548.84 251.32,545.99 248.42,543.17 245.53,540.37 242.64,537.59 239.77,534.83 236.9,532.1 234.04,529.39 231.19,526.7 228.34,524.04 225.51,521.39 222.68,518.77 219.86,516.17 217.05,513.59 214.25,511.04 211.46,508.51 208.68,505.99 205.9,503.51 203.13,501.04 200.37,498.59"/><polyline points="324.66,606.42 321.58,603.09 318.51,599.78 315.44,596.5 312.38,593.24 309.33,590 306.29,586.79 303.25,583.6 300.22,580.43 297.2,577.29 294.19,574.17 291.19,571.07 288.19,568 285.2,564.95 282.22,561.92 279.25,558.92 276.29,555.93 273.33,552.97 270.38,550.04 267.44,547.13 264.51,544.23 261.59,541.37 258.67,538.52 255.77,535.7 252.87,532.9 249.98,530.12 247.09,527.37 244.22,524.63 241.35,521.92 238.5,519.24 235.65,516.57 232.8,513.93 229.97,511.31 227.15,508.71 224.33,506.13 221.52,503.58 218.72,501.04 215.93,498.53 213.15,496.04 210.37,493.58 207.61,491.13"/><polyline points="332.11,598.81 329.02,595.48 325.94,592.17 322.87,588.89 319.81,585.63 316.75,582.4 313.7,579.18 310.66,576 307.63,572.83 304.6,569.69 301.59,566.57 298.58,563.47 295.58,560.4 292.58,557.35 289.6,554.32 286.62,551.32 283.65,548.34 280.69,545.38 277.74,542.44 274.79,539.53 271.85,536.64 268.92,533.77 266,530.93 263.09,528.11 260.18,525.31 257.29,522.53 254.4,519.78 251.52,517.05 248.65,514.34 245.78,511.65 242.93,508.98 240.08,506.34 237.24,503.72 234.41,501.12 231.58,498.55 228.77,495.99 225.96,493.46 223.17,490.95 220.38,488.46 217.59,485.99 214.82,483.55"/><polyline points="339.53,591.07 336.44,587.75 333.36,584.44 330.28,581.16 327.21,577.9 324.15,574.67 321.1,571.46 318.05,568.27 315.01,565.11 311.98,561.96 308.96,558.85 305.95,555.75 302.94,552.68 299.94,549.63 296.95,546.6 293.97,543.6 291,540.62 288.03,537.66 285.07,534.73 282.12,531.81 279.17,528.93 276.24,526.06 273.31,523.22 270.39,520.39 267.48,517.6 264.58,514.82 261.68,512.06 258.8,509.33 255.92,506.62 253.05,503.94 250.19,501.27 247.33,498.63 244.49,496.01 241.65,493.41 238.82,490.84 236,488.28 233.18,485.75 230.38,483.24 227.58,480.75 224.79,478.29 222.01,475.84"/><polyline points="346.94,583.22 343.84,579.89 340.75,576.59 337.67,573.31 334.6,570.05 331.53,566.82 328.48,563.61 325.42,560.42 322.38,557.26 319.35,554.12 316.32,551 313.3,547.91 310.29,544.83 307.29,541.79 304.29,538.76 301.3,535.76 298.32,532.78 295.35,529.82 292.38,526.89 289.43,523.98 286.48,521.09 283.54,518.22 280.6,515.38 277.68,512.56 274.76,509.76 271.85,506.98 268.95,504.23 266.06,501.5 263.17,498.79 260.29,496.1 257.43,493.44 254.57,490.8 251.71,488.18 248.87,485.58 246.03,483 243.2,480.45 240.38,477.92 237.57,475.41 234.77,472.92 231.97,470.45 229.18,468.01"/><polyline points="354.32,575.24 351.22,571.92 348.13,568.62 345.05,565.34 341.97,562.08 338.9,558.85 335.84,555.64 332.78,552.45 329.73,549.29 326.69,546.15 323.66,543.03 320.64,539.94 317.62,536.87 314.61,533.82 311.61,530.79 308.61,527.79 305.63,524.81 302.65,521.86 299.68,518.92 296.72,516.01 293.76,513.12 290.81,510.26 287.88,507.42 284.94,504.59 282.02,501.8 279.11,499.02 276.2,496.27 273.3,493.54 270.41,490.83 267.52,488.14 264.65,485.48 261.78,482.84 258.92,480.22 256.07,477.62 253.23,475.05 250.39,472.49 247.56,469.96 244.74,467.45 241.93,464.96 239.13,462.5 236.34,460.05"/><polyline points="361.7,567.15 358.59,563.82 355.5,560.52 352.41,557.24 349.32,553.98 346.25,550.75 343.18,547.54 340.12,544.36 337.07,541.2 334.02,538.06 330.99,534.94 327.96,531.85 324.93,528.78 321.92,525.73 318.91,522.7 315.91,519.7 312.92,516.72 309.94,513.77 306.96,510.83 303.99,507.92 301.03,505.04 298.08,502.17 295.13,499.33 292.19,496.51 289.27,493.71 286.34,490.94 283.43,488.18 280.52,485.45 277.63,482.74 274.74,480.06 271.85,477.39 268.98,474.75 266.11,472.13 263.25,469.54 260.4,466.96 257.56,464.41 254.73,461.88 251.9,459.37 249.08,456.88 246.27,454.41 243.47,451.97"/><polyline points="369.06,558.92 365.95,555.6 362.85,552.3 359.75,549.02 356.66,545.76 353.58,542.53 350.51,539.32 347.45,536.14 344.39,532.98 341.34,529.84 338.3,526.72 335.26,523.63 332.23,520.56 329.21,517.51 326.2,514.49 323.19,511.49 320.2,508.51 317.21,505.55 314.22,502.62 311.25,499.71 308.28,496.82 305.32,493.96 302.37,491.12 299.43,488.3 296.49,485.5 293.57,482.72 290.65,479.97 287.73,477.24 284.83,474.53 281.93,471.85 279.04,469.18 276.16,466.54 273.29,463.92 270.42,461.33 267.57,458.75 264.72,456.2 261.88,453.67 259.04,451.16 256.22,448.67 253.4,446.2 250.59,443.76"/><polyline points="376.4,550.58 373.29,547.25 370.18,543.95 367.08,540.67 363.99,537.42 360.91,534.19 357.83,530.98 354.76,527.8 351.7,524.63 348.64,521.5 345.59,518.38 342.55,515.29 339.52,512.22 336.49,509.17 333.47,506.15 330.46,503.15 327.46,500.17 324.46,497.21 321.48,494.28 318.5,491.37 315.52,488.48 312.56,485.62 309.6,482.78 306.65,479.96 303.71,477.16 300.77,474.38 297.85,471.63 294.93,468.9 292.02,466.19 289.11,463.51 286.22,460.84 283.33,458.2 280.45,455.58 277.58,452.99 274.72,450.41 271.86,447.86 269.01,445.33 266.17,442.82 263.34,440.33 260.51,437.87 257.7,435.42"/><polyline points="383.74,542.1 380.62,538.78 377.51,535.48 374.41,532.2 371.31,528.95 368.22,525.72 365.14,522.51 362.06,519.33 358.99,516.16 355.93,513.03 352.88,509.91 349.83,506.82 346.79,503.75 343.76,500.7 340.74,497.68 337.72,494.68 334.71,491.7 331.71,488.74 328.72,485.81 325.73,482.9 322.75,480.01 319.78,477.15 316.82,474.31 313.86,471.49 310.91,468.69 307.97,465.92 305.04,463.16 302.11,460.43 299.19,457.73 296.28,455.04 293.38,452.38 290.49,449.74 287.6,447.12 284.72,444.52 281.85,441.95 278.99,439.39 276.13,436.86 273.28,434.35 270.44,431.87 267.61,429.4 264.79,426.96"/><polyline points="241.1,682.41 244.79,679.42 248.47,676.4 252.14,673.35 255.8,670.28 259.46,667.19 263.1,664.07 266.74,660.92 270.38,657.74 274,654.54 277.62,651.32 281.23,648.07 284.84,644.79 288.44,641.48 292.03,638.15 295.61,634.8 299.2,631.41 302.77,628 306.34,624.57 309.9,621.11 313.46,617.62 317.01,614.1 320.56,610.56 324.11,606.99 327.64,603.39 331.18,599.77 334.71,596.11 338.23,592.44 341.75,588.73 345.27,585 348.78,581.24 352.29,577.45 355.8,573.63 359.3,569.79 362.8,565.92 366.3,562.02 369.79,558.09 373.28,554.14 376.77,550.16 380.26,546.14 383.74,542.1"/><polyline points="234.71,675.38 238.4,672.39 242.07,669.37 245.74,666.33 249.4,663.26 253.05,660.17 256.69,657.05 260.33,653.9 263.96,650.73 267.58,647.54 271.19,644.31 274.8,641.06 278.4,637.79 282,634.48 285.59,631.16 289.17,627.8 292.75,624.42 296.32,621.01 299.88,617.58 303.44,614.12 306.99,610.63 310.54,607.11 314.09,603.57 317.63,600 321.16,596.41 324.69,592.78 328.21,589.13 331.74,585.46 335.25,581.75 338.76,578.02 342.27,574.26 345.78,570.47 349.28,566.66 352.78,562.82 356.27,558.95 359.77,555.05 363.25,551.12 366.74,547.17 370.22,543.18 373.7,539.17 377.18,535.13"/><polyline points="228.37,668.45 232.05,665.47 235.72,662.45 239.38,659.41 243.04,656.35 246.68,653.26 250.32,650.14 253.95,647 257.58,643.83 261.2,640.63 264.81,637.41 268.41,634.16 272.01,630.89 275.6,627.59 279.18,624.26 282.76,620.91 286.33,617.53 289.9,614.12 293.46,610.69 297.01,607.23 300.56,603.74 304.11,600.23 307.65,596.69 311.18,593.12 314.71,589.53 318.23,585.91 321.76,582.26 325.27,578.58 328.78,574.88 332.29,571.15 335.8,567.39 339.3,563.6 342.79,559.79 346.29,555.95 349.78,552.08 353.26,548.18 356.75,544.25 360.23,540.3 363.71,536.32 367.18,532.31 370.66,528.27"/><polyline points="222.06,661.64 225.73,658.65 229.4,655.64 233.06,652.6 236.71,649.54 240.35,646.45 243.99,643.34 247.61,640.19 251.23,637.03 254.85,633.83 258.45,630.61 262.05,627.37 265.65,624.1 269.23,620.8 272.81,617.47 276.38,614.12 279.95,610.74 283.51,607.34 287.07,603.91 290.62,600.45 294.17,596.96 297.71,593.45 301.24,589.91 304.77,586.35 308.29,582.75 311.81,579.13 315.33,575.48 318.84,571.81 322.35,568.11 325.85,564.38 329.35,560.62 332.85,556.83 336.34,553.02 339.83,549.18 343.31,545.31 346.8,541.41 350.28,537.49 353.75,533.53 357.22,529.55 360.7,525.54 364.16,521.5"/><polyline points="215.79,654.92 219.46,651.94 223.12,648.93 226.78,645.9 230.42,642.84 234.06,639.75 237.69,636.64 241.31,633.5 244.93,630.33 248.54,627.14 252.14,623.92 255.73,620.68 259.32,617.41 262.9,614.11 266.48,610.79 270.05,607.44 273.61,604.06 277.17,600.66 280.72,597.23 284.26,593.77 287.8,590.29 291.34,586.78 294.87,583.24 298.39,579.67 301.91,576.08 305.43,572.46 308.94,568.81 312.45,565.14 315.95,561.44 319.45,557.71 322.94,553.95 326.43,550.17 329.92,546.36 333.4,542.51 336.88,538.65 340.36,534.75 343.83,530.82 347.31,526.87 350.77,522.89 354.24,518.88 357.7,514.84"/><polyline points="209.56,648.32 213.23,645.34 216.88,642.33 220.53,639.3 224.17,636.24 227.81,633.15 231.43,630.04 235.05,626.9 238.66,623.74 242.27,620.55 245.86,617.33 249.45,614.09 253.04,610.82 256.61,607.53 260.18,604.21 263.75,600.86 267.3,597.48 270.86,594.08 274.4,590.65 277.94,587.2 281.48,583.71 285.01,580.2 288.53,576.67 292.05,573.1 295.57,569.51 299.08,565.89 302.58,562.25 306.09,558.57 309.58,554.87 313.08,551.14 316.57,547.39 320.05,543.6 323.53,539.79 327.01,535.95 330.49,532.08 333.96,528.19 337.43,524.26 340.89,520.31 344.36,516.33 347.82,512.32 351.27,508.28"/><polyline points="203.37,641.81 207.03,638.83 210.68,635.83 214.33,632.8 217.96,629.74 221.59,626.66 225.21,623.55 228.83,620.41 232.43,617.25 236.03,614.06 239.62,610.85 243.21,607.61 246.79,604.34 250.36,601.05 253.92,597.73 257.48,594.38 261.03,591.01 264.58,587.6 268.12,584.18 271.66,580.72 275.19,577.24 278.71,573.73 282.23,570.2 285.75,566.63 289.26,563.04 292.76,559.43 296.26,555.78 299.76,552.11 303.25,548.41 306.74,544.68 310.22,540.93 313.7,537.14 317.18,533.33 320.65,529.49 324.12,525.62 327.59,521.73 331.05,517.8 334.51,513.85 337.97,509.87 341.43,505.86 344.88,501.82"/><polyline points="197.22,635.41 200.87,632.44 204.52,629.43 208.16,626.41 211.79,623.35 215.42,620.27 219.03,617.16 222.64,614.03 226.24,610.87 229.83,607.68 233.42,604.47 237,601.23 240.57,597.96 244.14,594.67 247.7,591.35 251.25,588.01 254.8,584.63 258.34,581.23 261.88,577.81 265.41,574.35 268.93,570.87 272.45,567.37 275.97,563.83 279.48,560.27 282.98,556.68 286.48,553.06 289.98,549.42 293.47,545.75 296.96,542.05 300.44,538.32 303.92,534.57 307.39,530.78 310.86,526.97 314.33,523.13 317.79,519.27 321.25,515.37 324.71,511.45 328.17,507.49 331.62,503.51 335.07,499.5 338.51,495.46"/><polyline points="191.11,629.12 194.76,626.14 198.4,623.14 202.03,620.12 205.66,617.06 209.28,613.98 212.89,610.88 216.49,607.74 220.09,604.59 223.67,601.4 227.26,598.19 230.83,594.95 234.4,591.69 237.96,588.4 241.51,585.08 245.06,581.73 248.6,578.36 252.14,574.96 255.67,571.54 259.2,568.09 262.72,564.61 266.23,561.1 269.74,557.57 273.24,554.01 276.74,550.42 280.24,546.8 283.73,543.16 287.21,539.49 290.69,535.79 294.17,532.06 297.64,528.31 301.11,524.52 304.58,520.71 308.04,516.88 311.5,513.01 314.95,509.11 318.41,505.19 321.85,501.24 325.3,497.26 328.74,493.25 332.18,489.21"/><polyline points="185.03,622.93 188.68,619.95 192.32,616.95 195.94,613.93 199.57,610.88 203.18,607.8 206.78,604.69 210.38,601.56 213.97,598.41 217.55,595.22 221.13,592.01 224.7,588.78 228.26,585.51 231.82,582.22 235.37,578.91 238.91,575.56 242.45,572.19 245.98,568.79 249.5,565.37 253.02,561.92 256.54,558.44 260.04,554.94 263.55,551.4 267.05,547.84 270.54,544.25 274.03,540.64 277.51,537 280.99,533.33 284.47,529.63 287.94,525.9 291.41,522.15 294.87,518.37 298.33,514.56 301.78,510.72 305.24,506.85 308.69,502.96 312.13,499.03 315.57,495.08 319.01,491.1 322.45,487.09 325.89,483.05"/><polyline points="179,616.84 182.64,613.87 186.27,610.87 189.9,607.85 193.51,604.79 197.12,601.72 200.72,598.61 204.31,595.49 207.89,592.33 211.47,589.15 215.04,585.94 218.6,582.7 222.16,579.44 225.71,576.15 229.25,572.84 232.79,569.49 236.32,566.12 239.85,562.73 243.37,559.3 246.88,555.85 250.39,552.38 253.89,548.87 257.39,545.34 260.88,541.78 264.37,538.19 267.85,534.58 271.33,530.94 274.81,527.27 278.28,523.57 281.74,519.84 285.2,516.09 288.66,512.31 292.11,508.5 295.56,504.66 299.01,500.8 302.45,496.9 305.89,492.98 309.33,489.03 312.76,485.05 316.19,481.04 319.62,477"/><polyline points="173.01,610.85 176.64,607.88 180.27,604.89 183.89,601.86 187.49,598.81 191.1,595.74 194.69,592.64 198.28,589.51 201.85,586.35 205.43,583.17 208.99,579.97 212.55,576.73 216.1,573.47 219.64,570.18 223.18,566.87 226.71,563.53 230.24,560.16 233.76,556.76 237.27,553.34 240.78,549.89 244.28,546.41 247.78,542.91 251.27,539.38 254.76,535.82 258.24,532.23 261.72,528.62 265.19,524.98 268.66,521.31 272.12,517.61 275.58,513.89 279.03,510.13 282.49,506.35 285.93,502.54 289.38,498.71 292.82,494.84 296.25,490.95 299.69,487.02 303.12,483.07 306.55,479.09 309.97,475.08 313.39,471.04"/><polyline points="167.06,604.97 170.68,602 174.3,599 177.91,595.98 181.52,592.93 185.11,589.86 188.7,586.76 192.28,583.63 195.85,580.48 199.42,577.3 202.98,574.09 206.53,570.86 210.08,567.6 213.61,564.31 217.15,561 220.67,557.66 224.19,554.29 227.7,550.9 231.21,547.48 234.71,544.03 238.21,540.55 241.7,537.05 245.19,533.52 248.67,529.96 252.14,526.37 255.61,522.76 259.08,519.12 262.54,515.45 266,511.75 269.45,508.03 272.9,504.28 276.35,500.5 279.79,496.69 283.23,492.85 286.66,488.99 290.09,485.09 293.52,481.17 296.94,477.22 300.36,473.24 303.78,469.23 307.2,465.19"/><polyline points="161.14,599.18 164.77,596.22 168.38,593.22 171.98,590.2 175.58,587.16 179.17,584.08 182.75,580.98 186.33,577.86 189.89,574.71 193.45,571.53 197.01,568.32 200.55,565.09 204.09,561.83 207.62,558.54 211.15,555.23 214.67,551.89 218.18,548.52 221.69,545.13 225.19,541.71 228.69,538.26 232.18,534.79 235.66,531.28 239.14,527.75 242.61,524.2 246.08,520.61 249.55,517 253.01,513.36 256.46,509.69 259.92,506 263.36,502.27 266.8,498.52 270.24,494.74 273.68,490.93 277.11,487.09 280.54,483.23 283.96,479.33 287.38,475.41 290.8,471.46 294.21,467.48 297.63,463.47 301.04,459.43"/><polyline points="155.27,593.5 158.89,590.54 162.49,587.54 166.09,584.52 169.68,581.48 173.27,578.41 176.84,575.31 180.41,572.18 183.97,569.03 187.52,565.85 191.07,562.65 194.61,559.42 198.14,556.16 201.67,552.87 205.19,549.56 208.7,546.22 212.21,542.86 215.71,539.47 219.2,536.05 222.69,532.6 226.18,529.12 229.66,525.62 233.13,522.09 236.6,518.54 240.06,514.95 243.52,511.34 246.97,507.7 250.42,504.03 253.87,500.34 257.31,496.61 260.74,492.86 264.18,489.08 267.6,485.27 271.03,481.44 274.45,477.57 277.87,473.68 281.28,469.75 284.69,465.8 288.1,461.82 291.51,457.81 294.91,453.78"/><polyline points="149.44,587.92 153.05,584.95 156.65,581.96 160.24,578.94 163.83,575.9 167.4,572.83 170.97,569.73 174.53,566.61 178.09,563.46 181.63,560.28 185.17,557.08 188.71,553.85 192.23,550.59 195.75,547.3 199.27,543.99 202.77,540.66 206.27,537.29 209.77,533.9 213.26,530.48 216.74,527.03 220.22,523.56 223.69,520.06 227.16,516.53 230.62,512.97 234.07,509.39 237.53,505.78 240.97,502.14 244.42,498.47 247.85,494.77 251.29,491.05 254.72,487.3 258.14,483.52 261.56,479.71 264.98,475.88 268.4,472.01 271.81,468.12 275.22,464.2 278.62,460.24 282.02,456.26 285.42,452.26 288.81,448.22"/><polyline points="143.65,582.44 147.25,579.47 150.84,576.48 154.43,573.47 158.01,570.42 161.58,567.35 165.14,564.26 168.69,561.13 172.24,557.98 175.78,554.81 179.32,551.6 182.84,548.37 186.36,545.12 189.88,541.83 193.38,538.52 196.88,535.19 200.38,531.82 203.86,528.43 207.35,525.01 210.82,521.56 214.29,518.09 217.76,514.59 221.22,511.06 224.67,507.51 228.12,503.92 231.57,500.31 235.01,496.67 238.45,493.01 241.88,489.31 245.3,485.59 248.73,481.84 252.15,478.06 255.56,474.25 258.97,470.41 262.38,466.55 265.78,462.66 269.18,458.73 272.58,454.78 275.98,450.8 279.37,446.79 282.76,442.76"/><polyline points="137.89,577.05 141.49,574.09 145.08,571.1 148.66,568.09 152.23,565.04 155.79,561.97 159.35,558.88 162.9,555.76 166.44,552.61 169.97,549.43 173.5,546.23 177.02,543 180.53,539.74 184.04,536.46 187.54,533.15 191.03,529.81 194.52,526.45 198,523.06 201.47,519.64 204.94,516.2 208.41,512.72 211.87,509.22 215.32,505.69 218.77,502.14 222.21,498.56 225.65,494.94 229.08,491.31 232.51,487.64 235.94,483.95 239.36,480.22 242.77,476.47 246.18,472.69 249.59,468.89 253,465.05 256.4,461.18 259.79,457.29 263.19,453.37 266.58,449.42 269.97,445.44 273.35,441.43 276.73,437.39"/><polyline points="132.18,571.77 135.77,568.81 139.35,565.82 142.92,562.8 146.49,559.76 150.05,556.69 153.59,553.6 157.14,550.48 160.67,547.33 164.2,544.15 167.72,540.95 171.23,537.72 174.74,534.47 178.24,531.19 181.73,527.88 185.22,524.54 188.7,521.18 192.17,517.79 195.64,514.37 199.1,510.92 202.56,507.45 206.01,503.95 209.46,500.42 212.9,496.87 216.33,493.29 219.77,489.68 223.19,486.04 226.61,482.37 230.03,478.68 233.45,474.95 236.85,471.2 240.26,467.42 243.66,463.62 247.06,459.78 250.45,455.92 253.84,452.02 257.23,448.1 260.61,444.15 263.99,440.17 267.37,436.16 270.74,432.13"/><polyline points="126.51,566.58 130.09,563.62 133.67,560.63 137.23,557.62 140.79,554.58 144.34,551.51 147.88,548.42 151.42,545.29 154.94,542.15 158.46,538.97 161.98,535.77 165.48,532.54 168.98,529.29 172.47,526.01 175.96,522.7 179.44,519.36 182.91,516 186.38,512.61 189.84,509.19 193.3,505.75 196.75,502.28 200.19,498.78 203.63,495.25 207.07,491.7 210.5,488.11 213.92,484.5 217.34,480.86 220.75,477.2 224.17,473.5 227.57,469.78 230.97,466.03 234.37,462.25 237.76,458.45 241.15,454.61 244.54,450.75 247.92,446.85 251.3,442.93 254.68,438.98 258.05,435 261.42,430.99 264.79,426.96"/></g>
<g font-family="'Liberation Sans', Arial, sans-serif" fill="#000"><text transform="matrix(0.8893 -0.4572 0.8004 0.5994 241.24 713.29)" x="-7.67" y="3.54" font-size="9.83" text-anchor="end">20</text><text transform="matrix(0.8893 -0.4572 0.8004 0.5994 221.5 698.51)" x="-7.67" y="3.54" font-size="9.83" text-anchor="end">30</text><text transform="matrix(0.8893 -0.4572 0.8004 0.5994 202.24 684.08)" x="-7.67" y="3.54" font-size="9.83" text-anchor="end">40</text><text transform="matrix(0.8893 -0.4572 0.8004 0.5994 183.44 670.01)" x="-7.67" y="3.54" font-size="9.83" text-anchor="end">50</text><text transform="matrix(0.8893 -0.4572 0.8004 0.5994 165.09 656.27)" x="-7.67" y="3.54" font-size="9.83" text-anchor="end">60</text><text transform="matrix(0.8893 -0.4572 0.8004 0.5994 147.18 642.85)" x="-7.67" y="3.54" font-size="9.83" text-anchor="end">70</text><text transform="matrix(0.8893 -0.4572 0.8004 0.5994 129.67 629.75)" x="-7.67" y="3.54" font-size="9.83" text-anchor="end">80</text><text transform="matrix(0.7204 0.5395 -0.8893 0.4572 241.24 713.29)" x="8.3" y="3.34" font-size="9.83" text-anchor="start">0</text><text transform="matrix(0.7204 0.5395 -0.8893 0.4572 259.34 703.98)" x="8.3" y="3.34" font-size="9.83" text-anchor="start">10</text><text transform="matrix(0.7204 0.5395 -0.8893 0.4572 277.16 694.82)" x="8.3" y="3.34" font-size="9.83" text-anchor="start">20</text><text transform="matrix(0.7204 0.5395 -0.8893 0.4572 294.7 685.8)" x="8.3" y="3.34" font-size="9.83" text-anchor="start">30</text><text transform="matrix(0.7204 0.5395 -0.8893 0.4572 311.97 676.92)" x="8.3" y="3.34" font-size="9.83" text-anchor="start">40</text><text transform="matrix(0.7204 0.5395 -0.8893 0.4572 328.98 668.18)" x="8.3" y="3.34" font-size="9.83" text-anchor="start">50</text><text transform="matrix(0.7204 0.5395 -0.8893 0.4572 345.73 659.57)" x="8.3" y="3.34" font-size="9.83" text-anchor="start">60</text><text transform="matrix(0.7204 0.5395 -0.8893 0.4572 362.24 651.08)" x="8.3" y="3.34" font-size="9.83" text-anchor="start">70</text><text transform="matrix(0.7204 0.5395 -0.8893 0.4572 378.49 642.72)" x="8.3" y="3.34" font-size="9.83" text-anchor="start">80</text><text transform="matrix(0.9313 -0.3642 0.05 0.9987 128.63 608.95)" x="-7.37" y="3.54" font-size="9.83" text-anchor="end">15</text><text transform="matrix(0.9313 -0.3642 0.05 0.9987 127.57 587.8)" x="-7.37" y="3.54" font-size="9.83" text-anchor="end">20</text><text transform="matrix(0.9313 -0.3642 0.05 0.9987 126.5 566.28)" x="-7.37" y="3.54" font-size="9.83" text-anchor="end">25</text><text transform="matrix(0.9313 -0.3642 0.05 0.9987 125.4 544.38)" x="-7.37" y="3.54" font-size="9.83" text-anchor="end">30</text><text transform="matrix(0.9313 -0.3642 0.05 0.9987 124.28 522.1)" x="-7.37" y="3.54" font-size="9.83" text-anchor="end">35</text><text transform="matrix(0.9313 -0.3642 0.05 0.9987 123.15 499.43)" x="-7.37" y="3.54" font-size="9.83" text-anchor="end">40</text><text transform="matrix(0.9313 -0.3642 0.05 0.9987 121.99 476.34)" x="-7.37" y="3.54" font-size="9.83" text-anchor="end">45</text><text transform="matrix(0.7084 0.5305 -0.8182 0.4207 183.44 670.01)" x="-1.89" y="41.35" font-size="12.78" text-anchor="middle">Temp. [°C]</text><text transform="matrix(0.876 -0.4504 0.8004 0.5994 311.97 676.92)" x="-0.5" y="37.35" font-size="12.78" text-anchor="middle">Ethanol conc. [%]</text><text transform="matrix(0.0485 0.9688 -0.9313 0.3642 125.95 555.38)" x="-1.52" y="39.32" font-size="12.78" text-anchor="middle">Phenolics [mg/g d.m.]</text></g>
<g font-family="'Liberation Sans', Arial, sans-serif" fill="#000"><rect x="465.64" y="698.32" width="14.55" height="8.26" fill="#860000" stroke="#5d0000" stroke-width="0.98"/><text x="485.2" y="705.99" font-size="9.91">&gt; 40</text><rect x="465.64" y="710.19" width="14.55" height="8.26" fill="#d00000" stroke="#910000" stroke-width="0.98"/><text x="485.2" y="717.86" font-size="9.91">&lt; 38</text><rect x="465.64" y="722.07" width="14.55" height="8.26" fill="#ff9600" stroke="#b26900" stroke-width="0.98"/><text x="485.2" y="729.74" font-size="9.91">&lt; 33</text><rect x="465.64" y="733.94" width="14.55" height="8.26" fill="#a5ff00" stroke="#73b200" stroke-width="0.98"/><text x="485.2" y="741.61" font-size="9.91">&lt; 28</text><rect x="465.64" y="745.82" width="14.55" height="8.26" fill="#00c000" stroke="#008600" stroke-width="0.98"/><text x="485.2" y="753.48" font-size="9.91">&lt; 23</text><rect x="465.64" y="757.69" width="14.55" height="8.26" fill="#006040" stroke="#00432c" stroke-width="0.98"/><text x="485.2" y="765.36" font-size="9.91">&lt; 18</text></g>
<g font-family="'Liberation Serif', serif" font-size="13.5" fill="#000"><text x="5.4" y="384.9">(<tspan font-weight="bold">B</tspan>)</text><text x="4.9" y="773.2" font-size="14.6">(C)</text></g>
</svg>
</body></html>
